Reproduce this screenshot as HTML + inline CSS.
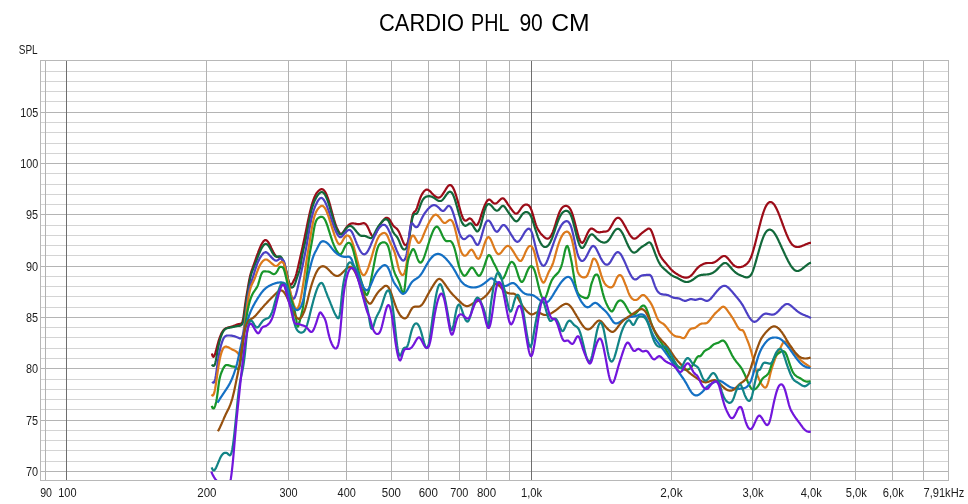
<!DOCTYPE html><html><head><meta charset="utf-8"><title>CARDIO PHL 90 CM</title>
<style>html,body{margin:0;padding:0;background:#fff;}svg{display:block;font-family:"Liberation Sans",sans-serif;}</style></head><body>
<svg width="968" height="504" viewBox="0 0 968 504">
<rect x="0" y="0" width="968" height="504" fill="#ffffff"/>
<g shape-rendering="crispEdges" fill="none" stroke-width="1">
<line x1="40" x2="949" y1="471.5" y2="471.5" stroke="#b4b4b4"/>
<line x1="40" x2="949" y1="461.5" y2="461.5" stroke="#d4d4d4"/>
<line x1="40" x2="949" y1="450.5" y2="450.5" stroke="#d4d4d4"/>
<line x1="40" x2="949" y1="440.5" y2="440.5" stroke="#d4d4d4"/>
<line x1="40" x2="949" y1="430.5" y2="430.5" stroke="#d4d4d4"/>
<line x1="40" x2="949" y1="420.5" y2="420.5" stroke="#b4b4b4"/>
<line x1="40" x2="949" y1="409.5" y2="409.5" stroke="#d4d4d4"/>
<line x1="40" x2="949" y1="399.5" y2="399.5" stroke="#d4d4d4"/>
<line x1="40" x2="949" y1="389.5" y2="389.5" stroke="#d4d4d4"/>
<line x1="40" x2="949" y1="379.5" y2="379.5" stroke="#d4d4d4"/>
<line x1="40" x2="949" y1="368.5" y2="368.5" stroke="#b4b4b4"/>
<line x1="40" x2="949" y1="358.5" y2="358.5" stroke="#d4d4d4"/>
<line x1="40" x2="949" y1="348.5" y2="348.5" stroke="#d4d4d4"/>
<line x1="40" x2="949" y1="337.5" y2="337.5" stroke="#d4d4d4"/>
<line x1="40" x2="949" y1="327.5" y2="327.5" stroke="#d4d4d4"/>
<line x1="40" x2="949" y1="317.5" y2="317.5" stroke="#b4b4b4"/>
<line x1="40" x2="949" y1="307.5" y2="307.5" stroke="#d4d4d4"/>
<line x1="40" x2="949" y1="296.5" y2="296.5" stroke="#d4d4d4"/>
<line x1="40" x2="949" y1="286.5" y2="286.5" stroke="#d4d4d4"/>
<line x1="40" x2="949" y1="276.5" y2="276.5" stroke="#d4d4d4"/>
<line x1="40" x2="949" y1="266.5" y2="266.5" stroke="#b4b4b4"/>
<line x1="40" x2="949" y1="255.5" y2="255.5" stroke="#d4d4d4"/>
<line x1="40" x2="949" y1="245.5" y2="245.5" stroke="#d4d4d4"/>
<line x1="40" x2="949" y1="235.5" y2="235.5" stroke="#d4d4d4"/>
<line x1="40" x2="949" y1="225.5" y2="225.5" stroke="#d4d4d4"/>
<line x1="40" x2="949" y1="214.5" y2="214.5" stroke="#b4b4b4"/>
<line x1="40" x2="949" y1="204.5" y2="204.5" stroke="#d4d4d4"/>
<line x1="40" x2="949" y1="194.5" y2="194.5" stroke="#d4d4d4"/>
<line x1="40" x2="949" y1="184.5" y2="184.5" stroke="#d4d4d4"/>
<line x1="40" x2="949" y1="173.5" y2="173.5" stroke="#d4d4d4"/>
<line x1="40" x2="949" y1="163.5" y2="163.5" stroke="#b4b4b4"/>
<line x1="40" x2="949" y1="153.5" y2="153.5" stroke="#d4d4d4"/>
<line x1="40" x2="949" y1="143.5" y2="143.5" stroke="#d4d4d4"/>
<line x1="40" x2="949" y1="132.5" y2="132.5" stroke="#d4d4d4"/>
<line x1="40" x2="949" y1="122.5" y2="122.5" stroke="#d4d4d4"/>
<line x1="40" x2="949" y1="112.5" y2="112.5" stroke="#b4b4b4"/>
<line x1="40" x2="949" y1="101.5" y2="101.5" stroke="#d4d4d4"/>
<line x1="40" x2="949" y1="91.5" y2="91.5" stroke="#d4d4d4"/>
<line x1="40" x2="949" y1="81.5" y2="81.5" stroke="#d4d4d4"/>
<line x1="40" x2="949" y1="71.5" y2="71.5" stroke="#d4d4d4"/>
<line x1="45.5" x2="45.5" y1="60" y2="481" stroke="#b2b2b2"/>
<line x1="206.5" x2="206.5" y1="60" y2="481" stroke="#b2b2b2"/>
<line x1="288.5" x2="288.5" y1="60" y2="481" stroke="#b2b2b2"/>
<line x1="346.5" x2="346.5" y1="60" y2="481" stroke="#b2b2b2"/>
<line x1="391.5" x2="391.5" y1="60" y2="481" stroke="#b2b2b2"/>
<line x1="428.5" x2="428.5" y1="60" y2="481" stroke="#b2b2b2"/>
<line x1="459.5" x2="459.5" y1="60" y2="481" stroke="#b2b2b2"/>
<line x1="486.5" x2="486.5" y1="60" y2="481" stroke="#b2b2b2"/>
<line x1="509.5" x2="509.5" y1="60" y2="481" stroke="#b2b2b2"/>
<line x1="671.5" x2="671.5" y1="60" y2="481" stroke="#b2b2b2"/>
<line x1="752.5" x2="752.5" y1="60" y2="481" stroke="#b2b2b2"/>
<line x1="810.5" x2="810.5" y1="60" y2="481" stroke="#b2b2b2"/>
<line x1="855.5" x2="855.5" y1="60" y2="481" stroke="#b2b2b2"/>
<line x1="892.5" x2="892.5" y1="60" y2="481" stroke="#b2b2b2"/>
<line x1="923.5" x2="923.5" y1="60" y2="481" stroke="#b2b2b2"/>
<line x1="66.5" x2="66.5" y1="60" y2="481" stroke="#6e6e6e"/>
<line x1="531.5" x2="531.5" y1="60" y2="481" stroke="#6e6e6e"/>
<rect x="40.5" y="60.5" width="908" height="420" stroke="#b8b8b8"/>
</g>
<clipPath id="pc"><rect x="41" y="61" width="907" height="419"/></clipPath>
<g clip-path="url(#pc)" fill="none" stroke-width="2.2" stroke-linejoin="round" stroke-linecap="butt">
<path d="M211.9,353.5L212.4,355.4L212.9,356.4L213.4,356.8L213.9,356.5L214.4,355.7L214.9,354.5L215.4,352.9L215.9,351.1L216.4,349.2L216.9,347.2L217.4,345.3L217.9,343.5L218.4,341.7L218.9,340.1L219.4,338.6L219.9,337.1L220.4,335.8L220.9,334.6L221.4,333.6L221.9,332.6L222.4,331.8L222.9,331.0L223.4,330.3L223.9,329.8L224.4,329.3L224.9,328.9L225.4,328.6L225.9,328.3L226.4,328.1L226.9,327.9L227.4,327.7L227.9,327.6L228.4,327.5L228.9,327.3L229.4,327.2L229.9,327.1L230.4,327.0L230.9,326.8L231.4,326.7L231.9,326.5L232.4,326.4L232.9,326.2L233.4,326.0L233.9,325.8L234.4,325.6L234.9,325.4L235.4,325.2L235.9,325.0L236.4,324.8L236.9,324.6L237.4,324.4L237.9,324.3L238.4,324.2L238.9,324.1L239.4,324.0L239.9,323.9L240.4,323.8L240.9,323.8L241.4,323.5L241.9,323.0L242.4,321.9L242.9,320.1L243.4,317.4L243.9,314.0L244.4,310.2L244.9,306.4L245.4,302.8L245.9,299.5L246.4,296.4L246.9,293.5L247.4,290.6L247.9,287.7L248.4,284.7L248.9,281.9L249.4,279.2L249.9,276.9L250.4,274.8L250.9,273.0L251.4,271.4L251.9,269.9L252.4,268.5L252.9,267.1L253.4,265.7L253.9,264.3L254.4,262.9L254.9,261.5L255.4,260.1L255.9,258.7L256.4,257.2L256.9,255.8L257.4,254.4L257.9,253.1L258.4,251.7L258.9,250.4L259.4,249.1L259.9,247.9L260.4,246.7L260.9,245.6L261.4,244.6L261.9,243.7L262.4,242.8L262.9,242.1L263.4,241.4L263.9,240.9L264.4,240.5L264.9,240.2L265.4,240.1L265.9,240.2L266.4,240.3L266.9,240.7L267.4,241.1L267.9,241.7L268.4,242.4L268.9,243.2L269.4,244.1L269.9,245.1L270.4,246.1L270.9,247.1L271.4,248.2L271.9,249.2L272.4,250.3L272.9,251.3L273.4,252.3L273.9,253.2L274.4,254.0L274.9,254.8L275.4,255.4L275.9,256.0L276.4,256.4L276.9,256.8L277.4,256.9L277.9,257.0L278.4,257.1L278.9,257.1L279.4,257.2L279.9,257.3L280.4,257.6L280.9,258.0L281.4,258.5L281.9,259.2L282.4,260.1L282.9,261.1L283.4,262.3L283.9,263.7L284.4,265.2L284.9,266.8L285.4,268.6L285.9,270.6L286.4,272.6L286.9,274.7L287.4,276.7L287.9,278.7L288.4,280.5L288.9,282.0L289.4,283.2L289.9,284.1L290.4,284.6L290.9,284.7L291.4,284.4L291.9,283.9L292.4,283.1L292.9,282.2L293.4,281.2L293.9,280.2L294.4,279.2L294.9,278.1L295.4,276.8L295.9,275.4L296.4,273.8L296.9,271.9L297.4,269.8L297.9,267.7L298.4,265.5L298.9,263.3L299.4,261.1L299.9,258.9L300.4,256.6L300.9,254.4L301.4,252.2L301.9,250.0L302.4,247.7L302.9,245.4L303.4,243.1L303.9,240.8L304.4,238.4L304.9,236.0L305.4,233.5L305.9,231.1L306.4,228.6L306.9,226.1L307.4,223.7L307.9,221.3L308.4,219.0L308.9,216.7L309.4,214.4L309.9,212.3L310.4,210.2L310.9,208.3L311.4,206.4L311.9,204.6L312.4,202.9L312.9,201.4L313.4,199.9L313.9,198.5L314.4,197.3L314.9,196.2L315.4,195.2L315.9,194.3L316.4,193.4L316.9,192.7L317.4,192.1L317.9,191.5L318.4,191.0L318.9,190.5L319.4,190.1L319.9,189.8L320.4,189.5L320.9,189.3L321.4,189.2L321.9,189.2L322.4,189.3L322.9,189.5L323.4,189.8L323.9,190.3L324.4,190.9L324.9,191.5L325.4,192.3L325.9,193.3L326.4,194.3L326.9,195.5L327.4,196.8L327.9,198.2L328.4,199.6L328.9,201.2L329.4,202.9L329.9,204.6L330.4,206.4L330.9,208.3L331.4,210.1L331.9,212.0L332.4,213.9L332.9,215.7L333.4,217.5L333.9,219.3L334.4,220.9L334.9,222.5L335.4,224.0L335.9,225.4L336.4,226.7L336.9,227.9L337.4,229.0L337.9,230.1L338.4,231.0L338.9,231.9L339.4,232.7L339.9,233.3L340.4,233.7L340.9,233.9L341.4,233.9L341.9,233.6L342.4,233.1L342.9,232.6L343.4,231.9L343.9,231.1L344.4,230.3L344.9,229.6L345.4,228.8L345.9,228.1L346.4,227.4L346.9,226.8L347.4,226.2L347.9,225.7L348.4,225.2L348.9,224.7L349.4,224.4L349.9,224.1L350.4,223.8L350.9,223.7L351.4,223.5L351.9,223.4L352.4,223.4L352.9,223.4L353.4,223.4L353.9,223.5L354.4,223.5L354.9,223.6L355.4,223.7L355.9,223.8L356.4,223.9L356.9,224.0L357.4,224.0L357.9,224.1L358.4,224.1L358.9,224.1L359.4,224.0L359.9,224.0L360.4,223.9L360.9,223.8L361.4,223.7L361.9,223.5L362.4,223.4L362.9,223.3L363.4,223.2L363.9,223.2L364.4,223.3L364.9,223.5L365.4,223.9L365.9,224.3L366.4,224.9L366.9,225.6L367.4,226.5L367.9,227.4L368.4,228.5L368.9,229.6L369.4,230.7L369.9,231.9L370.4,232.9L370.9,233.9L371.4,234.8L371.9,235.5L372.4,235.9L372.9,236.2L373.4,236.2L373.9,236.0L374.4,235.6L374.9,235.0L375.4,234.2L375.9,233.2L376.4,232.2L376.9,231.1L377.4,230.0L377.9,228.9L378.4,227.8L378.9,226.8L379.4,225.9L379.9,225.0L380.4,224.2L380.9,223.4L381.4,222.7L381.9,222.0L382.4,221.3L382.9,220.7L383.4,220.1L383.9,219.5L384.4,219.0L384.9,218.6L385.4,218.2L385.9,217.9L386.4,217.8L386.9,217.8L387.4,217.9L387.9,218.1L388.4,218.4L388.9,218.9L389.4,219.5L389.9,220.2L390.4,221.0L390.9,221.9L391.4,222.7L391.9,223.6L392.4,224.5L392.9,225.2L393.4,225.8L393.9,226.3L394.4,226.8L394.9,227.2L395.4,227.6L395.9,228.0L396.4,228.4L396.9,228.9L397.4,229.4L397.9,230.1L398.4,230.9L398.9,231.8L399.4,232.8L399.9,234.0L400.4,235.2L400.9,236.4L401.4,237.6L401.9,238.9L402.4,240.2L402.9,241.4L403.4,242.5L403.9,243.5L404.4,244.3L404.9,244.9L405.4,245.2L405.9,245.2L406.4,245.0L406.9,244.3L407.4,243.3L407.9,241.9L408.4,240.1L408.9,237.8L409.4,235.0L409.9,231.7L410.4,228.3L410.9,224.7L411.4,221.4L411.9,218.4L412.4,216.0L412.9,214.3L413.4,213.2L413.9,212.4L414.4,211.9L414.9,211.4L415.4,211.0L415.9,210.3L416.4,209.3L416.9,208.1L417.4,206.7L417.9,205.2L418.4,203.6L418.9,202.0L419.4,200.4L419.9,199.0L420.4,197.7L420.9,196.5L421.4,195.4L421.9,194.4L422.4,193.6L422.9,192.8L423.4,192.1L423.9,191.5L424.4,190.9L424.9,190.5L425.4,190.1L425.9,189.8L426.4,189.7L426.9,189.6L427.4,189.7L427.9,189.8L428.4,190.0L428.9,190.4L429.4,190.7L429.9,191.2L430.4,191.6L430.9,192.1L431.4,192.7L431.9,193.2L432.4,193.7L432.9,194.3L433.4,194.8L433.9,195.2L434.4,195.7L434.9,196.1L435.4,196.5L435.9,196.8L436.4,197.1L436.9,197.3L437.4,197.5L437.9,197.6L438.4,197.6L438.9,197.6L439.4,197.5L439.9,197.2L440.4,196.9L440.9,196.5L441.4,196.0L441.9,195.4L442.4,194.7L442.9,194.0L443.4,193.2L443.9,192.4L444.4,191.6L444.9,190.8L445.4,190.0L445.9,189.2L446.4,188.4L446.9,187.6L447.4,186.9L447.9,186.3L448.4,185.8L448.9,185.4L449.4,185.1L449.9,185.0L450.4,185.0L450.9,185.2L451.4,185.6L451.9,186.1L452.4,186.7L452.9,187.5L453.4,188.4L453.9,189.5L454.4,190.7L454.9,192.0L455.4,193.4L455.9,194.9L456.4,196.5L456.9,198.2L457.4,199.9L457.9,201.7L458.4,203.5L458.9,205.3L459.4,207.1L459.9,208.9L460.4,210.7L460.9,212.4L461.4,214.0L461.9,215.4L462.4,216.8L462.9,217.9L463.4,218.9L463.9,219.7L464.4,220.2L464.9,220.5L465.4,220.7L465.9,220.7L466.4,220.5L466.9,220.2L467.4,219.8L467.9,219.4L468.4,219.0L468.9,218.7L469.4,218.4L469.9,218.4L470.4,218.6L470.9,218.9L471.4,219.3L471.9,219.9L472.4,220.5L472.9,221.3L473.4,222.0L473.9,222.7L474.4,223.5L474.9,224.1L475.4,224.7L475.9,225.0L476.4,225.2L476.9,225.1L477.4,224.7L477.9,224.0L478.4,223.1L478.9,222.0L479.4,220.7L479.9,219.3L480.4,217.8L480.9,216.3L481.4,214.7L481.9,213.2L482.4,211.7L482.9,210.2L483.4,208.8L483.9,207.5L484.4,206.2L484.9,205.0L485.4,203.9L485.9,202.9L486.4,202.0L486.9,201.2L487.4,200.6L487.9,200.1L488.4,199.8L488.9,199.6L489.4,199.6L489.9,199.8L490.4,200.1L490.9,200.5L491.4,201.0L491.9,201.6L492.4,202.1L492.9,202.6L493.4,203.0L493.9,203.3L494.4,203.5L494.9,203.6L495.4,203.5L495.9,203.4L496.4,203.2L496.9,202.9L497.4,202.5L497.9,202.0L498.4,201.5L498.9,201.0L499.4,200.5L499.9,200.0L500.4,199.5L500.9,199.1L501.4,198.7L501.9,198.5L502.4,198.3L502.9,198.3L503.4,198.5L503.9,198.8L504.4,199.3L504.9,199.9L505.4,200.5L505.9,201.2L506.4,202.0L506.9,202.7L507.4,203.5L507.9,204.3L508.4,205.0L508.9,205.7L509.4,206.4L509.9,207.1L510.4,207.8L510.9,208.5L511.4,209.2L511.9,209.8L512.4,210.5L512.9,211.1L513.4,211.7L513.9,212.3L514.4,212.8L514.9,213.2L515.4,213.5L515.9,213.6L516.4,213.6L516.9,213.5L517.4,213.2L517.9,212.7L518.4,212.2L518.9,211.5L519.4,210.8L519.9,210.1L520.4,209.3L520.9,208.6L521.4,207.9L521.9,207.2L522.4,206.6L522.9,206.1L523.4,205.7L523.9,205.3L524.4,205.0L524.9,204.8L525.4,204.6L525.9,204.6L526.4,204.6L526.9,204.6L527.4,204.7L527.9,204.9L528.4,205.2L528.9,205.6L529.4,206.2L529.9,206.9L530.4,207.7L530.9,208.8L531.4,210.0L531.9,211.4L532.4,213.0L532.9,214.6L533.4,216.4L533.9,218.1L534.4,219.9L534.9,221.6L535.4,223.2L535.9,224.6L536.4,225.9L536.9,227.1L537.4,228.2L537.9,229.2L538.4,230.1L538.9,231.0L539.4,231.7L539.9,232.4L540.4,233.1L540.9,233.7L541.4,234.2L541.9,234.7L542.4,235.3L542.9,235.8L543.4,236.3L543.9,236.8L544.4,237.2L544.9,237.6L545.4,238.0L545.9,238.3L546.4,238.5L546.9,238.6L547.4,238.7L547.9,238.6L548.4,238.5L548.9,238.2L549.4,237.8L549.9,237.3L550.4,236.7L550.9,235.9L551.4,235.1L551.9,234.1L552.4,233.0L552.9,231.8L553.4,230.5L553.9,229.1L554.4,227.6L554.9,226.1L555.4,224.5L555.9,222.8L556.4,221.2L556.9,219.6L557.4,218.0L557.9,216.5L558.4,215.0L558.9,213.7L559.4,212.4L559.9,211.3L560.4,210.3L560.9,209.5L561.4,208.7L561.9,208.0L562.4,207.5L562.9,207.0L563.4,206.6L563.9,206.4L564.4,206.1L564.9,206.0L565.4,205.9L565.9,205.9L566.4,205.9L566.9,206.0L567.4,206.2L567.9,206.4L568.4,206.8L568.9,207.2L569.4,207.8L569.9,208.5L570.4,209.3L570.9,210.3L571.4,211.4L571.9,212.6L572.4,214.1L572.9,215.6L573.4,217.3L573.9,219.1L574.4,220.9L574.9,222.8L575.4,224.8L575.9,226.7L576.4,228.7L576.9,230.6L577.4,232.5L577.9,234.3L578.4,236.0L578.9,237.6L579.4,239.0L579.9,240.2L580.4,241.3L580.9,242.0L581.4,242.6L581.9,242.8L582.4,242.8L582.9,242.4L583.4,241.9L583.9,241.1L584.4,240.2L584.9,239.1L585.4,238.0L585.9,236.9L586.4,235.7L586.9,234.6L587.4,233.5L587.9,232.5L588.4,231.6L588.9,230.7L589.4,230.0L589.9,229.4L590.4,229.0L590.9,228.7L591.4,228.6L591.9,228.6L592.4,228.7L592.9,228.9L593.4,229.2L593.9,229.5L594.4,229.9L594.9,230.3L595.4,230.7L595.9,231.1L596.4,231.5L596.9,231.8L597.4,232.0L597.9,232.1L598.4,232.2L598.9,232.3L599.4,232.3L599.9,232.3L600.4,232.2L600.9,232.1L601.4,232.0L601.9,232.0L602.4,231.9L602.9,231.8L603.4,231.7L603.9,231.7L604.4,231.7L604.9,231.6L605.4,231.6L605.9,231.5L606.4,231.4L606.9,231.2L607.4,231.0L607.9,230.7L608.4,230.3L608.9,229.8L609.4,229.2L609.9,228.5L610.4,227.7L610.9,226.8L611.4,225.9L611.9,225.0L612.4,224.1L612.9,223.2L613.4,222.3L613.9,221.4L614.4,220.7L614.9,220.0L615.4,219.3L615.9,218.8L616.4,218.4L616.9,218.1L617.4,217.9L617.9,217.8L618.4,217.8L618.9,217.9L619.4,218.2L619.9,218.6L620.4,219.0L620.9,219.6L621.4,220.2L621.9,220.9L622.4,221.7L622.9,222.5L623.4,223.3L623.9,224.2L624.4,225.1L624.9,226.0L625.4,226.9L625.9,227.8L626.4,228.8L626.9,229.7L627.4,230.6L627.9,231.5L628.4,232.4L628.9,233.3L629.4,234.1L629.9,234.9L630.4,235.6L630.9,236.3L631.4,236.9L631.9,237.4L632.4,237.8L632.9,238.2L633.4,238.5L633.9,238.6L634.4,238.7L634.9,238.6L635.4,238.5L635.9,238.3L636.4,238.0L636.9,237.6L637.4,237.2L637.9,236.8L638.4,236.3L638.9,235.8L639.4,235.4L639.9,234.9L640.4,234.4L640.9,233.9L641.4,233.5L641.9,233.1L642.4,232.7L642.9,232.3L643.4,231.9L643.9,231.5L644.4,231.2L644.9,230.8L645.4,230.5L645.9,230.1L646.4,229.8L646.9,229.4L647.4,229.1L647.9,228.8L648.4,228.6L648.9,228.6L649.4,228.6L649.9,228.9L650.4,229.3L650.9,230.0L651.4,231.0L651.9,232.0L652.4,233.3L652.9,234.7L653.4,236.1L653.9,237.7L654.4,239.2L654.9,240.8L655.4,242.5L655.9,244.1L656.4,245.6L656.9,247.2L657.4,248.7L657.9,250.2L658.4,251.5L658.9,252.8L659.4,254.0L659.9,255.0L660.4,256.0L660.9,256.9L661.4,257.7L661.9,258.5L662.4,259.1L662.9,259.8L663.4,260.4L663.9,261.0L664.4,261.6L664.9,262.1L665.4,262.7L665.9,263.3L666.4,263.9L666.9,264.5L667.4,265.1L667.9,265.7L668.4,266.3L668.9,266.9L669.4,267.5L669.9,268.1L670.4,268.7L670.9,269.2L671.4,269.7L671.9,270.2L672.4,270.7L672.9,271.1L673.4,271.6L673.9,272.0L674.4,272.3L674.9,272.7L675.4,273.0L675.9,273.4L676.4,273.7L676.9,274.0L677.4,274.3L677.9,274.6L678.4,274.9L678.9,275.2L679.4,275.4L679.9,275.7L680.4,276.0L680.9,276.2L681.4,276.5L681.9,276.7L682.4,276.9L682.9,277.1L683.4,277.3L683.9,277.4L684.4,277.5L684.9,277.6L685.4,277.7L685.9,277.7L686.4,277.7L686.9,277.6L687.4,277.5L687.9,277.4L688.4,277.2L688.9,277.0L689.4,276.7L689.9,276.4L690.4,276.1L690.9,275.7L691.4,275.2L691.9,274.7L692.4,274.2L692.9,273.6L693.4,273.0L693.9,272.3L694.4,271.7L694.9,271.1L695.4,270.4L695.9,269.8L696.4,269.2L696.9,268.6L697.4,268.1L697.9,267.6L698.4,267.2L698.9,266.7L699.4,266.3L699.9,266.0L700.4,265.6L700.9,265.3L701.4,265.0L701.9,264.7L702.4,264.5L702.9,264.2L703.4,264.0L703.9,263.8L704.4,263.6L704.9,263.5L705.4,263.3L705.9,263.2L706.4,263.1L706.9,263.1L707.4,263.0L707.9,263.0L708.4,263.0L708.9,263.0L709.4,263.0L709.9,263.0L710.4,263.0L710.9,263.0L711.4,263.0L711.9,263.0L712.4,262.9L712.9,262.8L713.4,262.6L713.9,262.5L714.4,262.2L714.9,262.0L715.4,261.7L715.9,261.4L716.4,261.0L716.9,260.7L717.4,260.3L717.9,259.9L718.4,259.5L718.9,259.1L719.4,258.7L719.9,258.2L720.4,257.8L720.9,257.4L721.4,257.0L721.9,256.7L722.4,256.4L722.9,256.2L723.4,256.0L723.9,256.0L724.4,256.0L724.9,256.1L725.4,256.3L725.9,256.6L726.4,257.0L726.9,257.4L727.4,257.9L727.9,258.4L728.4,259.0L728.9,259.6L729.4,260.2L729.9,260.8L730.4,261.5L730.9,262.1L731.4,262.7L731.9,263.3L732.4,263.9L732.9,264.5L733.4,264.9L733.9,265.4L734.4,265.8L734.9,266.1L735.4,266.4L735.9,266.6L736.4,266.8L736.9,267.0L737.4,267.1L737.9,267.2L738.4,267.2L738.9,267.3L739.4,267.2L739.9,267.2L740.4,267.1L740.9,267.0L741.4,266.9L741.9,266.8L742.4,266.6L742.9,266.4L743.4,266.2L743.9,265.9L744.4,265.6L744.9,265.3L745.4,265.0L745.9,264.6L746.4,264.2L746.9,263.7L747.4,263.2L747.9,262.7L748.4,262.0L748.9,261.3L749.4,260.5L749.9,259.6L750.4,258.6L750.9,257.5L751.4,256.2L751.9,254.8L752.4,253.3L752.9,251.7L753.4,250.0L753.9,248.3L754.4,246.5L754.9,244.6L755.4,242.7L755.9,240.7L756.4,238.7L756.9,236.7L757.4,234.7L757.9,232.6L758.4,230.6L758.9,228.6L759.4,226.6L759.9,224.7L760.4,222.7L760.9,220.8L761.4,219.0L761.9,217.3L762.4,215.6L762.9,213.9L763.4,212.4L763.9,211.0L764.4,209.6L764.9,208.4L765.4,207.3L765.9,206.3L766.4,205.4L766.9,204.6L767.4,203.9L767.9,203.3L768.4,202.9L768.9,202.5L769.4,202.2L769.9,202.1L770.4,202.0L770.9,202.0L771.4,202.2L771.9,202.4L772.4,202.7L772.9,203.2L773.4,203.7L773.9,204.3L774.4,204.9L774.9,205.7L775.4,206.6L775.9,207.5L776.4,208.5L776.9,209.5L777.4,210.6L777.9,211.7L778.4,212.9L778.9,214.2L779.4,215.4L779.9,216.7L780.4,218.1L780.9,219.4L781.4,220.7L781.9,222.1L782.4,223.5L782.9,224.8L783.4,226.2L783.9,227.5L784.4,228.9L784.9,230.2L785.4,231.5L785.9,232.7L786.4,234.0L786.9,235.1L787.4,236.3L787.9,237.4L788.4,238.5L788.9,239.5L789.4,240.4L789.9,241.3L790.4,242.1L790.9,242.9L791.4,243.6L791.9,244.2L792.4,244.8L792.9,245.2L793.4,245.6L793.9,246.0L794.4,246.3L794.9,246.5L795.4,246.7L795.9,246.8L796.4,246.9L796.9,247.0L797.4,247.0L797.9,247.0L798.4,247.0L798.9,246.9L799.4,246.8L799.9,246.7L800.4,246.5L800.9,246.4L801.4,246.2L801.9,246.0L802.4,245.8L802.9,245.6L803.4,245.4L803.9,245.2L804.4,244.9L804.9,244.7L805.4,244.5L805.9,244.3L806.4,244.1L806.9,243.9L807.4,243.7L807.9,243.5L808.4,243.3L808.9,243.2L809.4,243.0L809.9,242.9L810.4,242.9L810.9,242.8L811.0,242.8" stroke="#9c0c18"/>
<path d="M211.9,364.5L212.4,365.3L212.9,365.8L213.4,366.0L213.9,365.9L214.4,365.3L214.9,364.2L215.4,362.6L215.9,360.3L216.4,357.6L216.9,354.7L217.4,351.7L217.9,348.9L218.4,346.3L218.9,344.0L219.4,341.9L219.9,340.0L220.4,338.2L220.9,336.7L221.4,335.3L221.9,334.0L222.4,332.9L222.9,332.0L223.4,331.1L223.9,330.5L224.4,329.9L224.9,329.4L225.4,329.0L225.9,328.7L226.4,328.5L226.9,328.3L227.4,328.1L227.9,328.0L228.4,327.9L228.9,327.8L229.4,327.7L229.9,327.6L230.4,327.5L230.9,327.4L231.4,327.3L231.9,327.2L232.4,327.1L232.9,327.0L233.4,326.9L233.9,326.8L234.4,326.7L234.9,326.6L235.4,326.4L235.9,326.3L236.4,326.2L236.9,326.1L237.4,326.0L237.9,326.0L238.4,325.9L238.9,325.9L239.4,325.8L239.9,325.7L240.4,325.6L240.9,325.3L241.4,325.0L241.9,324.5L242.4,323.7L242.9,322.5L243.4,320.7L243.9,318.1L244.4,314.8L244.9,311.1L245.4,307.3L245.9,303.6L246.4,300.3L246.9,297.2L247.4,294.2L247.9,291.4L248.4,288.5L248.9,285.5L249.4,282.6L249.9,279.9L250.4,277.5L250.9,275.5L251.4,273.7L251.9,272.2L252.4,270.8L252.9,269.5L253.4,268.4L253.9,267.2L254.4,266.0L254.9,264.7L255.4,263.4L255.9,262.1L256.4,260.8L256.9,259.4L257.4,258.1L257.9,256.7L258.4,255.4L258.9,254.2L259.4,253.0L259.9,251.8L260.4,250.7L260.9,249.6L261.4,248.6L261.9,247.7L262.4,246.9L262.9,246.1L263.4,245.5L263.9,244.9L264.4,244.4L264.9,244.1L265.4,243.9L265.9,243.9L266.4,244.0L266.9,244.2L267.4,244.6L267.9,245.1L268.4,245.7L268.9,246.4L269.4,247.2L269.9,248.0L270.4,248.9L270.9,249.8L271.4,250.8L271.9,251.7L272.4,252.6L272.9,253.4L273.4,254.1L273.9,254.8L274.4,255.4L274.9,255.9L275.4,256.3L275.9,256.5L276.4,256.7L276.9,256.8L277.4,256.8L277.9,256.6L278.4,256.5L278.9,256.3L279.4,256.3L279.9,256.3L280.4,256.5L280.9,256.9L281.4,257.5L281.9,258.2L282.4,259.1L282.9,260.1L283.4,261.2L283.9,262.5L284.4,263.9L284.9,265.5L285.4,267.3L285.9,269.3L286.4,271.5L286.9,273.8L287.4,276.1L287.9,278.4L288.4,280.6L288.9,282.6L289.4,284.4L289.9,285.8L290.4,286.7L290.9,287.3L291.4,287.5L291.9,287.6L292.4,287.4L292.9,287.1L293.4,286.6L293.9,285.9L294.4,285.0L294.9,283.9L295.4,282.6L295.9,281.1L296.4,279.5L296.9,278.0L297.4,276.4L297.9,275.0L298.4,273.6L298.9,272.2L299.4,270.5L299.9,268.5L300.4,266.0L300.9,263.2L301.4,260.3L301.9,257.3L302.4,254.5L302.9,252.0L303.4,249.7L303.9,247.6L304.4,245.4L304.9,243.3L305.4,241.1L305.9,238.7L306.4,236.1L306.9,233.5L307.4,230.7L307.9,227.9L308.4,225.1L308.9,222.3L309.4,219.7L309.9,217.1L310.4,214.8L310.9,212.6L311.4,210.6L311.9,208.7L312.4,207.0L312.9,205.4L313.4,204.0L313.9,202.6L314.4,201.4L314.9,200.2L315.4,199.2L315.9,198.2L316.4,197.3L316.9,196.5L317.4,195.7L317.9,195.0L318.4,194.4L318.9,193.8L319.4,193.3L319.9,192.9L320.4,192.5L320.9,192.3L321.4,192.1L321.9,192.1L322.4,192.2L322.9,192.4L323.4,192.8L323.9,193.3L324.4,193.9L324.9,194.7L325.4,195.5L325.9,196.5L326.4,197.6L326.9,198.7L327.4,200.0L327.9,201.4L328.4,202.8L328.9,204.4L329.4,206.0L329.9,207.7L330.4,209.4L330.9,211.1L331.4,212.9L331.9,214.7L332.4,216.5L332.9,218.2L333.4,219.9L333.9,221.5L334.4,223.0L334.9,224.5L335.4,225.8L335.9,227.1L336.4,228.3L336.9,229.4L337.4,230.4L337.9,231.3L338.4,232.1L338.9,232.9L339.4,233.5L339.9,234.1L340.4,234.4L340.9,234.5L341.4,234.4L341.9,234.1L342.4,233.7L342.9,233.1L343.4,232.4L343.9,231.7L344.4,230.9L344.9,230.2L345.4,229.5L345.9,228.8L346.4,228.2L346.9,227.7L347.4,227.2L347.9,226.7L348.4,226.4L348.9,226.2L349.4,226.0L349.9,226.0L350.4,226.0L350.9,226.1L351.4,226.3L351.9,226.6L352.4,227.0L352.9,227.4L353.4,227.9L353.9,228.4L354.4,229.0L354.9,229.6L355.4,230.2L355.9,230.8L356.4,231.5L356.9,232.1L357.4,232.7L357.9,233.3L358.4,233.9L358.9,234.4L359.4,234.8L359.9,235.2L360.4,235.5L360.9,235.7L361.4,235.8L361.9,235.9L362.4,235.9L362.9,235.9L363.4,235.9L363.9,235.9L364.4,235.9L364.9,236.0L365.4,236.1L365.9,236.3L366.4,236.4L366.9,236.7L367.4,236.9L367.9,237.2L368.4,237.4L368.9,237.6L369.4,237.9L369.9,238.0L370.4,238.1L370.9,238.1L371.4,238.0L371.9,237.6L372.4,237.1L372.9,236.5L373.4,235.7L373.9,234.8L374.4,233.8L374.9,232.8L375.4,231.8L375.9,230.8L376.4,229.8L376.9,228.9L377.4,228.0L377.9,227.2L378.4,226.4L378.9,225.7L379.4,225.0L379.9,224.4L380.4,223.7L380.9,223.1L381.4,222.5L381.9,221.9L382.4,221.4L382.9,220.9L383.4,220.4L383.9,220.0L384.4,219.7L384.9,219.4L385.4,219.3L385.9,219.2L386.4,219.2L386.9,219.4L387.4,219.8L387.9,220.2L388.4,220.9L388.9,221.8L389.4,222.8L389.9,224.0L390.4,225.3L390.9,226.6L391.4,228.0L391.9,229.2L392.4,230.4L392.9,231.5L393.4,232.4L393.9,233.2L394.4,233.9L394.9,234.5L395.4,235.0L395.9,235.6L396.4,236.2L396.9,236.8L397.4,237.5L397.9,238.4L398.4,239.4L398.9,240.5L399.4,241.7L399.9,243.0L400.4,244.2L400.9,245.4L401.4,246.6L401.9,247.5L402.4,248.3L402.9,248.9L403.4,249.3L403.9,249.5L404.4,249.5L404.9,249.4L405.4,249.0L405.9,248.5L406.4,247.9L406.9,246.9L407.4,245.7L407.9,244.1L408.4,242.2L408.9,239.9L409.4,237.1L409.9,233.8L410.4,230.3L410.9,226.8L411.4,223.5L411.9,220.5L412.4,218.1L412.9,216.4L413.4,215.2L413.9,214.5L414.4,214.2L414.9,214.0L415.4,214.0L415.9,213.9L416.4,213.8L416.9,213.3L417.4,212.6L417.9,211.7L418.4,210.6L418.9,209.4L419.4,208.0L419.9,206.6L420.4,205.2L420.9,203.9L421.4,202.6L421.9,201.5L422.4,200.5L422.9,199.7L423.4,199.0L423.9,198.4L424.4,197.9L424.9,197.4L425.4,197.1L425.9,196.8L426.4,196.6L426.9,196.5L427.4,196.3L427.9,196.3L428.4,196.2L428.9,196.2L429.4,196.2L429.9,196.3L430.4,196.3L430.9,196.5L431.4,196.6L431.9,196.8L432.4,197.0L432.9,197.2L433.4,197.5L433.9,197.8L434.4,198.1L434.9,198.5L435.4,198.8L435.9,199.2L436.4,199.5L436.9,199.9L437.4,200.2L437.9,200.5L438.4,200.7L438.9,200.9L439.4,201.0L439.9,201.0L440.4,201.0L440.9,200.9L441.4,200.7L441.9,200.4L442.4,200.0L442.9,199.5L443.4,198.9L443.9,198.3L444.4,197.6L444.9,196.9L445.4,196.2L445.9,195.5L446.4,194.7L446.9,194.1L447.4,193.4L447.9,192.9L448.4,192.4L448.9,192.0L449.4,191.8L449.9,191.7L450.4,191.8L450.9,192.0L451.4,192.4L451.9,192.9L452.4,193.6L452.9,194.5L453.4,195.6L453.9,196.8L454.4,198.1L454.9,199.6L455.4,201.2L455.9,202.9L456.4,204.7L456.9,206.5L457.4,208.3L457.9,210.1L458.4,211.9L458.9,213.7L459.4,215.4L459.9,217.0L460.4,218.5L460.9,219.8L461.4,221.1L461.9,222.2L462.4,223.2L462.9,224.0L463.4,224.6L463.9,225.1L464.4,225.5L464.9,225.7L465.4,225.8L465.9,225.7L466.4,225.5L466.9,225.3L467.4,224.9L467.9,224.5L468.4,224.2L468.9,223.8L469.4,223.5L469.9,223.4L470.4,223.4L470.9,223.5L471.4,223.8L471.9,224.3L472.4,225.0L472.9,225.7L473.4,226.5L473.9,227.3L474.4,228.1L474.9,229.0L475.4,229.7L475.9,230.4L476.4,230.9L476.9,231.3L477.4,231.4L477.9,231.2L478.4,230.7L478.9,230.0L479.4,229.0L479.9,227.8L480.4,226.3L480.9,224.7L481.4,222.9L481.9,221.0L482.4,219.0L482.9,216.9L483.4,214.9L483.9,213.0L484.4,211.1L484.9,209.5L485.4,208.0L485.9,206.8L486.4,205.9L486.9,205.1L487.4,204.6L487.9,204.3L488.4,204.1L488.9,204.1L489.4,204.2L489.9,204.5L490.4,204.8L490.9,205.3L491.4,205.8L491.9,206.3L492.4,206.9L492.9,207.5L493.4,208.1L493.9,208.7L494.4,209.2L494.9,209.7L495.4,210.1L495.9,210.4L496.4,210.6L496.9,210.7L497.4,210.6L497.9,210.4L498.4,210.1L498.9,209.6L499.4,209.1L499.9,208.5L500.4,207.8L500.9,207.3L501.4,206.7L501.9,206.3L502.4,206.0L502.9,205.9L503.4,205.9L503.9,206.2L504.4,206.6L504.9,207.1L505.4,207.8L505.9,208.5L506.4,209.3L506.9,210.0L507.4,210.8L507.9,211.6L508.4,212.3L508.9,213.0L509.4,213.7L509.9,214.4L510.4,215.1L510.9,215.8L511.4,216.5L511.9,217.1L512.4,217.8L512.9,218.5L513.4,219.1L513.9,219.7L514.4,220.3L514.9,220.7L515.4,221.1L515.9,221.3L516.4,221.3L516.9,221.2L517.4,221.0L517.9,220.5L518.4,220.0L518.9,219.3L519.4,218.6L519.9,217.9L520.4,217.1L520.9,216.3L521.4,215.6L521.9,214.9L522.4,214.3L522.9,213.8L523.4,213.3L523.9,212.9L524.4,212.6L524.9,212.3L525.4,212.2L525.9,212.1L526.4,212.1L526.9,212.1L527.4,212.3L527.9,212.5L528.4,212.8L528.9,213.2L529.4,213.7L529.9,214.4L530.4,215.2L530.9,216.1L531.4,217.2L531.9,218.5L532.4,219.9L532.9,221.3L533.4,222.9L533.9,224.5L534.4,226.2L534.9,227.8L535.4,229.4L535.9,231.0L536.4,232.5L536.9,234.0L537.4,235.4L537.9,236.8L538.4,238.1L538.9,239.3L539.4,240.5L539.9,241.5L540.4,242.5L540.9,243.4L541.4,244.2L541.9,244.9L542.4,245.5L542.9,246.0L543.4,246.4L543.9,246.7L544.4,246.9L544.9,247.0L545.4,247.0L545.9,247.0L546.4,246.8L546.9,246.5L547.4,246.2L547.9,245.7L548.4,245.2L548.9,244.5L549.4,243.8L549.9,242.9L550.4,242.0L550.9,240.9L551.4,239.8L551.9,238.6L552.4,237.3L552.9,235.9L553.4,234.5L553.9,233.0L554.4,231.6L554.9,230.1L555.4,228.5L555.9,227.0L556.4,225.6L556.9,224.1L557.4,222.7L557.9,221.3L558.4,220.0L558.9,218.8L559.4,217.7L559.9,216.6L560.4,215.7L560.9,214.9L561.4,214.1L561.9,213.4L562.4,212.8L562.9,212.3L563.4,211.9L563.9,211.6L564.4,211.3L564.9,211.1L565.4,210.9L565.9,210.8L566.4,210.8L566.9,210.9L567.4,211.0L567.9,211.3L568.4,211.6L568.9,212.1L569.4,212.7L569.9,213.4L570.4,214.3L570.9,215.3L571.4,216.5L571.9,217.9L572.4,219.4L572.9,221.1L573.4,222.9L573.9,224.9L574.4,226.8L574.9,228.9L575.4,230.9L575.9,233.0L576.4,235.0L576.9,236.9L577.4,238.7L577.9,240.4L578.4,242.0L578.9,243.4L579.4,244.7L579.9,245.8L580.4,246.7L580.9,247.4L581.4,247.8L581.9,248.0L582.4,248.0L582.9,247.8L583.4,247.3L583.9,246.7L584.4,245.9L584.9,245.0L585.4,244.1L585.9,243.0L586.4,242.0L586.9,240.9L587.4,239.8L587.9,238.8L588.4,237.8L588.9,236.9L589.4,236.1L589.9,235.5L590.4,234.9L590.9,234.6L591.4,234.4L591.9,234.3L592.4,234.4L592.9,234.7L593.4,235.1L593.9,235.5L594.4,236.0L594.9,236.5L595.4,237.1L595.9,237.6L596.4,238.2L596.9,238.7L597.4,239.1L597.9,239.6L598.4,240.0L598.9,240.4L599.4,240.8L599.9,241.1L600.4,241.4L600.9,241.7L601.4,241.9L601.9,242.1L602.4,242.3L602.9,242.5L603.4,242.5L603.9,242.6L604.4,242.6L604.9,242.5L605.4,242.4L605.9,242.3L606.4,242.0L606.9,241.7L607.4,241.4L607.9,240.9L608.4,240.4L608.9,239.8L609.4,239.2L609.9,238.4L610.4,237.6L610.9,236.8L611.4,235.9L611.9,235.1L612.4,234.2L612.9,233.4L613.4,232.6L613.9,231.8L614.4,231.1L614.9,230.5L615.4,230.0L615.9,229.5L616.4,229.2L616.9,229.0L617.4,228.8L617.9,228.8L618.4,228.8L618.9,229.0L619.4,229.3L619.9,229.7L620.4,230.2L620.9,230.8L621.4,231.5L621.9,232.3L622.4,233.1L622.9,234.1L623.4,235.1L623.9,236.1L624.4,237.2L624.9,238.3L625.4,239.5L625.9,240.7L626.4,241.8L626.9,243.0L627.4,244.1L627.9,245.1L628.4,246.2L628.9,247.1L629.4,248.0L629.9,248.9L630.4,249.7L630.9,250.4L631.4,251.0L631.9,251.5L632.4,251.9L632.9,252.3L633.4,252.5L633.9,252.6L634.4,252.6L634.9,252.5L635.4,252.3L635.9,252.1L636.4,251.7L636.9,251.3L637.4,250.9L637.9,250.4L638.4,249.9L638.9,249.4L639.4,248.9L639.9,248.4L640.4,248.0L640.9,247.5L641.4,247.2L641.9,246.8L642.4,246.5L642.9,246.2L643.4,245.9L643.9,245.6L644.4,245.3L644.9,245.0L645.4,244.7L645.9,244.3L646.4,244.0L646.9,243.6L647.4,243.2L647.9,242.9L648.4,242.6L648.9,242.4L649.4,242.4L649.9,242.5L650.4,242.9L650.9,243.5L651.4,244.3L651.9,245.2L652.4,246.4L652.9,247.6L653.4,248.9L653.9,250.2L654.4,251.5L654.9,252.8L655.4,254.2L655.9,255.5L656.4,256.7L656.9,257.9L657.4,259.1L657.9,260.2L658.4,261.3L658.9,262.3L659.4,263.2L659.9,264.0L660.4,264.8L660.9,265.5L661.4,266.1L661.9,266.7L662.4,267.2L662.9,267.7L663.4,268.2L663.9,268.7L664.4,269.1L664.9,269.6L665.4,270.0L665.9,270.4L666.4,270.9L666.9,271.3L667.4,271.8L667.9,272.2L668.4,272.7L668.9,273.1L669.4,273.5L669.9,273.9L670.4,274.3L670.9,274.7L671.4,275.0L671.9,275.4L672.4,275.7L672.9,275.9L673.4,276.2L673.9,276.4L674.4,276.7L674.9,276.9L675.4,277.1L675.9,277.4L676.4,277.6L676.9,277.8L677.4,278.1L677.9,278.3L678.4,278.6L678.9,278.9L679.4,279.1L679.9,279.4L680.4,279.7L680.9,280.0L681.4,280.3L681.9,280.6L682.4,280.8L682.9,281.0L683.4,281.3L683.9,281.5L684.4,281.6L684.9,281.8L685.4,281.9L685.9,282.0L686.4,282.0L686.9,282.0L687.4,282.0L687.9,281.9L688.4,281.8L688.9,281.7L689.4,281.5L689.9,281.4L690.4,281.1L690.9,280.9L691.4,280.6L691.9,280.3L692.4,280.0L692.9,279.7L693.4,279.3L693.9,278.9L694.4,278.6L694.9,278.2L695.4,277.8L695.9,277.4L696.4,277.0L696.9,276.7L697.4,276.4L697.9,276.1L698.4,275.9L698.9,275.6L699.4,275.5L699.9,275.3L700.4,275.2L700.9,275.0L701.4,274.9L701.9,274.9L702.4,274.8L702.9,274.8L703.4,274.7L703.9,274.7L704.4,274.6L704.9,274.6L705.4,274.6L705.9,274.5L706.4,274.5L706.9,274.5L707.4,274.4L707.9,274.3L708.4,274.3L708.9,274.2L709.4,274.1L709.9,273.9L710.4,273.8L710.9,273.6L711.4,273.5L711.9,273.2L712.4,273.0L712.9,272.8L713.4,272.5L713.9,272.1L714.4,271.8L714.9,271.4L715.4,271.0L715.9,270.6L716.4,270.1L716.9,269.6L717.4,269.1L717.9,268.6L718.4,268.1L718.9,267.5L719.4,267.0L719.9,266.5L720.4,266.0L720.9,265.5L721.4,265.0L721.9,264.6L722.4,264.1L722.9,263.8L723.4,263.5L723.9,263.2L724.4,263.1L724.9,263.0L725.4,263.0L725.9,263.1L726.4,263.3L726.9,263.6L727.4,264.0L727.9,264.4L728.4,264.9L728.9,265.5L729.4,266.1L729.9,266.6L730.4,267.2L730.9,267.8L731.4,268.4L731.9,268.9L732.4,269.5L732.9,270.0L733.4,270.5L733.9,271.0L734.4,271.5L734.9,271.9L735.4,272.4L735.9,272.8L736.4,273.1L736.9,273.5L737.4,273.8L737.9,274.1L738.4,274.4L738.9,274.6L739.4,274.9L739.9,275.1L740.4,275.3L740.9,275.5L741.4,275.7L741.9,275.9L742.4,276.1L742.9,276.3L743.4,276.5L743.9,276.7L744.4,276.9L744.9,277.1L745.4,277.2L745.9,277.3L746.4,277.3L746.9,277.3L747.4,277.3L747.9,277.2L748.4,277.1L748.9,276.8L749.4,276.5L749.9,276.1L750.4,275.6L750.9,274.9L751.4,274.1L751.9,273.2L752.4,272.1L752.9,270.9L753.4,269.5L753.9,268.0L754.4,266.5L754.9,264.8L755.4,263.1L755.9,261.4L756.4,259.6L756.9,257.8L757.4,256.0L757.9,254.3L758.4,252.5L758.9,250.7L759.4,249.0L759.9,247.3L760.4,245.6L760.9,244.0L761.4,242.4L761.9,240.9L762.4,239.5L762.9,238.1L763.4,236.9L763.9,235.7L764.4,234.6L764.9,233.7L765.4,232.8L765.9,232.1L766.4,231.5L766.9,230.9L767.4,230.5L767.9,230.2L768.4,229.9L768.9,229.7L769.4,229.7L769.9,229.7L770.4,229.7L770.9,229.9L771.4,230.1L771.9,230.4L772.4,230.8L772.9,231.3L773.4,231.8L773.9,232.4L774.4,233.1L774.9,233.8L775.4,234.6L775.9,235.5L776.4,236.4L776.9,237.3L777.4,238.3L777.9,239.3L778.4,240.3L778.9,241.4L779.4,242.4L779.9,243.5L780.4,244.6L780.9,245.7L781.4,246.8L781.9,247.9L782.4,248.9L782.9,250.0L783.4,251.1L783.9,252.2L784.4,253.3L784.9,254.4L785.4,255.4L785.9,256.5L786.4,257.5L786.9,258.6L787.4,259.6L787.9,260.6L788.4,261.5L788.9,262.4L789.4,263.3L789.9,264.2L790.4,265.0L790.9,265.8L791.4,266.5L791.9,267.2L792.4,267.9L792.9,268.4L793.4,269.0L793.9,269.4L794.4,269.9L794.9,270.2L795.4,270.5L795.9,270.7L796.4,270.9L796.9,271.0L797.4,271.0L797.9,271.0L798.4,270.9L798.9,270.7L799.4,270.5L799.9,270.3L800.4,270.0L800.9,269.7L801.4,269.4L801.9,269.0L802.4,268.6L802.9,268.2L803.4,267.8L803.9,267.4L804.4,267.0L804.9,266.6L805.4,266.2L805.9,265.8L806.4,265.4L806.9,265.0L807.4,264.6L807.9,264.3L808.4,263.9L808.9,263.6L809.4,263.3L809.9,263.1L810.4,262.9L810.9,262.7L811.0,262.7" stroke="#12683a"/>
<path d="M212.3,381.6L212.8,382.4L213.3,382.7L213.8,382.6L214.3,382.0L214.8,380.7L215.3,378.7L215.8,376.0L216.3,372.6L216.8,368.8L217.3,365.1L217.8,361.5L218.3,358.3L218.8,355.4L219.3,352.7L219.8,350.4L220.3,348.2L220.8,346.2L221.3,344.4L221.8,342.8L222.3,341.3L222.8,340.0L223.3,338.9L223.8,338.0L224.3,337.2L224.8,336.7L225.3,336.2L225.8,335.9L226.3,335.7L226.8,335.6L227.3,335.5L227.8,335.5L228.3,335.5L228.8,335.5L229.3,335.5L229.8,335.5L230.3,335.5L230.8,335.6L231.3,335.6L231.8,335.7L232.3,335.8L232.8,335.9L233.3,336.0L233.8,336.1L234.3,336.2L234.8,336.4L235.3,336.5L235.8,336.7L236.3,336.9L236.8,337.1L237.3,337.4L237.8,337.6L238.3,337.8L238.8,338.0L239.3,338.2L239.8,338.4L240.3,338.4L240.8,338.4L241.3,338.2L241.8,337.7L242.3,336.7L242.8,335.0L243.3,332.6L243.8,329.5L244.3,325.9L244.8,321.9L245.3,317.7L245.8,313.5L246.3,309.3L246.8,305.2L247.3,301.3L247.8,297.7L248.3,294.4L248.8,291.4L249.3,288.8L249.8,286.5L250.3,284.7L250.8,283.1L251.3,281.7L251.8,280.4L252.3,279.0L252.8,277.5L253.3,275.9L253.8,274.3L254.3,272.6L254.8,271.0L255.3,269.4L255.8,267.8L256.3,266.3L256.8,264.9L257.3,263.6L257.8,262.4L258.3,261.3L258.8,260.2L259.3,259.2L259.8,258.3L260.3,257.4L260.8,256.6L261.3,255.8L261.8,255.1L262.3,254.5L262.8,253.9L263.3,253.4L263.8,252.9L264.3,252.6L264.8,252.4L265.3,252.2L265.8,252.2L266.3,252.3L266.8,252.5L267.3,252.9L267.8,253.3L268.3,253.8L268.8,254.3L269.3,254.9L269.8,255.5L270.3,256.0L270.8,256.6L271.3,257.1L271.8,257.6L272.3,258.1L272.8,258.6L273.3,259.1L273.8,259.5L274.3,259.9L274.8,260.2L275.3,260.5L275.8,260.6L276.3,260.7L276.8,260.6L277.3,260.4L277.8,260.1L278.3,259.7L278.8,259.3L279.3,258.9L279.8,258.6L280.3,258.5L280.8,258.5L281.3,258.8L281.8,259.2L282.3,259.6L282.8,260.1L283.3,260.6L283.8,261.1L284.3,262.3L284.8,264.1L285.3,266.5L285.8,269.2L286.3,272.0L286.8,274.9L287.3,277.8L287.8,280.6L288.3,283.3L288.8,285.8L289.3,288.3L289.8,290.6L290.3,292.7L290.8,294.5L291.3,296.0L291.8,297.2L292.3,298.1L292.8,298.6L293.3,298.8L293.8,298.6L294.3,298.1L294.8,297.3L295.3,296.2L295.8,294.9L296.3,293.2L296.8,291.4L297.3,289.4L297.8,287.2L298.3,285.1L298.8,282.9L299.3,280.7L299.8,278.5L300.3,276.4L300.8,274.2L301.3,272.0L301.8,269.7L302.3,267.3L302.8,264.8L303.3,262.3L303.8,259.8L304.3,257.3L304.8,254.8L305.3,252.3L305.8,249.7L306.3,247.1L306.8,244.3L307.3,241.4L307.8,238.6L308.3,235.6L308.8,232.7L309.3,229.9L309.8,227.1L310.3,224.4L310.8,221.8L311.3,219.4L311.8,217.2L312.3,215.2L312.8,213.3L313.3,211.6L313.8,210.0L314.3,208.6L314.8,207.3L315.3,206.0L315.8,204.9L316.3,203.9L316.8,202.9L317.3,201.9L317.8,201.0L318.3,200.3L318.8,199.6L319.3,199.0L319.8,198.5L320.3,198.2L320.8,198.0L321.3,197.9L321.8,198.0L322.3,198.3L322.8,198.7L323.3,199.2L323.8,199.8L324.3,200.6L324.8,201.5L325.3,202.4L325.8,203.5L326.3,204.6L326.8,205.9L327.3,207.2L327.8,208.5L328.3,209.9L328.8,211.4L329.3,212.9L329.8,214.4L330.3,216.0L330.8,217.5L331.3,219.1L331.8,220.6L332.3,222.1L332.8,223.5L333.3,225.0L333.8,226.3L334.3,227.6L334.8,228.9L335.3,230.1L335.8,231.2L336.3,232.2L336.8,233.2L337.3,234.1L337.8,234.9L338.3,235.7L338.8,236.3L339.3,236.7L339.8,237.1L340.3,237.2L340.8,237.2L341.3,236.9L341.8,236.6L342.3,236.2L342.8,235.6L343.3,235.0L343.8,234.4L344.3,233.8L344.8,233.2L345.3,232.6L345.8,232.1L346.3,231.6L346.8,231.1L347.3,230.7L347.8,230.4L348.3,230.1L348.8,230.0L349.3,229.9L349.8,230.0L350.3,230.3L350.8,230.6L351.3,231.2L351.8,231.9L352.3,232.8L352.8,233.8L353.3,234.9L353.8,236.0L354.3,237.3L354.8,238.5L355.3,239.8L355.8,241.1L356.3,242.3L356.8,243.6L357.3,244.8L357.8,245.9L358.3,247.0L358.8,248.1L359.3,249.1L359.8,250.0L360.3,250.9L360.8,251.7L361.3,252.4L361.8,253.0L362.3,253.5L362.8,253.9L363.3,254.1L363.8,254.3L364.3,254.3L364.8,254.2L365.3,254.0L365.8,253.6L366.3,253.1L366.8,252.6L367.3,251.9L367.8,251.1L368.3,250.3L368.8,249.3L369.3,248.3L369.8,247.2L370.3,246.1L370.8,244.9L371.3,243.7L371.8,242.5L372.3,241.3L372.8,240.1L373.3,239.0L373.8,237.8L374.3,236.7L374.8,235.6L375.3,234.5L375.8,233.5L376.3,232.6L376.8,231.6L377.3,230.7L377.8,229.9L378.3,229.1L378.8,228.4L379.3,227.7L379.8,227.1L380.3,226.6L380.8,226.1L381.3,225.7L381.8,225.4L382.3,225.1L382.8,224.9L383.3,224.8L383.8,224.8L384.3,224.9L384.8,225.0L385.3,225.3L385.8,225.8L386.3,226.3L386.8,226.9L387.3,227.7L387.8,228.5L388.3,229.4L388.8,230.5L389.3,231.5L389.8,232.7L390.3,233.9L390.8,235.1L391.3,236.4L391.8,237.7L392.3,239.0L392.8,240.3L393.3,241.7L393.8,243.0L394.3,244.4L394.8,245.7L395.3,247.0L395.8,248.2L396.3,249.5L396.8,250.7L397.3,251.8L397.8,252.9L398.3,254.0L398.8,255.0L399.3,256.0L399.8,256.9L400.3,257.7L400.8,258.5L401.3,259.2L401.8,259.7L402.3,260.2L402.8,260.5L403.3,260.6L403.8,260.5L404.3,260.1L404.8,259.5L405.3,258.6L405.8,257.2L406.3,255.5L406.8,253.3L407.3,250.6L407.8,247.3L408.3,243.4L408.8,239.1L409.3,234.6L409.8,230.5L410.3,227.2L410.8,225.0L411.3,223.8L411.8,223.3L412.3,223.4L412.8,223.8L413.3,224.5L413.8,225.3L414.3,225.9L414.8,226.4L415.3,226.8L415.8,227.1L416.3,227.2L416.8,227.1L417.3,226.9L417.8,226.4L418.3,225.7L418.8,224.9L419.3,223.9L419.8,222.8L420.3,221.7L420.8,220.6L421.3,219.5L421.8,218.4L422.3,217.4L422.8,216.5L423.3,215.6L423.8,214.7L424.3,213.9L424.8,213.2L425.3,212.5L425.8,211.8L426.3,211.1L426.8,210.5L427.3,209.9L427.8,209.3L428.3,208.7L428.8,208.2L429.3,207.7L429.8,207.2L430.3,206.8L430.8,206.4L431.3,206.1L431.8,205.8L432.3,205.5L432.8,205.3L433.3,205.2L433.8,205.1L434.3,205.1L434.8,205.2L435.3,205.3L435.8,205.5L436.3,205.8L436.8,206.1L437.3,206.5L437.8,206.9L438.3,207.3L438.8,207.8L439.3,208.3L439.8,208.9L440.3,209.4L440.8,209.9L441.3,210.3L441.8,210.6L442.3,210.9L442.8,211.0L443.3,211.0L443.8,210.7L444.3,210.4L444.8,209.9L445.3,209.3L445.8,208.6L446.3,208.0L446.8,207.3L447.3,206.8L447.8,206.3L448.3,206.0L448.8,205.9L449.3,206.0L449.8,206.2L450.3,206.7L450.8,207.4L451.3,208.2L451.8,209.3L452.3,210.5L452.8,211.8L453.3,213.3L453.8,214.8L454.3,216.5L454.8,218.2L455.3,219.9L455.8,221.7L456.3,223.5L456.8,225.2L457.3,226.9L457.8,228.5L458.3,230.0L458.8,231.5L459.3,232.8L459.8,234.1L460.3,235.2L460.8,236.2L461.3,237.1L461.8,237.8L462.3,238.3L462.8,238.7L463.3,239.0L463.8,239.1L464.3,239.1L464.8,239.0L465.3,238.7L465.8,238.4L466.3,238.0L466.8,237.5L467.3,237.0L467.8,236.6L468.3,236.1L468.8,235.8L469.3,235.6L469.8,235.5L470.3,235.6L470.8,235.8L471.3,236.2L471.8,236.7L472.3,237.3L472.8,238.0L473.3,238.8L473.8,239.7L474.3,240.7L474.8,241.7L475.3,242.6L475.8,243.5L476.3,244.2L476.8,244.7L477.3,244.9L477.8,244.8L478.3,244.4L478.8,243.7L479.3,242.7L479.8,241.5L480.3,240.1L480.8,238.6L481.3,236.9L481.8,235.2L482.3,233.4L482.8,231.7L483.3,229.9L483.8,228.2L484.3,226.6L484.8,225.2L485.3,223.9L485.8,222.7L486.3,221.8L486.8,221.2L487.3,220.7L487.8,220.5L488.3,220.5L488.8,220.6L489.3,221.0L489.8,221.5L490.3,222.2L490.8,222.9L491.3,223.8L491.8,224.7L492.3,225.6L492.8,226.6L493.3,227.6L493.8,228.5L494.3,229.4L494.8,230.2L495.3,230.8L495.8,231.3L496.3,231.6L496.8,231.8L497.3,231.7L497.8,231.4L498.3,230.9L498.8,230.3L499.3,229.6L499.8,228.9L500.3,228.1L500.8,227.4L501.3,226.7L501.8,226.1L502.3,225.5L502.8,225.2L503.3,225.0L503.8,225.0L504.3,225.1L504.8,225.4L505.3,225.9L505.8,226.4L506.3,227.0L506.8,227.7L507.3,228.4L507.8,229.1L508.3,229.9L508.8,230.7L509.3,231.5L509.8,232.3L510.3,233.1L510.8,234.0L511.3,234.8L511.8,235.6L512.3,236.4L512.8,237.2L513.3,238.0L513.8,238.8L514.3,239.5L514.8,240.1L515.3,240.6L515.8,241.1L516.3,241.5L516.8,241.7L517.3,241.8L517.8,241.7L518.3,241.5L518.8,241.2L519.3,240.8L519.8,240.2L520.3,239.6L520.8,238.9L521.3,238.1L521.8,237.3L522.3,236.4L522.8,235.6L523.3,234.7L523.8,233.8L524.3,233.0L524.8,232.2L525.3,231.5L525.8,230.8L526.3,230.2L526.8,229.7L527.3,229.3L527.8,228.9L528.3,228.8L528.8,228.7L529.3,228.8L529.8,229.1L530.3,229.6L530.8,230.3L531.3,231.2L531.8,232.4L532.3,233.9L532.8,235.6L533.3,237.5L533.8,239.5L534.3,241.6L534.8,243.7L535.3,245.8L535.8,247.8L536.3,249.8L536.8,251.7L537.3,253.5L537.8,255.2L538.3,256.8L538.8,258.3L539.3,259.7L539.8,261.0L540.3,262.1L540.8,263.1L541.3,264.0L541.8,264.7L542.3,265.3L542.8,265.6L543.3,265.8L543.8,265.8L544.3,265.5L544.8,265.1L545.3,264.4L545.8,263.6L546.3,262.7L546.8,261.7L547.3,260.5L547.8,259.3L548.3,258.0L548.8,256.7L549.3,255.3L549.8,253.9L550.3,252.5L550.8,251.1L551.3,249.6L551.8,248.2L552.3,246.8L552.8,245.3L553.3,243.9L553.8,242.5L554.3,241.1L554.8,239.7L555.3,238.4L555.8,237.1L556.3,235.8L556.8,234.5L557.3,233.3L557.8,232.1L558.3,231.0L558.8,230.0L559.3,229.0L559.8,228.0L560.3,227.1L560.8,226.2L561.3,225.4L561.8,224.7L562.3,224.0L562.8,223.4L563.3,222.9L563.8,222.4L564.3,222.0L564.8,221.7L565.3,221.4L565.8,221.3L566.3,221.2L566.8,221.2L567.3,221.3L567.8,221.5L568.3,221.8L568.8,222.3L569.3,223.0L569.8,223.8L570.3,224.8L570.8,226.0L571.3,227.4L571.8,229.0L572.3,230.9L572.8,232.9L573.3,235.1L573.8,237.4L574.3,239.8L574.8,242.2L575.3,244.6L575.8,246.9L576.3,249.1L576.8,251.1L577.3,253.0L577.8,254.7L578.3,256.1L578.8,257.3L579.3,258.4L579.8,259.2L580.3,259.9L580.8,260.4L581.3,260.8L581.8,261.0L582.3,261.0L582.8,260.9L583.3,260.6L583.8,260.2L584.3,259.7L584.8,259.0L585.3,258.3L585.8,257.5L586.3,256.6L586.8,255.7L587.3,254.7L587.8,253.7L588.3,252.7L588.8,251.7L589.3,250.7L589.8,249.7L590.3,248.8L590.8,248.0L591.3,247.3L591.8,246.7L592.3,246.3L592.8,246.0L593.3,245.9L593.8,246.1L594.3,246.4L594.8,246.8L595.3,247.4L595.8,248.2L596.3,249.0L596.8,249.9L597.3,250.9L597.8,251.9L598.3,253.0L598.8,254.0L599.3,255.1L599.8,256.1L600.3,257.2L600.8,258.2L601.3,259.1L601.8,260.0L602.3,260.9L602.8,261.6L603.3,262.3L603.8,262.9L604.3,263.5L604.8,263.9L605.3,264.3L605.8,264.5L606.3,264.7L606.8,264.7L607.3,264.7L607.8,264.5L608.3,264.3L608.8,263.9L609.3,263.4L609.8,262.8L610.3,262.0L610.8,261.3L611.3,260.4L611.8,259.5L612.3,258.6L612.8,257.7L613.3,256.9L613.8,256.0L614.3,255.2L614.8,254.5L615.3,253.8L615.8,253.3L616.3,252.8L616.8,252.5L617.3,252.2L617.8,252.1L618.3,252.2L618.8,252.4L619.3,252.7L619.8,253.2L620.3,253.7L620.8,254.4L621.3,255.2L621.8,256.0L622.3,256.9L622.8,257.9L623.3,258.9L623.8,259.9L624.3,261.0L624.8,262.1L625.3,263.2L625.8,264.4L626.3,265.5L626.8,266.7L627.3,267.8L627.8,269.0L628.3,270.1L628.8,271.2L629.3,272.2L629.8,273.3L630.3,274.3L630.8,275.2L631.3,276.0L631.8,276.8L632.3,277.5L632.8,278.1L633.3,278.6L633.8,279.0L634.3,279.2L634.8,279.4L635.3,279.5L635.8,279.4L636.3,279.3L636.8,279.0L637.3,278.7L637.8,278.3L638.3,277.8L638.8,277.4L639.3,277.0L639.8,276.6L640.3,276.2L640.8,275.9L641.3,275.7L641.8,275.5L642.3,275.4L642.8,275.3L643.3,275.3L643.8,275.2L644.3,275.2L644.8,275.1L645.3,275.1L645.8,275.0L646.3,274.9L646.8,274.9L647.3,274.8L647.8,274.8L648.3,274.8L648.8,274.8L649.3,274.8L649.8,274.9L650.3,275.2L650.8,275.7L651.3,276.3L651.8,277.3L652.3,278.5L652.8,279.9L653.3,281.4L653.8,282.8L654.3,284.2L654.8,285.6L655.3,286.9L655.8,288.0L656.3,289.1L656.8,290.0L657.3,290.8L657.8,291.5L658.3,292.1L658.8,292.6L659.3,293.0L659.8,293.4L660.3,293.7L660.8,293.9L661.3,294.1L661.8,294.2L662.3,294.4L662.8,294.4L663.3,294.5L663.8,294.6L664.3,294.6L664.8,294.6L665.3,294.7L665.8,294.7L666.3,294.8L666.8,294.9L667.3,295.0L667.8,295.1L668.3,295.3L668.8,295.5L669.3,295.8L669.8,296.0L670.3,296.3L670.8,296.5L671.3,296.8L671.8,297.0L672.3,297.2L672.8,297.4L673.3,297.6L673.8,297.8L674.3,297.9L674.8,298.0L675.3,298.0L675.8,298.1L676.3,298.1L676.8,298.2L677.3,298.2L677.8,298.3L678.3,298.4L678.8,298.4L679.3,298.6L679.8,298.7L680.3,298.9L680.8,299.2L681.3,299.4L681.8,299.7L682.3,299.9L682.8,300.2L683.3,300.4L683.8,300.6L684.3,300.8L684.8,300.8L685.3,300.9L685.8,300.8L686.3,300.7L686.8,300.5L687.3,300.3L687.8,300.1L688.3,299.9L688.8,299.7L689.3,299.5L689.8,299.3L690.3,299.2L690.8,299.2L691.3,299.2L691.8,299.2L692.3,299.3L692.8,299.4L693.3,299.5L693.8,299.6L694.3,299.7L694.8,299.8L695.3,299.8L695.8,299.8L696.3,299.7L696.8,299.6L697.3,299.5L697.8,299.3L698.3,299.2L698.8,299.0L699.3,298.9L699.8,298.8L700.3,298.8L700.8,298.8L701.3,298.9L701.8,299.0L702.3,299.2L702.8,299.4L703.3,299.6L703.8,299.9L704.3,300.1L704.8,300.4L705.3,300.6L705.8,300.7L706.3,300.8L706.8,300.9L707.3,300.8L707.8,300.7L708.3,300.5L708.8,300.2L709.3,299.9L709.8,299.5L710.3,299.1L710.8,298.6L711.3,298.1L711.8,297.5L712.3,296.9L712.8,296.3L713.3,295.7L713.8,295.1L714.3,294.4L714.8,293.8L715.3,293.2L715.8,292.6L716.3,292.0L716.8,291.4L717.3,290.8L717.8,290.2L718.3,289.7L718.8,289.1L719.3,288.6L719.8,288.2L720.3,287.7L720.8,287.3L721.3,287.0L721.8,286.6L722.3,286.4L722.8,286.1L723.3,286.0L723.8,285.9L724.3,285.8L724.8,285.8L725.3,285.9L725.8,286.1L726.3,286.3L726.8,286.6L727.3,286.9L727.8,287.3L728.3,287.7L728.8,288.2L729.3,288.6L729.8,289.1L730.3,289.7L730.8,290.2L731.3,290.8L731.8,291.3L732.3,291.9L732.8,292.5L733.3,293.1L733.8,293.7L734.3,294.3L734.8,294.9L735.3,295.5L735.8,296.1L736.3,296.7L736.8,297.3L737.3,297.9L737.8,298.5L738.3,299.1L738.8,299.7L739.3,300.3L739.8,301.0L740.3,301.6L740.8,302.3L741.3,303.1L741.8,303.8L742.3,304.6L742.8,305.4L743.3,306.3L743.8,307.2L744.3,308.1L744.8,309.1L745.3,310.0L745.8,311.0L746.3,312.0L746.8,312.9L747.3,313.8L747.8,314.8L748.3,315.6L748.8,316.5L749.3,317.3L749.8,318.0L750.3,318.7L750.8,319.4L751.3,320.0L751.8,320.5L752.3,320.9L752.8,321.3L753.3,321.5L753.8,321.7L754.3,321.8L754.8,321.8L755.3,321.6L755.8,321.5L756.3,321.2L756.8,320.9L757.3,320.5L757.8,320.0L758.3,319.6L758.8,319.0L759.3,318.5L759.8,317.9L760.3,317.4L760.8,316.8L761.3,316.3L761.8,315.8L762.3,315.3L762.8,314.9L763.3,314.5L763.8,314.2L764.3,314.0L764.8,313.8L765.3,313.7L765.8,313.7L766.3,313.7L766.8,313.7L767.3,313.8L767.8,313.8L768.3,314.0L768.8,314.1L769.3,314.2L769.8,314.3L770.3,314.4L770.8,314.5L771.3,314.6L771.8,314.7L772.3,314.7L772.8,314.6L773.3,314.6L773.8,314.4L774.3,314.3L774.8,314.0L775.3,313.7L775.8,313.4L776.3,313.0L776.8,312.6L777.3,312.1L777.8,311.7L778.3,311.2L778.8,310.6L779.3,310.1L779.8,309.6L780.3,309.0L780.8,308.5L781.3,307.9L781.8,307.4L782.3,306.9L782.8,306.4L783.3,306.0L783.8,305.5L784.3,305.2L784.8,304.8L785.3,304.5L785.8,304.3L786.3,304.1L786.8,304.0L787.3,304.0L787.8,304.0L788.3,304.2L788.8,304.3L789.3,304.6L789.8,304.9L790.3,305.2L790.8,305.6L791.3,306.0L791.8,306.4L792.3,306.8L792.8,307.3L793.3,307.7L793.8,308.2L794.3,308.6L794.8,309.1L795.3,309.5L795.8,309.9L796.3,310.4L796.8,310.8L797.3,311.2L797.8,311.6L798.3,311.9L798.8,312.3L799.3,312.6L799.8,312.9L800.3,313.2L800.8,313.5L801.3,313.8L801.8,314.0L802.3,314.3L802.8,314.5L803.3,314.7L803.8,314.9L804.3,315.1L804.8,315.3L805.3,315.5L805.8,315.7L806.3,315.9L806.8,316.1L807.3,316.3L807.8,316.5L808.3,316.7L808.8,316.9L809.3,317.2L809.8,317.4L810.3,317.6L810.8,317.9L811.0,318.0" stroke="#4c40c4"/>
<path d="M211.7,394.4L212.2,395.3L212.7,395.6L213.2,395.3L213.7,394.3L214.2,392.9L214.7,390.8L215.2,388.3L215.7,385.3L216.2,382.0L216.7,378.6L217.2,375.0L217.7,371.5L218.2,368.2L218.7,365.1L219.2,362.2L219.7,359.6L220.2,357.3L220.7,355.2L221.2,353.4L221.7,351.8L222.2,350.5L222.7,349.3L223.2,348.4L223.7,347.7L224.2,347.2L224.7,346.9L225.2,346.6L225.7,346.6L226.2,346.6L226.7,346.7L227.2,346.9L227.7,347.1L228.2,347.3L228.7,347.6L229.2,347.8L229.7,348.1L230.2,348.4L230.7,348.6L231.2,348.9L231.7,349.2L232.2,349.4L232.7,349.7L233.2,349.9L233.7,350.1L234.2,350.4L234.7,350.6L235.2,350.9L235.7,351.2L236.2,351.5L236.7,351.9L237.2,352.4L237.7,353.0L238.2,353.6L238.7,354.1L239.2,354.4L239.7,354.4L240.2,353.9L240.7,353.0L241.2,351.5L241.7,349.4L242.2,346.6L242.7,343.2L243.2,339.2L243.7,334.9L244.2,330.5L244.7,326.1L245.2,321.8L245.7,317.6L246.2,313.6L246.7,309.7L247.2,306.0L247.7,302.5L248.2,299.3L248.7,296.3L249.2,293.6L249.7,291.2L250.2,289.2L250.7,287.5L251.2,286.1L251.7,284.8L252.2,283.7L252.7,282.7L253.2,281.7L253.7,280.7L254.2,279.7L254.7,278.5L255.2,277.2L255.7,275.8L256.2,274.4L256.7,273.0L257.2,271.6L257.7,270.3L258.2,269.0L258.7,267.8L259.2,266.7L259.7,265.7L260.2,264.8L260.7,263.9L261.2,263.2L261.7,262.5L262.2,261.8L262.7,261.3L263.2,260.8L263.7,260.4L264.2,260.0L264.7,259.8L265.2,259.6L265.7,259.5L266.2,259.5L266.7,259.6L267.2,259.8L267.7,260.1L268.2,260.4L268.7,260.8L269.2,261.2L269.7,261.6L270.2,262.0L270.7,262.5L271.2,262.9L271.7,263.4L272.2,263.8L272.7,264.2L273.2,264.6L273.7,265.0L274.2,265.4L274.7,265.7L275.2,265.9L275.7,266.0L276.2,266.0L276.7,265.9L277.2,265.7L277.7,265.3L278.2,264.7L278.7,264.2L279.2,263.6L279.7,263.1L280.2,262.6L280.7,262.3L281.2,262.1L281.7,262.0L282.2,262.1L282.7,262.3L283.2,262.6L283.7,263.3L284.2,264.5L284.7,266.2L285.2,268.2L285.7,270.5L286.2,272.8L286.7,275.1L287.2,277.4L287.7,279.6L288.2,281.9L288.7,284.1L289.2,286.4L289.7,288.7L290.2,290.9L290.7,293.2L291.2,295.4L291.7,297.5L292.2,299.4L292.7,301.2L293.2,302.9L293.7,304.4L294.2,305.6L294.7,306.7L295.2,307.6L295.7,308.3L296.2,308.7L296.7,308.8L297.2,308.7L297.7,308.2L298.2,307.4L298.7,306.3L299.2,304.9L299.7,303.1L300.2,300.9L300.7,298.5L301.2,295.9L301.7,293.1L302.2,290.2L302.7,287.2L303.2,284.0L303.7,280.7L304.2,277.3L304.7,273.7L305.2,269.9L305.7,266.2L306.2,262.6L306.7,259.3L307.2,256.2L307.7,253.3L308.2,250.4L308.7,247.4L309.2,244.4L309.7,241.3L310.2,238.2L310.7,235.1L311.2,232.1L311.7,229.1L312.2,226.4L312.7,223.7L313.2,221.3L313.7,219.2L314.2,217.2L314.7,215.6L315.2,214.1L315.7,212.8L316.2,211.7L316.7,210.8L317.2,210.0L317.7,209.2L318.2,208.6L318.7,208.0L319.2,207.5L319.7,207.0L320.2,206.6L320.7,206.3L321.2,206.0L321.7,205.9L322.2,205.9L322.7,206.0L323.2,206.3L323.7,206.7L324.2,207.2L324.7,207.9L325.2,208.6L325.7,209.5L326.2,210.6L326.7,211.7L327.2,213.0L327.7,214.3L328.2,215.7L328.7,217.2L329.2,218.7L329.7,220.3L330.2,221.9L330.7,223.4L331.2,225.0L331.7,226.6L332.2,228.1L332.7,229.7L333.2,231.2L333.7,232.7L334.2,234.1L334.7,235.6L335.2,236.9L335.7,238.3L336.2,239.5L336.7,240.7L337.2,241.7L337.7,242.6L338.2,243.4L338.7,243.9L339.2,244.2L339.7,244.3L340.2,244.1L340.7,243.6L341.2,243.0L341.7,242.3L342.2,241.5L342.7,240.6L343.2,239.7L343.7,238.8L344.2,238.0L344.7,237.3L345.2,236.7L345.7,236.2L346.2,235.8L346.7,235.6L347.2,235.5L347.7,235.5L348.2,235.6L348.7,235.9L349.2,236.3L349.7,236.9L350.2,237.6L350.7,238.5L351.2,239.5L351.7,240.6L352.2,241.9L352.7,243.4L353.2,244.9L353.7,246.6L354.2,248.3L354.7,250.2L355.2,252.1L355.7,254.0L356.2,256.0L356.7,257.9L357.2,259.9L357.7,261.8L358.2,263.7L358.7,265.5L359.2,267.2L359.7,268.8L360.2,270.2L360.7,271.5L361.2,272.6L361.7,273.5L362.2,274.3L362.7,274.8L363.2,275.1L363.7,275.2L364.2,275.0L364.7,274.7L365.2,274.1L365.7,273.4L366.2,272.6L366.7,271.5L367.2,270.4L367.7,269.1L368.2,267.8L368.7,266.4L369.2,264.9L369.7,263.3L370.2,261.7L370.7,260.1L371.2,258.4L371.7,256.7L372.2,255.0L372.7,253.3L373.2,251.6L373.7,249.9L374.2,248.3L374.7,246.7L375.2,245.1L375.7,243.7L376.2,242.3L376.7,240.9L377.2,239.7L377.7,238.6L378.2,237.7L378.7,236.8L379.2,236.1L379.7,235.4L380.2,234.9L380.7,234.5L381.2,234.1L381.7,233.8L382.2,233.5L382.7,233.3L383.2,233.1L383.7,233.0L384.2,232.9L384.7,233.0L385.2,233.2L385.7,233.5L386.2,234.0L386.7,234.7L387.2,235.5L387.7,236.5L388.2,237.6L388.7,238.9L389.2,240.1L389.7,241.4L390.2,242.6L390.7,243.7L391.2,244.8L391.7,245.8L392.2,246.8L392.7,247.8L393.2,248.8L393.7,250.0L394.2,251.3L394.7,252.7L395.2,254.4L395.7,256.3L396.2,258.3L396.7,260.4L397.2,262.6L397.7,264.7L398.2,266.7L398.7,268.5L399.2,270.1L399.7,271.5L400.2,272.6L400.7,273.5L401.2,274.2L401.7,274.7L402.2,274.9L402.7,275.0L403.2,274.8L403.7,274.4L404.2,273.6L404.7,272.3L405.2,270.7L405.7,268.5L406.2,265.7L406.7,262.6L407.2,259.1L407.7,255.6L408.2,252.1L408.7,248.7L409.2,245.7L409.7,242.9L410.2,240.6L410.7,238.8L411.2,237.4L411.7,236.4L412.2,235.7L412.7,235.5L413.2,235.5L413.7,235.8L414.2,236.4L414.7,237.1L415.2,237.9L415.7,238.9L416.2,239.8L416.7,240.7L417.2,241.5L417.7,242.2L418.2,242.7L418.7,242.9L419.2,242.8L419.7,242.5L420.2,241.9L420.7,241.2L421.2,240.3L421.7,239.3L422.2,238.2L422.7,237.0L423.2,235.7L423.7,234.5L424.2,233.3L424.7,232.1L425.2,230.9L425.7,229.7L426.2,228.6L426.7,227.5L427.2,226.4L427.7,225.3L428.2,224.3L428.7,223.3L429.2,222.3L429.7,221.4L430.2,220.5L430.7,219.6L431.2,218.8L431.7,218.0L432.2,217.3L432.7,216.6L433.2,216.1L433.7,215.6L434.2,215.2L434.7,214.9L435.2,214.7L435.7,214.6L436.2,214.7L436.7,214.9L437.2,215.2L437.7,215.6L438.2,216.1L438.7,216.6L439.2,217.2L439.7,217.8L440.2,218.5L440.7,219.2L441.2,219.9L441.7,220.6L442.2,221.2L442.7,221.8L443.2,222.3L443.7,222.7L444.2,222.9L444.7,223.0L445.2,222.9L445.7,222.7L446.2,222.4L446.7,222.0L447.2,221.6L447.7,221.2L448.2,220.8L448.7,220.4L449.2,220.1L449.7,219.9L450.2,219.8L450.7,219.9L451.2,220.2L451.7,220.6L452.2,221.2L452.7,222.0L453.2,223.1L453.7,224.3L454.2,225.8L454.7,227.5L455.2,229.4L455.7,231.4L456.2,233.5L456.7,235.6L457.2,237.8L457.7,239.9L458.2,242.0L458.7,243.9L459.2,245.8L459.7,247.4L460.2,249.0L460.7,250.4L461.2,251.7L461.7,252.8L462.2,253.7L462.7,254.4L463.2,255.0L463.7,255.4L464.2,255.7L464.7,255.7L465.2,255.7L465.7,255.5L466.2,255.2L466.7,254.8L467.2,254.3L467.7,253.7L468.2,253.0L468.7,252.2L469.2,251.5L469.7,250.9L470.2,250.3L470.7,249.9L471.2,249.7L471.7,249.7L472.2,250.0L472.7,250.5L473.2,251.3L473.7,252.1L474.2,253.1L474.7,254.1L475.2,255.1L475.7,256.1L476.2,256.9L476.7,257.7L477.2,258.2L477.7,258.6L478.2,258.8L478.7,258.7L479.2,258.3L479.7,257.6L480.2,256.7L480.7,255.5L481.2,254.2L481.7,252.8L482.2,251.2L482.7,249.6L483.2,248.0L483.7,246.4L484.2,244.9L484.7,243.4L485.2,242.0L485.7,240.8L486.2,239.7L486.7,238.7L487.2,238.0L487.7,237.5L488.2,237.2L488.7,237.2L489.2,237.5L489.7,238.0L490.2,238.7L490.7,239.6L491.2,240.6L491.7,241.7L492.2,242.9L492.7,244.2L493.2,245.4L493.7,246.6L494.2,247.9L494.7,249.0L495.2,250.1L495.7,251.1L496.2,252.0L496.7,252.8L497.2,253.4L497.7,253.8L498.2,254.1L498.7,254.1L499.2,254.0L499.7,253.8L500.2,253.5L500.7,253.0L501.2,252.5L501.7,251.9L502.2,251.2L502.7,250.5L503.2,249.9L503.7,249.2L504.2,248.6L504.7,248.0L505.2,247.5L505.7,247.0L506.2,246.6L506.7,246.3L507.2,246.0L507.7,245.9L508.2,245.9L508.7,246.1L509.2,246.4L509.7,246.7L510.2,247.2L510.7,247.8L511.2,248.4L511.7,249.1L512.2,249.8L512.7,250.6L513.2,251.4L513.7,252.2L514.2,253.0L514.7,253.8L515.2,254.6L515.7,255.5L516.2,256.3L516.7,257.1L517.2,257.8L517.7,258.6L518.2,259.3L518.7,259.9L519.2,260.5L519.7,260.8L520.2,261.0L520.7,261.0L521.2,260.7L521.7,260.2L522.2,259.5L522.7,258.6L523.2,257.6L523.7,256.5L524.2,255.3L524.7,254.1L525.2,252.9L525.7,251.8L526.2,250.7L526.7,249.7L527.2,248.8L527.7,248.0L528.2,247.3L528.7,246.8L529.2,246.3L529.7,246.1L530.2,245.9L530.7,246.0L531.2,246.2L531.7,246.6L532.2,247.2L532.7,248.0L533.2,249.0L533.7,250.3L534.2,251.8L534.7,253.6L535.2,255.6L535.7,257.9L536.2,260.2L536.7,262.6L537.2,265.0L537.7,267.4L538.2,269.6L538.7,271.7L539.2,273.6L539.7,275.3L540.2,276.8L540.7,278.1L541.2,279.3L541.7,280.5L542.2,281.4L542.7,282.2L543.2,282.6L543.7,282.6L544.2,282.2L544.7,281.4L545.2,280.5L545.7,279.4L546.2,278.2L546.7,276.9L547.2,275.7L547.7,274.4L548.2,273.3L548.7,272.1L549.2,271.1L549.7,270.2L550.2,269.3L550.7,268.4L551.2,267.5L551.7,266.4L552.2,265.3L552.7,264.0L553.2,262.6L553.7,261.0L554.2,259.3L554.7,257.5L555.2,255.6L555.7,253.8L556.2,251.9L556.7,250.1L557.2,248.3L557.7,246.6L558.2,245.0L558.7,243.5L559.2,242.1L559.7,240.8L560.2,239.5L560.7,238.4L561.2,237.3L561.7,236.4L562.2,235.5L562.7,234.7L563.2,234.0L563.7,233.4L564.2,232.9L564.7,232.5L565.2,232.1L565.7,231.9L566.2,231.7L566.7,231.6L567.2,231.7L567.7,231.8L568.2,232.1L568.7,232.5L569.2,233.1L569.7,233.9L570.2,234.8L570.7,236.0L571.2,237.4L571.7,239.0L572.2,240.9L572.7,243.1L573.2,245.4L573.7,248.0L574.2,250.8L574.7,253.8L575.2,256.9L575.7,260.2L576.2,263.7L576.7,267.1L577.2,269.7L577.7,271.6L578.2,272.9L578.7,273.8L579.2,274.5L579.7,275.2L580.2,275.8L580.7,276.3L581.2,276.6L581.7,276.9L582.2,277.1L582.7,277.3L583.2,277.3L583.7,277.4L584.2,277.3L584.7,277.3L585.2,277.2L585.7,277.0L586.2,276.7L586.7,276.2L587.2,275.5L587.7,274.5L588.2,273.3L588.7,272.1L589.2,270.7L589.7,269.3L590.2,267.9L590.7,266.4L591.2,264.7L591.7,263.0L592.2,261.2L592.7,259.8L593.2,258.9L593.7,258.5L594.2,258.6L594.7,258.9L595.2,259.3L595.7,259.9L596.2,260.7L596.7,261.6L597.2,262.7L597.7,263.9L598.2,265.3L598.7,266.8L599.2,268.4L599.7,270.1L600.2,271.8L600.7,273.4L601.2,275.1L601.7,276.6L602.2,278.0L602.7,279.3L603.2,280.5L603.7,281.6L604.2,282.6L604.7,283.4L605.2,284.1L605.7,284.8L606.2,285.3L606.7,285.7L607.2,286.1L607.7,286.4L608.2,286.7L608.7,287.0L609.2,287.1L609.7,287.3L610.2,287.4L610.7,287.4L611.2,287.3L611.7,287.2L612.2,286.9L612.7,286.6L613.2,286.0L613.7,285.2L614.2,284.3L614.7,283.1L615.2,281.9L615.7,280.6L616.2,279.4L616.7,278.3L617.2,277.4L617.7,276.6L618.2,275.9L618.7,275.5L619.2,275.2L619.7,275.1L620.2,275.2L620.7,275.3L621.2,275.7L621.7,276.2L622.2,277.0L622.7,277.9L623.2,279.0L623.7,280.2L624.2,281.5L624.7,282.7L625.2,284.0L625.7,285.2L626.2,286.4L626.7,287.7L627.2,289.1L627.7,290.4L628.2,291.8L628.7,293.1L629.2,294.2L629.7,295.3L630.2,296.2L630.7,297.0L631.2,297.7L631.7,298.2L632.2,298.7L632.7,299.1L633.2,299.4L633.7,299.7L634.2,299.9L634.7,300.0L635.2,300.0L635.7,300.0L636.2,299.9L636.7,299.7L637.2,299.5L637.7,299.2L638.2,298.8L638.7,298.4L639.2,297.8L639.7,297.3L640.2,296.7L640.7,296.2L641.2,295.8L641.7,295.4L642.2,295.1L642.7,295.0L643.2,295.0L643.7,295.1L644.2,295.3L644.7,295.6L645.2,296.0L645.7,296.5L646.2,297.1L646.7,297.6L647.2,298.2L647.7,298.9L648.2,299.5L648.7,300.1L649.2,300.8L649.7,301.5L650.2,302.2L650.7,303.0L651.2,303.9L651.7,304.8L652.2,305.7L652.7,306.8L653.2,308.0L653.7,309.2L654.2,310.5L654.7,311.8L655.2,313.1L655.7,314.4L656.2,315.7L656.7,316.9L657.2,318.0L657.7,319.0L658.2,319.9L658.7,320.6L659.2,321.2L659.7,321.6L660.2,322.0L660.7,322.4L661.2,322.6L661.7,322.9L662.2,323.2L662.7,323.4L663.2,323.8L663.7,324.1L664.2,324.6L664.7,325.1L665.2,325.6L665.7,326.2L666.2,326.8L666.7,327.4L667.2,328.1L667.7,328.7L668.2,329.4L668.7,330.1L669.2,330.7L669.7,331.3L670.2,331.9L670.7,332.5L671.2,333.0L671.7,333.5L672.2,334.0L672.7,334.5L673.2,334.9L673.7,335.2L674.2,335.6L674.7,335.9L675.2,336.1L675.7,336.3L676.2,336.5L676.7,336.6L677.2,336.7L677.7,336.7L678.2,336.8L678.7,336.8L679.2,336.9L679.7,337.0L680.2,337.1L680.7,337.3L681.2,337.5L681.7,337.7L682.2,337.9L682.7,338.1L683.2,338.2L683.7,338.2L684.2,338.0L684.7,337.6L685.2,337.0L685.7,336.3L686.2,335.4L686.7,334.6L687.2,333.6L687.7,332.7L688.2,331.8L688.7,331.0L689.2,330.3L689.7,329.7L690.2,329.3L690.7,328.9L691.2,328.7L691.7,328.6L692.2,328.4L692.7,328.4L693.2,328.3L693.7,328.2L694.2,328.1L694.7,328.0L695.2,327.7L695.7,327.4L696.2,327.1L696.7,326.7L697.2,326.3L697.7,325.9L698.2,325.5L698.7,325.1L699.2,324.8L699.7,324.4L700.2,324.1L700.7,323.9L701.2,323.7L701.7,323.6L702.2,323.5L702.7,323.5L703.2,323.5L703.7,323.5L704.2,323.5L704.7,323.4L705.2,323.4L705.7,323.3L706.2,323.2L706.7,323.0L707.2,322.7L707.7,322.4L708.2,321.9L708.7,321.4L709.2,320.9L709.7,320.3L710.2,319.7L710.7,319.0L711.2,318.3L711.7,317.7L712.2,317.0L712.7,316.3L713.2,315.7L713.7,315.1L714.2,314.5L714.7,313.9L715.2,313.4L715.7,312.9L716.2,312.4L716.7,312.0L717.2,311.5L717.7,311.0L718.2,310.6L718.7,310.1L719.2,309.6L719.7,309.1L720.2,308.6L720.7,308.2L721.2,307.7L721.7,307.3L722.2,307.0L722.7,306.8L723.2,306.7L723.7,306.8L724.2,307.0L724.7,307.3L725.2,307.7L725.7,308.3L726.2,308.9L726.7,309.5L727.2,310.2L727.7,310.9L728.2,311.6L728.7,312.3L729.2,313.0L729.7,313.7L730.2,314.4L730.7,315.1L731.2,315.9L731.7,316.6L732.2,317.4L732.7,318.1L733.2,318.9L733.7,319.8L734.2,320.6L734.7,321.5L735.2,322.5L735.7,323.4L736.2,324.3L736.7,325.2L737.2,326.1L737.7,326.9L738.2,327.7L738.7,328.4L739.2,328.9L739.7,329.4L740.2,329.8L740.7,330.0L741.2,330.1L741.7,330.0L742.2,330.0L742.7,330.3L743.2,330.8L743.7,331.6L744.2,332.5L744.7,333.6L745.2,334.8L745.7,336.1L746.2,337.3L746.7,338.6L747.2,339.8L747.7,341.1L748.2,342.4L748.7,343.7L749.2,345.1L749.7,346.5L750.2,348.1L750.7,349.7L751.2,351.4L751.7,353.2L752.2,355.1L752.7,357.0L753.2,359.0L753.7,361.0L754.2,363.1L754.7,365.2L755.2,367.2L755.7,369.2L756.2,371.0L756.7,372.7L757.2,374.3L757.7,375.8L758.2,377.1L758.7,378.4L759.2,379.5L759.7,380.6L760.2,381.6L760.7,382.6L761.2,383.5L761.7,384.3L762.2,385.0L762.7,385.7L763.2,386.3L763.7,386.8L764.2,387.2L764.7,387.5L765.2,387.6L765.7,387.5L766.2,387.0L766.7,386.3L767.2,385.2L767.7,383.9L768.2,382.3L768.7,380.5L769.2,378.4L769.7,376.4L770.2,374.3L770.7,372.3L771.2,370.4L771.7,368.7L772.2,367.1L772.7,365.6L773.2,364.1L773.7,362.7L774.2,361.3L774.7,359.9L775.2,358.5L775.7,357.2L776.2,356.0L776.7,354.8L777.2,353.8L777.7,352.8L778.2,351.9L778.7,351.1L779.2,350.2L779.7,349.3L780.2,348.4L780.7,347.4L781.2,346.3L781.7,345.3L782.2,344.3L782.7,343.4L783.2,342.7L783.7,342.2L784.2,341.8L784.7,341.6L785.2,341.5L785.7,341.6L786.2,341.8L786.7,342.2L787.2,342.6L787.7,343.2L788.2,343.7L788.7,344.4L789.2,345.1L789.7,345.8L790.2,346.5L790.7,347.2L791.2,347.9L791.7,348.6L792.2,349.3L792.7,350.0L793.2,350.7L793.7,351.3L794.2,352.0L794.7,352.7L795.2,353.4L795.7,354.0L796.2,354.7L796.7,355.4L797.2,356.0L797.7,356.7L798.2,357.3L798.7,357.9L799.2,358.5L799.7,359.0L800.2,359.6L800.7,360.1L801.2,360.5L801.7,361.0L802.2,361.4L802.7,361.8L803.2,362.2L803.7,362.6L804.2,363.0L804.7,363.3L805.2,363.7L805.7,364.0L806.2,364.3L806.7,364.7L807.2,365.0L807.7,365.3L808.2,365.7L808.7,366.0L809.2,366.4L809.7,366.8L810.2,367.1L810.6,367.5" stroke="#dc7a1c"/>
<path d="M211.7,405.9L212.2,407.2L212.7,408.1L213.2,408.5L213.7,408.4L214.2,407.9L214.7,407.0L215.2,405.6L215.7,403.9L216.2,401.7L216.7,399.0L217.2,395.8L217.7,392.1L218.2,388.0L218.7,384.1L219.2,380.9L219.7,378.3L220.2,376.2L220.7,374.5L221.2,373.1L221.7,371.8L222.2,370.7L222.7,369.5L223.2,368.5L223.7,367.6L224.2,366.8L224.7,366.1L225.2,365.6L225.7,365.3L226.2,365.1L226.7,365.0L227.2,365.0L227.7,365.1L228.2,365.2L228.7,365.3L229.2,365.5L229.7,365.6L230.2,365.8L230.7,366.0L231.2,366.2L231.7,366.3L232.2,366.4L232.7,366.5L233.2,366.6L233.7,366.6L234.2,366.7L234.7,366.7L235.2,366.9L235.7,367.1L236.2,367.5L236.7,368.1L237.2,368.7L237.7,369.2L238.2,369.3L238.7,368.9L239.2,367.8L239.7,366.0L240.2,363.6L240.7,360.6L241.2,357.3L241.7,353.8L242.2,349.9L242.7,346.0L243.2,341.9L243.7,337.9L244.2,333.9L244.7,329.9L245.2,326.1L245.7,322.5L246.2,319.1L246.7,315.8L247.2,312.9L247.7,310.2L248.2,307.7L248.7,305.4L249.2,303.4L249.7,301.5L250.2,299.9L250.7,298.3L251.2,297.0L251.7,295.8L252.2,294.7L252.7,293.7L253.2,292.8L253.7,292.0L254.2,291.3L254.7,290.6L255.2,289.9L255.7,289.2L256.2,288.5L256.7,287.7L257.2,286.7L257.7,285.6L258.2,284.3L258.7,282.7L259.2,281.0L259.7,279.3L260.2,277.5L260.7,275.9L261.2,274.5L261.7,273.4L262.2,272.6L262.7,272.0L263.2,271.6L263.7,271.4L264.2,271.3L264.7,271.3L265.2,271.4L265.7,271.4L266.2,271.5L266.7,271.5L267.2,271.5L267.7,271.5L268.2,271.6L268.7,271.7L269.2,271.8L269.7,272.0L270.2,272.3L270.7,272.6L271.2,273.0L271.7,273.3L272.2,273.6L272.7,273.9L273.2,274.0L273.7,274.1L274.2,274.1L274.7,273.9L275.2,273.6L275.7,273.2L276.2,272.6L276.7,271.9L277.2,271.1L277.7,270.2L278.2,269.2L278.7,268.3L279.2,267.6L279.7,267.0L280.2,266.8L280.7,266.9L281.2,266.9L281.7,267.0L282.2,267.1L282.7,267.4L283.2,268.0L283.7,269.0L284.2,270.4L284.7,272.0L285.2,273.9L285.7,276.0L286.2,278.1L286.7,280.3L287.2,282.6L287.7,284.9L288.2,287.2L288.7,289.4L289.2,291.6L289.7,293.7L290.2,295.7L290.7,297.6L291.2,299.3L291.7,300.9L292.2,302.4L292.7,303.9L293.2,305.3L293.7,306.9L294.2,308.7L294.7,310.8L295.2,313.2L295.7,316.0L296.2,319.2L296.7,322.7L297.2,325.5L297.7,326.7L298.2,326.3L298.7,324.8L299.2,322.9L299.7,321.1L300.2,319.3L300.7,317.4L301.2,315.4L301.7,313.3L302.2,311.2L302.7,308.9L303.2,305.9L303.7,301.8L304.2,296.9L304.7,292.1L305.2,287.8L305.7,283.9L306.2,280.2L306.7,276.5L307.2,272.7L307.7,268.6L308.2,264.6L308.7,260.7L309.2,257.1L309.7,253.9L310.2,250.9L310.7,248.2L311.2,245.5L311.7,242.9L312.2,240.1L312.7,237.0L313.2,233.9L313.7,230.9L314.2,228.0L314.7,225.6L315.2,223.6L315.7,222.0L316.2,220.7L316.7,219.8L317.2,219.0L317.7,218.5L318.2,218.1L318.7,217.8L319.2,217.5L319.7,217.2L320.2,217.0L320.7,216.8L321.2,216.8L321.7,216.8L322.2,216.9L322.7,217.1L323.2,217.5L323.7,217.9L324.2,218.6L324.7,219.3L325.2,220.2L325.7,221.3L326.2,222.5L326.7,223.8L327.2,225.2L327.7,226.7L328.2,228.2L328.7,229.8L329.2,231.4L329.7,233.0L330.2,234.6L330.7,236.1L331.2,237.7L331.7,239.2L332.2,240.7L332.7,242.1L333.2,243.4L333.7,244.7L334.2,245.9L334.7,247.1L335.2,248.1L335.7,249.1L336.2,250.1L336.7,250.9L337.2,251.7L337.7,252.5L338.2,253.1L338.7,253.7L339.2,254.1L339.7,254.4L340.2,254.4L340.7,254.3L341.2,253.9L341.7,253.2L342.2,252.4L342.7,251.5L343.2,250.5L343.7,249.4L344.2,248.3L344.7,247.3L345.2,246.3L345.7,245.4L346.2,244.7L346.7,244.0L347.2,243.5L347.7,243.1L348.2,242.9L348.7,242.8L349.2,242.9L349.7,243.1L350.2,243.5L350.7,244.1L351.2,244.9L351.7,245.9L352.2,247.1L352.7,248.6L353.2,250.2L353.7,252.0L354.2,253.9L354.7,255.9L355.2,258.0L355.7,260.1L356.2,262.2L356.7,264.3L357.2,266.3L357.7,268.2L358.2,270.2L358.7,272.0L359.2,273.9L359.7,275.6L360.2,277.4L360.7,279.0L361.2,280.7L361.7,282.4L362.2,284.0L362.7,285.6L363.2,287.3L363.7,288.9L364.2,290.5L364.7,292.0L365.2,293.3L365.7,294.3L366.2,294.9L366.7,295.0L367.2,294.7L367.7,293.9L368.2,292.7L368.7,291.0L369.2,289.0L369.7,286.7L370.2,284.2L370.7,281.6L371.2,279.0L371.7,276.4L372.2,273.9L372.7,271.3L373.2,268.7L373.7,266.1L374.2,263.4L374.7,260.7L375.2,258.1L375.7,255.6L376.2,253.3L376.7,251.2L377.2,249.4L377.7,247.8L378.2,246.6L378.7,245.5L379.2,244.7L379.7,244.1L380.2,243.6L380.7,243.2L381.2,242.9L381.7,242.7L382.2,242.5L382.7,242.3L383.2,242.3L383.7,242.3L384.2,242.3L384.7,242.4L385.2,242.6L385.7,242.9L386.2,243.3L386.7,243.8L387.2,244.5L387.7,245.5L388.2,246.7L388.7,248.2L389.2,250.0L389.7,252.1L390.2,254.4L390.7,256.8L391.2,259.3L391.7,261.7L392.2,264.1L392.7,266.3L393.2,268.2L393.7,270.0L394.2,271.5L394.7,272.9L395.2,274.1L395.7,275.2L396.2,276.3L396.7,277.3L397.2,278.3L397.7,279.3L398.2,280.3L398.7,281.5L399.2,282.7L399.7,284.0L400.2,285.4L400.7,286.8L401.2,288.4L401.7,290.1L402.2,291.5L402.7,292.6L403.2,293.1L403.7,292.6L404.2,291.0L404.7,288.0L405.2,283.9L405.7,279.2L406.2,274.2L406.7,269.5L407.2,265.5L407.7,262.3L408.2,259.9L408.7,258.0L409.2,256.5L409.7,255.3L410.2,254.2L410.7,253.0L411.2,251.8L411.7,250.8L412.2,249.9L412.7,249.3L413.2,249.1L413.7,249.3L414.2,249.9L414.7,250.9L415.2,252.1L415.7,253.4L416.2,254.9L416.7,256.4L417.2,257.8L417.7,259.1L418.2,260.2L418.7,261.1L419.2,261.9L419.7,262.4L420.2,262.6L420.7,262.6L421.2,262.4L421.7,261.9L422.2,261.2L422.7,260.4L423.2,259.4L423.7,258.2L424.2,256.9L424.7,255.5L425.2,254.0L425.7,252.5L426.2,251.0L426.7,249.4L427.2,247.8L427.7,246.2L428.2,244.7L428.7,243.1L429.2,241.5L429.7,240.0L430.2,238.5L430.7,237.1L431.2,235.7L431.7,234.4L432.2,233.1L432.7,231.9L433.2,230.8L433.7,229.8L434.2,228.9L434.7,228.1L435.2,227.5L435.7,227.1L436.2,226.8L436.7,226.6L437.2,226.7L437.7,227.0L438.2,227.5L438.7,228.1L439.2,228.9L439.7,229.8L440.2,230.7L440.7,231.8L441.2,232.9L441.7,234.0L442.2,235.1L442.7,236.2L443.2,237.2L443.7,238.1L444.2,239.0L444.7,239.7L445.2,240.3L445.7,240.8L446.2,241.1L446.7,241.2L447.2,241.2L447.7,241.2L448.2,241.1L448.7,241.0L449.2,241.0L449.7,241.0L450.2,241.1L450.7,241.3L451.2,241.6L451.7,242.2L452.2,242.9L452.7,243.7L453.2,244.8L453.7,246.0L454.2,247.4L454.7,249.0L455.2,250.8L455.7,252.7L456.2,254.8L456.7,256.9L457.2,259.1L457.7,261.2L458.2,263.2L458.7,265.1L459.2,266.9L459.7,268.4L460.2,269.7L460.7,270.8L461.2,271.9L461.7,272.8L462.2,273.7L462.7,274.4L463.2,275.0L463.7,275.5L464.2,275.7L464.7,275.8L465.2,275.6L465.7,275.3L466.2,274.8L466.7,274.2L467.2,273.5L467.7,272.7L468.2,271.9L468.7,271.1L469.2,270.2L469.7,269.5L470.2,268.8L470.7,268.2L471.2,267.8L471.7,267.6L472.2,267.7L472.7,267.9L473.2,268.3L473.7,268.9L474.2,269.6L474.7,270.4L475.2,271.2L475.7,272.1L476.2,272.9L476.7,273.7L477.2,274.5L477.7,275.0L478.2,275.5L478.7,275.8L479.2,275.8L479.7,275.6L480.2,275.1L480.7,274.5L481.2,273.6L481.7,272.6L482.2,271.5L482.7,270.3L483.2,269.0L483.7,267.7L484.2,266.3L484.7,264.8L485.2,263.3L485.7,261.8L486.2,260.3L486.7,258.8L487.2,257.5L487.7,256.4L488.2,255.6L488.7,255.1L489.2,255.1L489.7,255.4L490.2,255.9L490.7,256.7L491.2,257.6L491.7,258.6L492.2,259.7L492.7,260.8L493.2,261.9L493.7,262.9L494.2,263.9L494.7,264.8L495.2,265.8L495.7,266.8L496.2,267.8L496.7,268.9L497.2,270.0L497.7,271.2L498.2,272.4L498.7,273.6L499.2,274.8L499.7,275.9L500.2,276.9L500.7,277.8L501.2,278.4L501.7,278.8L502.2,278.9L502.7,278.7L503.2,278.3L503.7,277.7L504.2,276.8L504.7,275.8L505.2,274.7L505.7,273.5L506.2,272.2L506.7,270.9L507.2,269.5L507.7,268.2L508.2,267.0L508.7,265.8L509.2,264.7L509.7,263.8L510.2,263.0L510.7,262.4L511.2,262.0L511.7,261.9L512.2,262.0L512.7,262.2L513.2,262.7L513.7,263.3L514.2,264.1L514.7,265.0L515.2,266.2L515.7,267.5L516.2,269.0L516.7,270.5L517.2,272.1L517.7,273.7L518.2,275.3L518.7,276.8L519.2,278.2L519.7,279.4L520.2,280.4L520.7,281.2L521.2,281.7L521.7,282.0L522.2,281.9L522.7,281.5L523.2,280.9L523.7,280.0L524.2,279.0L524.7,277.8L525.2,276.5L525.7,275.3L526.2,274.0L526.7,272.7L527.2,271.5L527.7,270.3L528.2,269.3L528.7,268.4L529.2,267.6L529.7,267.0L530.2,266.5L530.7,266.3L531.2,266.2L531.7,266.3L532.2,266.6L532.7,267.1L533.2,267.7L533.7,268.6L534.2,269.7L534.7,271.0L535.2,272.6L535.7,274.3L536.2,276.2L536.7,278.3L537.2,280.4L537.7,282.5L538.2,284.7L538.7,286.7L539.2,288.7L539.7,290.5L540.2,292.2L540.7,293.8L541.2,295.3L541.7,296.5L542.2,297.6L542.7,298.6L543.2,299.2L543.7,299.5L544.2,299.4L544.7,298.9L545.2,298.2L545.7,297.2L546.2,295.9L546.7,294.6L547.2,293.1L547.7,291.6L548.2,290.0L548.7,288.4L549.2,286.9L549.7,285.4L550.2,284.0L550.7,282.8L551.2,281.6L551.7,280.6L552.2,279.6L552.7,278.8L553.2,278.0L553.7,277.3L554.2,276.7L554.7,276.1L555.2,275.6L555.7,275.1L556.2,274.6L556.7,274.1L557.2,273.6L557.7,273.1L558.2,272.5L558.7,271.8L559.2,271.0L559.7,270.1L560.2,269.1L560.7,267.9L561.2,266.6L561.7,265.0L562.2,263.3L562.7,261.3L563.2,259.0L563.7,256.7L564.2,254.4L564.7,252.1L565.2,250.1L565.7,248.4L566.2,247.0L566.7,246.2L567.2,245.9L567.7,246.4L568.2,247.4L568.7,249.0L569.2,250.9L569.7,253.2L570.2,255.5L570.7,257.9L571.2,260.2L571.7,262.6L572.2,265.5L572.7,268.6L573.2,271.8L573.7,274.9L574.2,277.8L574.7,280.7L575.2,283.4L575.7,285.8L576.2,288.0L576.7,289.8L577.2,291.3L577.7,292.5L578.2,293.5L578.7,294.3L579.2,294.9L579.7,295.4L580.2,295.8L580.7,296.1L581.2,296.4L581.7,296.6L582.2,296.9L582.7,297.1L583.2,297.3L583.7,297.5L584.2,297.7L584.7,297.9L585.2,298.1L585.7,298.2L586.2,298.2L586.7,298.2L587.2,298.1L587.7,297.7L588.2,296.9L588.7,295.8L589.2,294.1L589.7,291.8L590.2,289.2L590.7,286.7L591.2,284.7L591.7,283.1L592.2,281.6L592.7,280.3L593.2,278.9L593.7,277.6L594.2,276.4L594.7,275.6L595.2,275.0L595.7,274.7L596.2,274.5L596.7,274.5L597.2,274.6L597.7,275.0L598.2,275.8L598.7,277.0L599.2,278.7L599.7,280.7L600.2,282.7L600.7,284.7L601.2,286.7L601.7,288.7L602.2,290.8L602.7,292.8L603.2,294.6L603.7,296.3L604.2,297.9L604.7,299.3L605.2,300.6L605.7,301.9L606.2,303.1L606.7,304.2L607.2,305.3L607.7,306.3L608.2,307.3L608.7,308.2L609.2,309.0L609.7,309.7L610.2,310.3L610.7,310.9L611.2,311.2L611.7,311.4L612.2,311.3L612.7,310.9L613.2,310.3L613.7,309.4L614.2,308.5L614.7,307.4L615.2,306.3L615.7,305.2L616.2,304.2L616.7,303.3L617.2,302.6L617.7,301.9L618.2,301.4L618.7,301.0L619.2,300.7L619.7,300.5L620.2,300.4L620.7,300.5L621.2,300.6L621.7,300.8L622.2,301.1L622.7,301.6L623.2,302.1L623.7,302.6L624.2,303.3L624.7,304.0L625.2,304.9L625.7,305.7L626.2,306.6L626.7,307.6L627.2,308.5L627.7,309.4L628.2,310.3L628.7,311.1L629.2,311.8L629.7,312.5L630.2,313.0L630.7,313.5L631.2,313.9L631.7,314.2L632.2,314.4L632.7,314.5L633.2,314.6L633.7,314.5L634.2,314.4L634.7,314.1L635.2,313.8L635.7,313.4L636.2,313.0L636.7,312.5L637.2,311.9L637.7,311.3L638.2,310.7L638.7,310.0L639.2,309.3L639.7,308.6L640.2,308.0L640.7,307.3L641.2,306.8L641.7,306.3L642.2,305.9L642.7,305.6L643.2,305.5L643.7,305.5L644.2,305.7L644.7,306.1L645.2,306.7L645.7,307.5L646.2,308.4L646.7,309.5L647.2,310.8L647.7,312.1L648.2,313.6L648.7,315.2L649.2,316.8L649.7,318.4L650.2,320.0L650.7,321.6L651.2,323.0L651.7,324.5L652.2,325.8L652.7,327.1L653.2,328.3L653.7,329.5L654.2,330.6L654.7,331.7L655.2,332.7L655.7,333.7L656.2,334.6L656.7,335.5L657.2,336.4L657.7,337.3L658.2,338.1L658.7,338.9L659.2,339.6L659.7,340.4L660.2,341.1L660.7,341.9L661.2,342.6L661.7,343.3L662.2,344.1L662.7,344.8L663.2,345.5L663.7,346.3L664.2,347.0L664.7,347.8L665.2,348.6L665.7,349.4L666.2,350.2L666.7,351.1L667.2,352.0L667.7,352.8L668.2,353.7L668.7,354.6L669.2,355.4L669.7,356.3L670.2,357.1L670.7,357.9L671.2,358.7L671.7,359.4L672.2,360.1L672.7,360.8L673.2,361.5L673.7,362.1L674.2,362.7L674.7,363.2L675.2,363.8L675.7,364.3L676.2,364.8L676.7,365.2L677.2,365.7L677.7,366.1L678.2,366.4L678.7,366.8L679.2,367.2L679.7,367.5L680.2,367.8L680.7,368.1L681.2,368.4L681.7,368.6L682.2,368.8L682.7,369.0L683.2,369.2L683.7,369.4L684.2,369.5L684.7,369.6L685.2,369.7L685.7,369.8L686.2,369.8L686.7,369.8L687.2,369.8L687.7,369.7L688.2,369.5L688.7,369.3L689.2,369.1L689.7,368.7L690.2,368.4L690.7,367.9L691.2,367.3L691.7,366.7L692.2,366.0L692.7,365.2L693.2,364.3L693.7,363.4L694.2,362.4L694.7,361.4L695.2,360.5L695.7,359.5L696.2,358.7L696.7,357.9L697.2,357.2L697.7,356.7L698.2,356.3L698.7,356.2L699.2,356.2L699.7,356.3L700.2,356.2L700.7,355.9L701.2,355.4L701.7,354.8L702.2,354.1L702.7,353.4L703.2,352.6L703.7,352.0L704.2,351.4L704.7,350.9L705.2,350.6L705.7,350.3L706.2,350.0L706.7,349.8L707.2,349.6L707.7,349.3L708.2,349.1L708.7,348.8L709.2,348.4L709.7,348.0L710.2,347.6L710.7,347.1L711.2,346.6L711.7,346.1L712.2,345.7L712.7,345.2L713.2,344.8L713.7,344.4L714.2,344.1L714.7,343.9L715.2,343.7L715.7,343.5L716.2,343.4L716.7,343.2L717.2,343.1L717.7,342.9L718.2,342.8L718.7,342.5L719.2,342.3L719.7,341.9L720.2,341.6L720.7,341.3L721.2,341.0L721.7,340.8L722.2,340.6L722.7,340.6L723.2,340.6L723.7,340.8L724.2,341.2L724.7,341.6L725.2,342.2L725.7,342.9L726.2,343.6L726.7,344.5L727.2,345.4L727.7,346.4L728.2,347.4L728.7,348.5L729.2,349.5L729.7,350.6L730.2,351.6L730.7,352.6L731.2,353.6L731.7,354.6L732.2,355.5L732.7,356.4L733.2,357.2L733.7,358.0L734.2,358.8L734.7,359.5L735.2,360.2L735.7,360.9L736.2,361.6L736.7,362.2L737.2,362.8L737.7,363.4L738.2,364.0L738.7,364.6L739.2,365.2L739.7,365.8L740.2,366.5L740.7,367.2L741.2,367.9L741.7,368.7L742.2,369.5L742.7,370.4L743.2,371.4L743.7,372.4L744.2,373.4L744.7,374.5L745.2,375.7L745.7,376.9L746.2,378.1L746.7,379.3L747.2,380.5L747.7,381.7L748.2,382.8L748.7,383.9L749.2,385.0L749.7,385.9L750.2,386.8L750.7,387.6L751.2,388.2L751.7,388.8L752.2,389.2L752.7,389.5L753.2,389.6L753.7,389.6L754.2,389.5L754.7,389.3L755.2,389.1L755.7,388.7L756.2,388.3L756.7,387.8L757.2,387.2L757.7,386.6L758.2,385.9L758.7,385.1L759.2,384.3L759.7,383.4L760.2,382.5L760.7,381.6L761.2,380.8L761.7,379.9L762.2,379.2L762.7,378.5L763.2,378.0L763.7,377.5L764.2,377.1L764.7,376.7L765.2,376.4L765.7,376.0L766.2,375.7L766.7,375.3L767.2,374.8L767.7,374.3L768.2,373.6L768.7,372.7L769.2,371.7L769.7,370.5L770.2,369.0L770.7,367.5L771.2,365.9L771.7,364.3L772.2,362.9L772.7,361.6L773.2,360.3L773.7,359.2L774.2,358.3L774.7,357.4L775.2,356.6L775.7,355.9L776.2,355.3L776.7,354.8L777.2,354.3L777.7,353.9L778.2,353.5L778.7,353.2L779.2,352.8L779.7,352.5L780.2,352.2L780.7,351.9L781.2,351.6L781.7,351.5L782.2,351.3L782.7,351.2L783.2,351.2L783.7,351.3L784.2,351.5L784.7,351.9L785.2,352.5L785.7,353.2L786.2,354.2L786.7,355.3L787.2,356.6L787.7,358.0L788.2,359.5L788.7,361.0L789.2,362.6L789.7,364.1L790.2,365.5L790.7,367.0L791.2,368.3L791.7,369.5L792.2,370.7L792.7,371.7L793.2,372.6L793.7,373.4L794.2,374.1L794.7,374.7L795.2,375.2L795.7,375.6L796.2,376.0L796.7,376.4L797.2,376.7L797.7,376.9L798.2,377.2L798.7,377.4L799.2,377.7L799.7,377.9L800.2,378.2L800.7,378.5L801.2,378.9L801.7,379.2L802.2,379.6L802.7,379.9L803.2,380.3L803.7,380.6L804.2,380.9L804.7,381.1L805.2,381.3L805.7,381.5L806.2,381.5L806.7,381.6L807.2,381.6L807.7,381.6L808.2,381.6L808.7,381.5L809.2,381.4L809.7,381.4L810.2,381.3L810.6,381.2" stroke="#18962a"/>
<path d="M217.5,402.8L218.0,401.9L218.5,401.1L219.0,400.3L219.5,399.5L220.0,398.7L220.5,397.9L221.0,397.1L221.5,396.4L222.0,395.6L222.5,394.9L223.0,394.1L223.5,393.4L224.0,392.6L224.5,391.9L225.0,391.1L225.5,390.4L226.0,389.6L226.5,388.9L227.0,388.1L227.5,387.3L228.0,386.6L228.5,385.7L229.0,384.9L229.5,384.0L230.0,383.1L230.5,382.1L231.0,381.0L231.5,379.9L232.0,378.8L232.5,377.5L233.0,376.2L233.5,374.9L234.0,373.5L234.5,372.0L235.0,370.5L235.5,369.0L236.0,367.3L236.5,365.6L237.0,363.8L237.5,361.8L238.0,359.6L238.5,357.2L239.0,354.8L239.5,352.4L240.0,350.0L240.5,347.7L241.0,345.4L241.5,343.2L242.0,341.0L242.5,338.8L243.0,336.7L243.5,334.6L244.0,332.6L244.5,330.7L245.0,328.8L245.5,326.9L246.0,325.1L246.5,323.4L247.0,321.8L247.5,320.2L248.0,318.6L248.5,317.1L249.0,315.7L249.5,314.4L250.0,313.1L250.5,311.8L251.0,310.6L251.5,309.5L252.0,308.5L252.5,307.4L253.0,306.4L253.5,305.5L254.0,304.6L254.5,303.7L255.0,302.8L255.5,301.9L256.0,301.1L256.5,300.3L257.0,299.4L257.5,298.6L258.0,297.8L258.5,297.0L259.0,296.3L259.5,295.5L260.0,294.8L260.5,294.1L261.0,293.4L261.5,292.7L262.0,292.1L262.5,291.5L263.0,290.9L263.5,290.4L264.0,289.8L264.5,289.3L265.0,288.9L265.5,288.4L266.0,288.0L266.5,287.6L267.0,287.2L267.5,286.9L268.0,286.6L268.5,286.3L269.0,286.0L269.5,285.7L270.0,285.4L270.5,285.2L271.0,284.9L271.5,284.7L272.0,284.5L272.5,284.3L273.0,284.1L273.5,283.9L274.0,283.7L274.5,283.5L275.0,283.4L275.5,283.2L276.0,283.1L276.5,283.0L277.0,282.8L277.5,282.7L278.0,282.7L278.5,282.6L279.0,282.5L279.5,282.5L280.0,282.4L280.5,282.4L281.0,282.4L281.5,282.4L282.0,282.5L282.5,282.6L283.0,282.7L283.5,282.8L284.0,283.0L284.5,283.2L285.0,283.5L285.5,284.0L286.0,284.6L286.5,285.6L287.0,286.9L287.5,288.6L288.0,290.8L288.5,293.3L289.0,295.9L289.5,298.5L290.0,300.8L290.5,302.6L291.0,304.1L291.5,305.2L292.0,306.0L292.5,306.7L293.0,307.2L293.5,307.8L294.0,308.3L294.5,308.7L295.0,309.2L295.5,309.6L296.0,309.8L296.5,310.0L297.0,310.1L297.5,310.1L298.0,309.9L298.5,309.6L299.0,309.2L299.5,308.8L300.0,308.1L300.5,307.4L301.0,306.5L301.5,305.4L302.0,304.2L302.5,302.7L303.0,301.0L303.5,299.0L304.0,296.8L304.5,294.4L305.0,291.8L305.5,289.2L306.0,286.5L306.5,283.8L307.0,281.2L307.5,278.8L308.0,276.4L308.5,274.1L309.0,272.0L309.5,269.9L310.0,267.9L310.5,265.9L311.0,264.1L311.5,262.3L312.0,260.5L312.5,258.9L313.0,257.4L313.5,256.0L314.0,254.7L314.5,253.6L315.0,252.6L315.5,251.6L316.0,250.7L316.5,249.8L317.0,248.8L317.5,247.8L318.0,246.8L318.5,245.8L319.0,244.8L319.5,244.0L320.0,243.2L320.5,242.5L321.0,242.0L321.5,241.7L322.0,241.4L322.5,241.3L323.0,241.2L323.5,241.3L324.0,241.4L324.5,241.5L325.0,241.7L325.5,241.9L326.0,242.2L326.5,242.5L327.0,242.9L327.5,243.3L328.0,243.7L328.5,244.2L329.0,244.8L329.5,245.4L330.0,246.0L330.5,246.6L331.0,247.2L331.5,247.9L332.0,248.5L332.5,249.1L333.0,249.7L333.5,250.3L334.0,250.9L334.5,251.4L335.0,251.9L335.5,252.4L336.0,252.8L336.5,253.3L337.0,253.7L337.5,254.0L338.0,254.4L338.5,254.7L339.0,255.0L339.5,255.3L340.0,255.5L340.5,255.8L341.0,256.0L341.5,256.2L342.0,256.3L342.5,256.5L343.0,256.6L343.5,256.7L344.0,256.8L344.5,256.8L345.0,256.9L345.5,256.9L346.0,256.9L346.5,256.8L347.0,256.8L347.5,256.7L348.0,256.7L348.5,256.7L349.0,256.8L349.5,256.9L350.0,257.2L350.5,257.7L351.0,258.3L351.5,259.2L352.0,260.3L352.5,261.6L353.0,263.1L353.5,264.4L354.0,265.6L354.5,266.6L355.0,267.5L355.5,268.4L356.0,269.3L356.5,270.2L357.0,271.2L357.5,272.4L358.0,273.7L358.5,275.0L359.0,276.4L359.5,277.8L360.0,279.2L360.5,280.6L361.0,281.9L361.5,283.1L362.0,284.3L362.5,285.4L363.0,286.4L363.5,287.3L364.0,288.1L364.5,288.8L365.0,289.3L365.5,289.8L366.0,290.1L366.5,290.3L367.0,290.2L367.5,290.0L368.0,289.6L368.5,289.0L369.0,288.3L369.5,287.4L370.0,286.5L370.5,285.5L371.0,284.3L371.5,283.2L372.0,282.0L372.5,280.8L373.0,279.6L373.5,278.4L374.0,277.3L374.5,276.2L375.0,275.3L375.5,274.3L376.0,273.5L376.5,272.7L377.0,271.9L377.5,271.2L378.0,270.5L378.5,269.9L379.0,269.3L379.5,268.8L380.0,268.2L380.5,267.7L381.0,267.2L381.5,266.7L382.0,266.3L382.5,265.9L383.0,265.6L383.5,265.4L384.0,265.2L384.5,265.1L385.0,265.2L385.5,265.3L386.0,265.5L386.5,265.9L387.0,266.3L387.5,266.9L388.0,267.7L388.5,268.6L389.0,269.7L389.5,270.9L390.0,272.2L390.5,273.6L391.0,275.1L391.5,276.5L392.0,277.9L392.5,279.2L393.0,280.4L393.5,281.5L394.0,282.5L394.5,283.3L395.0,284.2L395.5,284.9L396.0,285.6L396.5,286.3L397.0,286.9L397.5,287.6L398.0,288.3L398.5,289.0L399.0,289.8L399.5,290.5L400.0,291.3L400.5,291.9L401.0,292.5L401.5,293.0L402.0,293.4L402.5,293.7L403.0,293.8L403.5,293.8L404.0,293.6L404.5,293.3L405.0,293.0L405.5,292.5L406.0,291.9L406.5,291.2L407.0,290.4L407.5,289.6L408.0,288.7L408.5,287.8L409.0,286.9L409.5,285.9L410.0,285.0L410.5,284.2L411.0,283.4L411.5,282.7L412.0,282.0L412.5,281.5L413.0,281.0L413.5,280.6L414.0,280.2L414.5,279.8L415.0,279.5L415.5,279.2L416.0,278.9L416.5,278.6L417.0,278.3L417.5,277.9L418.0,277.6L418.5,277.2L419.0,276.7L419.5,276.2L420.0,275.7L420.5,275.0L421.0,274.4L421.5,273.6L422.0,272.9L422.5,272.1L423.0,271.2L423.5,270.4L424.0,269.5L424.5,268.6L425.0,267.7L425.5,266.8L426.0,265.9L426.5,265.0L427.0,264.1L427.5,263.3L428.0,262.4L428.5,261.6L429.0,260.9L429.5,260.2L430.0,259.5L430.5,258.8L431.0,258.2L431.5,257.6L432.0,257.1L432.5,256.6L433.0,256.1L433.5,255.7L434.0,255.3L434.5,255.0L435.0,254.7L435.5,254.4L436.0,254.2L436.5,254.1L437.0,254.0L437.5,253.9L438.0,253.9L438.5,253.9L439.0,254.0L439.5,254.1L440.0,254.3L440.5,254.5L441.0,254.7L441.5,255.0L442.0,255.3L442.5,255.6L443.0,256.0L443.5,256.4L444.0,256.9L444.5,257.3L445.0,257.8L445.5,258.3L446.0,258.8L446.5,259.4L447.0,259.9L447.5,260.5L448.0,261.0L448.5,261.6L449.0,262.2L449.5,262.9L450.0,263.5L450.5,264.1L451.0,264.8L451.5,265.5L452.0,266.2L452.5,267.0L453.0,267.7L453.5,268.5L454.0,269.3L454.5,270.1L455.0,271.0L455.5,271.9L456.0,272.8L456.5,273.7L457.0,274.6L457.5,275.5L458.0,276.4L458.5,277.3L459.0,278.1L459.5,278.9L460.0,279.7L460.5,280.4L461.0,281.1L461.5,281.7L462.0,282.3L462.5,282.8L463.0,283.3L463.5,283.8L464.0,284.2L464.5,284.6L465.0,284.9L465.5,285.2L466.0,285.5L466.5,285.8L467.0,286.0L467.5,286.3L468.0,286.5L468.5,286.6L469.0,286.8L469.5,287.0L470.0,287.1L470.5,287.2L471.0,287.3L471.5,287.4L472.0,287.4L472.5,287.5L473.0,287.5L473.5,287.5L474.0,287.5L474.5,287.5L475.0,287.4L475.5,287.4L476.0,287.3L476.5,287.2L477.0,287.1L477.5,286.9L478.0,286.8L478.5,286.6L479.0,286.4L479.5,286.2L480.0,286.0L480.5,285.7L481.0,285.5L481.5,285.2L482.0,284.9L482.5,284.6L483.0,284.3L483.5,283.9L484.0,283.6L484.5,283.2L485.0,282.8L485.5,282.4L486.0,282.0L486.5,281.6L487.0,281.2L487.5,280.8L488.0,280.3L488.5,279.9L489.0,279.5L489.5,279.1L490.0,278.7L490.5,278.5L491.0,278.3L491.5,278.3L492.0,278.4L492.5,278.6L493.0,279.0L493.5,279.4L494.0,279.8L494.5,280.3L495.0,280.8L495.5,281.2L496.0,281.5L496.5,281.9L497.0,282.2L497.5,282.5L498.0,282.8L498.5,283.1L499.0,283.3L499.5,283.6L500.0,283.9L500.5,284.2L501.0,284.5L501.5,284.8L502.0,285.0L502.5,285.3L503.0,285.5L503.5,285.7L504.0,285.9L504.5,286.0L505.0,286.0L505.5,286.0L506.0,285.9L506.5,285.7L507.0,285.5L507.5,285.2L508.0,285.0L508.5,284.7L509.0,284.4L509.5,284.1L510.0,283.9L510.5,283.6L511.0,283.4L511.5,283.3L512.0,283.1L512.5,283.1L513.0,283.1L513.5,283.2L514.0,283.3L514.5,283.6L515.0,283.9L515.5,284.3L516.0,284.8L516.5,285.3L517.0,285.8L517.5,286.4L518.0,287.0L518.5,287.6L519.0,288.2L519.5,288.8L520.0,289.4L520.5,289.9L521.0,290.5L521.5,291.0L522.0,291.5L522.5,292.0L523.0,292.4L523.5,292.8L524.0,293.1L524.5,293.4L525.0,293.7L525.5,293.9L526.0,294.1L526.5,294.3L527.0,294.4L527.5,294.5L528.0,294.6L528.5,294.6L529.0,294.7L529.5,294.7L530.0,294.7L530.5,294.8L531.0,294.8L531.5,294.9L532.0,295.0L532.5,295.1L533.0,295.3L533.5,295.5L534.0,295.8L534.5,296.1L535.0,296.4L535.5,296.7L536.0,297.1L536.5,297.4L537.0,297.8L537.5,298.2L538.0,298.7L538.5,299.1L539.0,299.5L539.5,299.9L540.0,300.3L540.5,300.7L541.0,301.1L541.5,301.4L542.0,301.7L542.5,302.0L543.0,302.2L543.5,302.4L544.0,302.6L544.5,302.7L545.0,302.7L545.5,302.7L546.0,302.7L546.5,302.5L547.0,302.3L547.5,302.0L548.0,301.6L548.5,301.2L549.0,300.7L549.5,300.1L550.0,299.4L550.5,298.8L551.0,298.1L551.5,297.3L552.0,296.5L552.5,295.8L553.0,295.0L553.5,294.1L554.0,293.3L554.5,292.5L555.0,291.7L555.5,290.9L556.0,290.1L556.5,289.3L557.0,288.5L557.5,287.7L558.0,286.9L558.5,286.1L559.0,285.4L559.5,284.6L560.0,283.9L560.5,283.2L561.0,282.5L561.5,281.9L562.0,281.3L562.5,280.7L563.0,280.1L563.5,279.6L564.0,279.1L564.5,278.7L565.0,278.2L565.5,277.9L566.0,277.6L566.5,277.3L567.0,277.1L567.5,277.0L568.0,276.9L568.5,276.9L569.0,277.1L569.5,277.3L570.0,277.6L570.5,278.1L571.0,278.7L571.5,279.4L572.0,280.3L572.5,281.3L573.0,282.4L573.5,283.6L574.0,284.9L574.5,286.3L575.0,287.6L575.5,289.0L576.0,290.4L576.5,291.6L577.0,292.9L577.5,294.1L578.0,295.2L578.5,296.3L579.0,297.3L579.5,298.3L580.0,299.2L580.5,300.1L581.0,301.0L581.5,301.8L582.0,302.5L582.5,303.2L583.0,303.9L583.5,304.5L584.0,305.1L584.5,305.6L585.0,306.1L585.5,306.5L586.0,306.8L586.5,307.0L587.0,307.2L587.5,307.3L588.0,307.2L588.5,307.1L589.0,307.0L589.5,306.7L590.0,306.3L590.5,305.9L591.0,305.5L591.5,305.1L592.0,304.6L592.5,304.2L593.0,303.8L593.5,303.5L594.0,303.2L594.5,303.0L595.0,302.9L595.5,302.9L596.0,303.0L596.5,303.2L597.0,303.5L597.5,303.8L598.0,304.2L598.5,304.6L599.0,305.1L599.5,305.6L600.0,306.1L600.5,306.6L601.0,307.1L601.5,307.5L602.0,308.0L602.5,308.5L603.0,308.9L603.5,309.4L604.0,309.8L604.5,310.3L605.0,310.8L605.5,311.3L606.0,311.8L606.5,312.3L607.0,312.9L607.5,313.5L608.0,314.1L608.5,314.8L609.0,315.5L609.5,316.2L610.0,317.0L610.5,317.8L611.0,318.6L611.5,319.4L612.0,320.2L612.5,320.9L613.0,321.6L613.5,322.1L614.0,322.6L614.5,323.0L615.0,323.2L615.5,323.4L616.0,323.4L616.5,323.4L617.0,323.3L617.5,323.2L618.0,323.0L618.5,322.7L619.0,322.5L619.5,322.2L620.0,321.9L620.5,321.6L621.0,321.3L621.5,321.0L622.0,320.6L622.5,320.3L623.0,320.0L623.5,319.7L624.0,319.4L624.5,319.2L625.0,318.9L625.5,318.7L626.0,318.4L626.5,318.2L627.0,318.0L627.5,317.8L628.0,317.7L628.5,317.5L629.0,317.4L629.5,317.2L630.0,317.1L630.5,317.0L631.0,316.9L631.5,316.8L632.0,316.8L632.5,316.7L633.0,316.6L633.5,316.5L634.0,316.4L634.5,316.3L635.0,316.2L635.5,316.1L636.0,315.9L636.5,315.8L637.0,315.6L637.5,315.4L638.0,315.2L638.5,315.0L639.0,314.8L639.5,314.6L640.0,314.5L640.5,314.4L641.0,314.3L641.5,314.3L642.0,314.4L642.5,314.5L643.0,314.6L643.5,314.9L644.0,315.2L644.5,315.6L645.0,316.2L645.5,316.8L646.0,317.6L646.5,318.5L647.0,319.5L647.5,320.7L648.0,321.9L648.5,323.2L649.0,324.6L649.5,326.0L650.0,327.4L650.5,328.8L651.0,330.2L651.5,331.5L652.0,332.7L652.5,333.8L653.0,334.9L653.5,335.9L654.0,336.8L654.5,337.6L655.0,338.4L655.5,339.2L656.0,339.9L656.5,340.6L657.0,341.2L657.5,341.9L658.0,342.5L658.5,343.2L659.0,343.9L659.5,344.5L660.0,345.2L660.5,345.8L661.0,346.5L661.5,347.2L662.0,347.8L662.5,348.5L663.0,349.2L663.5,349.9L664.0,350.5L664.5,351.2L665.0,351.9L665.5,352.6L666.0,353.3L666.5,354.0L667.0,354.7L667.5,355.4L668.0,356.1L668.5,356.8L669.0,357.6L669.5,358.3L670.0,359.0L670.5,359.8L671.0,360.5L671.5,361.2L672.0,362.0L672.5,362.7L673.0,363.5L673.5,364.3L674.0,365.0L674.5,365.8L675.0,366.5L675.5,367.3L676.0,368.1L676.5,368.8L677.0,369.6L677.5,370.3L678.0,371.1L678.5,371.8L679.0,372.5L679.5,373.3L680.0,374.0L680.5,374.7L681.0,375.4L681.5,376.1L682.0,376.8L682.5,377.5L683.0,378.2L683.5,379.0L684.0,379.7L684.5,380.5L685.0,381.3L685.5,382.1L686.0,382.9L686.5,383.8L687.0,384.7L687.5,385.6L688.0,386.6L688.5,387.5L689.0,388.4L689.5,389.3L690.0,390.1L690.5,390.9L691.0,391.7L691.5,392.4L692.0,393.0L692.5,393.6L693.0,394.0L693.5,394.4L694.0,394.8L694.5,395.0L695.0,395.2L695.5,395.4L696.0,395.4L696.5,395.4L697.0,395.4L697.5,395.3L698.0,395.1L698.5,394.9L699.0,394.6L699.5,394.3L700.0,393.9L700.5,393.5L701.0,393.1L701.5,392.7L702.0,392.2L702.5,391.7L703.0,391.2L703.5,390.6L704.0,390.1L704.5,389.6L705.0,389.0L705.5,388.5L706.0,387.9L706.5,387.4L707.0,386.9L707.5,386.4L708.0,386.0L708.5,385.5L709.0,385.1L709.5,384.8L710.0,384.4L710.5,384.1L711.0,383.9L711.5,383.6L712.0,383.3L712.5,383.1L713.0,382.9L713.5,382.6L714.0,382.4L714.5,382.1L715.0,381.9L715.5,381.6L716.0,381.4L716.5,381.1L717.0,380.9L717.5,380.8L718.0,380.7L718.5,380.6L719.0,380.6L719.5,380.7L720.0,380.8L720.5,381.0L721.0,381.2L721.5,381.4L722.0,381.7L722.5,382.0L723.0,382.3L723.5,382.7L724.0,383.0L724.5,383.4L725.0,383.8L725.5,384.1L726.0,384.5L726.5,384.8L727.0,385.1L727.5,385.5L728.0,385.8L728.5,386.1L729.0,386.4L729.5,386.7L730.0,386.9L730.5,387.2L731.0,387.4L731.5,387.6L732.0,387.8L732.5,387.9L733.0,388.1L733.5,388.2L734.0,388.3L734.5,388.4L735.0,388.5L735.5,388.6L736.0,388.6L736.5,388.7L737.0,388.7L737.5,388.8L738.0,388.8L738.5,388.8L739.0,388.8L739.5,388.8L740.0,388.7L740.5,388.7L741.0,388.7L741.5,388.6L742.0,388.6L742.5,388.5L743.0,388.4L743.5,388.3L744.0,388.2L744.5,388.1L745.0,387.9L745.5,387.6L746.0,387.4L746.5,387.1L747.0,386.7L747.5,386.2L748.0,385.7L748.5,385.2L749.0,384.5L749.5,383.7L750.0,382.8L750.5,381.8L751.0,380.6L751.5,379.3L752.0,377.9L752.5,376.3L753.0,374.7L753.5,372.9L754.0,371.1L754.5,369.3L755.0,367.5L755.5,365.7L756.0,363.9L756.5,362.1L757.0,360.4L757.5,358.8L758.0,357.2L758.5,355.7L759.0,354.3L759.5,353.0L760.0,351.8L760.5,350.7L761.0,349.7L761.5,348.7L762.0,347.8L762.5,346.9L763.0,346.1L763.5,345.4L764.0,344.6L764.5,343.9L765.0,343.3L765.5,342.6L766.0,342.0L766.5,341.5L767.0,340.9L767.5,340.4L768.0,340.0L768.5,339.6L769.0,339.2L769.5,338.9L770.0,338.6L770.5,338.3L771.0,338.1L771.5,338.0L772.0,337.8L772.5,337.7L773.0,337.6L773.5,337.6L774.0,337.5L774.5,337.5L775.0,337.5L775.5,337.5L776.0,337.5L776.5,337.6L777.0,337.7L777.5,337.8L778.0,337.9L778.5,338.1L779.0,338.3L779.5,338.5L780.0,338.8L780.5,339.0L781.0,339.4L781.5,339.8L782.0,340.2L782.5,340.6L783.0,341.1L783.5,341.5L784.0,342.0L784.5,342.6L785.0,343.1L785.5,343.7L786.0,344.3L786.5,344.9L787.0,345.5L787.5,346.1L788.0,346.7L788.5,347.4L789.0,348.0L789.5,348.7L790.0,349.4L790.5,350.1L791.0,350.8L791.5,351.5L792.0,352.2L792.5,352.9L793.0,353.6L793.5,354.3L794.0,355.0L794.5,355.7L795.0,356.4L795.5,357.1L796.0,357.8L796.5,358.5L797.0,359.1L797.5,359.8L798.0,360.4L798.5,361.0L799.0,361.6L799.5,362.1L800.0,362.7L800.5,363.2L801.0,363.7L801.5,364.2L802.0,364.6L802.5,365.0L803.0,365.4L803.5,365.7L804.0,366.0L804.5,366.3L805.0,366.6L805.5,366.8L806.0,367.0L806.5,367.2L807.0,367.4L807.5,367.5L808.0,367.6L808.5,367.7L809.0,367.9L809.5,367.9L810.0,368.0L810.5,368.1L810.6,368.1" stroke="#1470c4"/>
<path d="M217.9,431.3L218.4,430.4L218.9,429.5L219.4,428.5L219.9,427.5L220.4,426.4L220.9,425.3L221.4,424.2L221.9,423.0L222.4,421.9L222.9,420.7L223.4,419.6L223.9,418.4L224.4,417.3L224.9,416.2L225.4,415.1L225.9,414.1L226.4,413.1L226.9,412.1L227.4,411.1L227.9,410.1L228.4,409.0L228.9,408.0L229.4,406.8L229.9,405.6L230.4,404.4L230.9,403.0L231.4,401.5L231.9,399.9L232.4,398.2L232.9,396.3L233.4,394.3L233.9,392.2L234.4,389.9L234.9,387.5L235.4,385.1L235.9,382.6L236.4,380.1L236.9,377.7L237.4,375.4L237.9,373.0L238.4,370.6L238.9,368.0L239.4,365.1L239.9,362.1L240.4,358.7L240.9,355.2L241.4,351.6L241.9,347.9L242.4,344.2L242.9,340.7L243.4,337.4L243.9,334.4L244.4,331.8L244.9,329.6L245.4,327.6L245.9,326.0L246.4,324.6L246.9,323.4L247.4,322.4L247.9,321.6L248.4,320.9L248.9,320.4L249.4,320.0L249.9,319.7L250.4,319.4L250.9,319.1L251.4,318.9L251.9,318.6L252.4,318.3L252.9,318.0L253.4,317.6L253.9,317.1L254.4,316.7L254.9,316.2L255.4,315.7L255.9,315.2L256.4,314.6L256.9,314.0L257.4,313.5L257.9,312.9L258.4,312.3L258.9,311.7L259.4,311.1L259.9,310.5L260.4,309.9L260.9,309.3L261.4,308.7L261.9,308.2L262.4,307.6L262.9,307.0L263.4,306.5L263.9,305.9L264.4,305.3L264.9,304.8L265.4,304.2L265.9,303.7L266.4,303.2L266.9,302.6L267.4,302.1L267.9,301.6L268.4,301.0L268.9,300.5L269.4,300.0L269.9,299.5L270.4,299.0L270.9,298.5L271.4,298.0L271.9,297.5L272.4,297.0L272.9,296.5L273.4,296.0L273.9,295.5L274.4,295.0L274.9,294.5L275.4,294.0L275.9,293.6L276.4,293.1L276.9,292.6L277.4,292.2L277.9,291.8L278.4,291.4L278.9,291.1L279.4,290.8L279.9,290.6L280.4,290.5L280.9,290.4L281.4,290.5L281.9,290.6L282.4,290.8L282.9,291.2L283.4,291.6L283.9,292.1L284.4,292.8L284.9,293.5L285.4,294.3L285.9,295.2L286.4,296.1L286.9,297.1L287.4,298.2L287.9,299.3L288.4,300.4L288.9,301.6L289.4,302.8L289.9,304.0L290.4,305.1L290.9,306.3L291.4,307.5L291.9,308.6L292.4,309.7L292.9,310.8L293.4,311.8L293.9,312.9L294.4,313.8L294.9,314.7L295.4,315.6L295.9,316.4L296.4,317.1L296.9,317.7L297.4,318.2L297.9,318.6L298.4,318.8L298.9,318.9L299.4,318.8L299.9,318.6L300.4,318.2L300.9,317.7L301.4,317.1L301.9,316.3L302.4,315.5L302.9,314.5L303.4,313.4L303.9,312.3L304.4,311.0L304.9,309.7L305.4,308.2L305.9,306.5L306.4,304.8L306.9,302.9L307.4,300.9L307.9,298.9L308.4,296.8L308.9,294.7L309.4,292.7L309.9,290.8L310.4,289.0L310.9,287.2L311.4,285.5L311.9,283.9L312.4,282.4L312.9,280.9L313.4,279.5L313.9,278.1L314.4,276.8L314.9,275.6L315.4,274.4L315.9,273.3L316.4,272.3L316.9,271.4L317.4,270.5L317.9,269.7L318.4,269.0L318.9,268.4L319.4,267.9L319.9,267.5L320.4,267.1L320.9,266.8L321.4,266.5L321.9,266.4L322.4,266.3L322.9,266.2L323.4,266.3L323.9,266.4L324.4,266.5L324.9,266.7L325.4,267.0L325.9,267.3L326.4,267.7L326.9,268.1L327.4,268.5L327.9,269.0L328.4,269.5L328.9,270.0L329.4,270.5L329.9,271.0L330.4,271.5L330.9,272.1L331.4,272.6L331.9,273.1L332.4,273.5L332.9,274.0L333.4,274.4L333.9,274.8L334.4,275.1L334.9,275.4L335.4,275.6L335.9,275.8L336.4,275.9L336.9,276.0L337.4,276.0L337.9,275.9L338.4,275.8L338.9,275.6L339.4,275.3L339.9,275.0L340.4,274.6L340.9,274.2L341.4,273.8L341.9,273.3L342.4,272.8L342.9,272.3L343.4,271.7L343.9,271.2L344.4,270.7L344.9,270.2L345.4,269.7L345.9,269.2L346.4,268.8L346.9,268.4L347.4,268.0L347.9,267.7L348.4,267.4L348.9,267.1L349.4,266.9L349.9,266.8L350.4,266.8L350.9,266.9L351.4,267.2L351.9,267.6L352.4,268.1L352.9,268.6L353.4,269.3L353.9,270.1L354.4,270.9L354.9,271.8L355.4,272.8L355.9,273.9L356.4,275.0L356.9,276.1L357.4,277.3L357.9,278.6L358.4,279.9L358.9,281.2L359.4,282.6L359.9,284.0L360.4,285.4L360.9,286.8L361.4,288.2L361.9,289.6L362.4,291.0L362.9,292.4L363.4,293.7L363.9,294.9L364.4,296.1L364.9,297.2L365.4,298.2L365.9,299.1L366.4,300.0L366.9,300.8L367.4,301.5L367.9,302.1L368.4,302.7L368.9,303.2L369.4,303.6L369.9,303.7L370.4,303.7L370.9,303.4L371.4,302.9L371.9,302.2L372.4,301.4L372.9,300.5L373.4,299.7L373.9,298.8L374.4,297.9L374.9,297.0L375.4,296.2L375.9,295.4L376.4,294.6L376.9,293.8L377.4,293.1L377.9,292.5L378.4,291.9L378.9,291.3L379.4,290.8L379.9,290.3L380.4,289.8L380.9,289.4L381.4,288.9L381.9,288.5L382.4,288.0L382.9,287.6L383.4,287.1L383.9,286.7L384.4,286.3L384.9,286.0L385.4,285.8L385.9,285.8L386.4,285.8L386.9,286.0L387.4,286.3L387.9,286.8L388.4,287.3L388.9,288.1L389.4,288.9L389.9,289.9L390.4,291.1L390.9,292.3L391.4,293.7L391.9,295.1L392.4,296.6L392.9,298.1L393.4,299.6L393.9,301.1L394.4,302.6L394.9,304.0L395.4,305.3L395.9,306.6L396.4,307.9L396.9,309.1L397.4,310.2L397.9,311.3L398.4,312.2L398.9,313.2L399.4,314.0L399.9,314.8L400.4,315.5L400.9,316.1L401.4,316.6L401.9,317.1L402.4,317.5L402.9,317.8L403.4,318.1L403.9,318.3L404.4,318.4L404.9,318.4L405.4,318.3L405.9,318.1L406.4,317.7L406.9,317.2L407.4,316.6L407.9,315.8L408.4,314.9L408.9,314.0L409.4,313.0L409.9,312.0L410.4,311.0L410.9,310.1L411.4,309.3L411.9,308.5L412.4,307.9L412.9,307.5L413.4,307.1L413.9,306.9L414.4,306.8L414.9,306.7L415.4,306.7L415.9,306.7L416.4,306.7L416.9,306.7L417.4,306.7L417.9,306.7L418.4,306.7L418.9,306.6L419.4,306.4L419.9,306.2L420.4,306.0L420.9,305.6L421.4,305.2L421.9,304.7L422.4,304.1L422.9,303.4L423.4,302.7L423.9,301.9L424.4,301.0L424.9,300.2L425.4,299.2L425.9,298.3L426.4,297.3L426.9,296.4L427.4,295.4L427.9,294.5L428.4,293.6L428.9,292.7L429.4,291.8L429.9,290.9L430.4,290.1L430.9,289.3L431.4,288.4L431.9,287.6L432.4,286.8L432.9,286.0L433.4,285.2L433.9,284.5L434.4,283.7L434.9,282.9L435.4,282.2L435.9,281.5L436.4,280.8L436.9,280.2L437.4,279.7L437.9,279.4L438.4,279.1L438.9,278.9L439.4,278.9L439.9,279.0L440.4,279.2L440.9,279.5L441.4,279.9L441.9,280.3L442.4,280.9L442.9,281.5L443.4,282.1L443.9,282.8L444.4,283.5L444.9,284.2L445.4,285.0L445.9,285.7L446.4,286.4L446.9,287.1L447.4,287.8L447.9,288.5L448.4,289.2L448.9,289.9L449.4,290.6L449.9,291.2L450.4,291.8L450.9,292.5L451.4,293.1L451.9,293.6L452.4,294.2L452.9,294.8L453.4,295.3L453.9,295.8L454.4,296.3L454.9,296.8L455.4,297.3L455.9,297.8L456.4,298.3L456.9,298.7L457.4,299.2L457.9,299.7L458.4,300.2L458.9,300.6L459.4,301.1L459.9,301.6L460.4,302.1L460.9,302.6L461.4,303.1L461.9,303.5L462.4,303.9L462.9,304.4L463.4,304.7L463.9,305.1L464.4,305.4L464.9,305.6L465.4,305.8L465.9,306.0L466.4,306.1L466.9,306.1L467.4,306.1L467.9,306.0L468.4,305.9L468.9,305.7L469.4,305.5L469.9,305.2L470.4,305.0L470.9,304.7L471.4,304.4L471.9,304.1L472.4,303.8L472.9,303.5L473.4,303.1L473.9,302.9L474.4,302.6L474.9,302.3L475.4,302.1L475.9,301.8L476.4,301.6L476.9,301.4L477.4,301.2L477.9,300.9L478.4,300.7L478.9,300.5L479.4,300.2L479.9,300.0L480.4,299.8L480.9,299.5L481.4,299.2L481.9,298.9L482.4,298.6L482.9,298.2L483.4,297.9L483.9,297.5L484.4,297.1L484.9,296.6L485.4,296.2L485.9,295.7L486.4,295.2L486.9,294.6L487.4,294.1L487.9,293.5L488.4,292.8L488.9,292.2L489.4,291.5L489.9,290.7L490.4,290.0L490.9,289.2L491.4,288.5L491.9,287.8L492.4,287.1L492.9,286.4L493.4,285.8L493.9,285.3L494.4,284.9L494.9,284.5L495.4,284.3L495.9,284.1L496.4,284.1L496.9,284.2L497.4,284.4L497.9,284.7L498.4,285.0L498.9,285.4L499.4,285.9L499.9,286.3L500.4,286.8L500.9,287.4L501.4,287.9L501.9,288.4L502.4,289.0L502.9,289.5L503.4,290.0L503.9,290.5L504.4,290.9L504.9,291.4L505.4,291.7L505.9,292.1L506.4,292.4L506.9,292.6L507.4,292.9L507.9,293.0L508.4,293.2L508.9,293.3L509.4,293.4L509.9,293.5L510.4,293.5L510.9,293.6L511.4,293.6L511.9,293.6L512.4,293.6L512.9,293.6L513.4,293.6L513.9,293.7L514.4,293.9L514.9,294.2L515.4,294.5L515.9,295.0L516.4,295.6L516.9,296.3L517.4,297.1L517.9,297.9L518.4,298.8L518.9,299.7L519.4,300.6L519.9,301.5L520.4,302.4L520.9,303.3L521.4,304.1L521.9,304.9L522.4,305.7L522.9,306.4L523.4,307.1L523.9,307.8L524.4,308.4L524.9,309.0L525.4,309.6L525.9,310.2L526.4,310.7L526.9,311.2L527.4,311.8L527.9,312.2L528.4,312.7L528.9,313.1L529.4,313.5L529.9,313.8L530.4,314.1L530.9,314.3L531.4,314.4L531.9,314.4L532.4,314.4L532.9,314.3L533.4,314.1L533.9,313.9L534.4,313.6L534.9,313.3L535.4,313.0L535.9,312.8L536.4,312.6L536.9,312.4L537.4,312.3L537.9,312.4L538.4,312.4L538.9,312.6L539.4,312.8L539.9,313.0L540.4,313.3L540.9,313.6L541.4,313.8L541.9,314.1L542.4,314.3L542.9,314.5L543.4,314.7L543.9,314.8L544.4,314.9L544.9,315.0L545.4,315.0L545.9,315.0L546.4,314.9L546.9,314.9L547.4,314.8L547.9,314.6L548.4,314.5L548.9,314.3L549.4,314.1L549.9,313.9L550.4,313.7L550.9,313.4L551.4,313.2L551.9,312.9L552.4,312.6L552.9,312.3L553.4,312.0L553.9,311.6L554.4,311.3L554.9,311.0L555.4,310.6L555.9,310.2L556.4,309.9L556.9,309.5L557.4,309.1L557.9,308.7L558.4,308.3L558.9,307.8L559.4,307.4L559.9,307.0L560.4,306.6L560.9,306.3L561.4,305.9L561.9,305.6L562.4,305.2L562.9,304.9L563.4,304.7L563.9,304.4L564.4,304.2L564.9,304.0L565.4,303.9L565.9,303.9L566.4,303.8L566.9,303.9L567.4,304.0L567.9,304.2L568.4,304.4L568.9,304.8L569.4,305.2L569.9,305.7L570.4,306.2L570.9,306.8L571.4,307.5L571.9,308.2L572.4,308.9L572.9,309.7L573.4,310.5L573.9,311.3L574.4,312.1L574.9,313.0L575.4,313.8L575.9,314.6L576.4,315.5L576.9,316.3L577.4,317.2L577.9,318.0L578.4,318.8L578.9,319.7L579.4,320.5L579.9,321.3L580.4,322.1L580.9,322.9L581.4,323.7L581.9,324.4L582.4,325.1L582.9,325.8L583.4,326.4L583.9,327.0L584.4,327.5L584.9,328.0L585.4,328.4L585.9,328.8L586.4,329.0L586.9,329.2L587.4,329.3L587.9,329.4L588.4,329.4L588.9,329.3L589.4,329.1L589.9,328.9L590.4,328.6L590.9,328.2L591.4,327.7L591.9,327.3L592.4,326.7L592.9,326.2L593.4,325.6L593.9,325.0L594.4,324.4L594.9,323.8L595.4,323.2L595.9,322.7L596.4,322.2L596.9,321.7L597.4,321.3L597.9,321.0L598.4,320.8L598.9,320.6L599.4,320.6L599.9,320.7L600.4,320.9L600.9,321.2L601.4,321.6L601.9,322.1L602.4,322.7L602.9,323.3L603.4,323.9L603.9,324.5L604.4,325.2L604.9,325.8L605.4,326.4L605.9,327.0L606.4,327.5L606.9,328.1L607.4,328.6L607.9,329.1L608.4,329.6L608.9,330.0L609.4,330.4L609.9,330.8L610.4,331.2L610.9,331.4L611.4,331.7L611.9,331.8L612.4,331.9L612.9,331.8L613.4,331.7L613.9,331.4L614.4,331.0L614.9,330.6L615.4,330.1L615.9,329.5L616.4,328.9L616.9,328.3L617.4,327.6L617.9,326.9L618.4,326.2L618.9,325.5L619.4,324.9L619.9,324.2L620.4,323.6L620.9,323.0L621.4,322.5L621.9,321.9L622.4,321.4L622.9,320.9L623.4,320.5L623.9,320.0L624.4,319.6L624.9,319.2L625.4,318.8L625.9,318.4L626.4,318.1L626.9,317.7L627.4,317.4L627.9,317.0L628.4,316.7L628.9,316.4L629.4,316.1L629.9,315.7L630.4,315.4L630.9,315.1L631.4,314.8L631.9,314.4L632.4,314.1L632.9,313.8L633.4,313.4L633.9,313.1L634.4,312.7L634.9,312.4L635.4,312.0L635.9,311.7L636.4,311.4L636.9,311.0L637.4,310.7L637.9,310.4L638.4,310.1L638.9,309.9L639.4,309.6L639.9,309.4L640.4,309.3L640.9,309.2L641.4,309.1L641.9,309.1L642.4,309.2L642.9,309.4L643.4,309.7L643.9,310.1L644.4,310.5L644.9,311.0L645.4,311.7L645.9,312.4L646.4,313.2L646.9,314.1L647.4,315.0L647.9,316.1L648.4,317.1L648.9,318.3L649.4,319.4L649.9,320.6L650.4,321.8L650.9,323.0L651.4,324.1L651.9,325.2L652.4,326.3L652.9,327.3L653.4,328.4L653.9,329.3L654.4,330.3L654.9,331.2L655.4,332.0L655.9,332.9L656.4,333.7L656.9,334.4L657.4,335.2L657.9,335.9L658.4,336.6L658.9,337.2L659.4,337.8L659.9,338.4L660.4,339.0L660.9,339.6L661.4,340.1L661.9,340.7L662.4,341.2L662.9,341.7L663.4,342.3L663.9,342.8L664.4,343.3L664.9,343.9L665.4,344.4L665.9,345.0L666.4,345.6L666.9,346.2L667.4,346.8L667.9,347.4L668.4,348.1L668.9,348.8L669.4,349.5L669.9,350.2L670.4,351.0L670.9,351.7L671.4,352.5L671.9,353.2L672.4,353.9L672.9,354.7L673.4,355.4L673.9,356.1L674.4,356.8L674.9,357.5L675.4,358.1L675.9,358.8L676.4,359.4L676.9,360.0L677.4,360.6L677.9,361.2L678.4,361.7L678.9,362.3L679.4,362.8L679.9,363.4L680.4,363.9L680.9,364.4L681.4,364.9L681.9,365.5L682.4,366.0L682.9,366.5L683.4,367.0L683.9,367.5L684.4,368.1L684.9,368.6L685.4,369.1L685.9,369.6L686.4,370.1L686.9,370.6L687.4,371.0L687.9,371.5L688.4,371.9L688.9,372.4L689.4,372.8L689.9,373.2L690.4,373.6L690.9,374.0L691.4,374.4L691.9,374.8L692.4,375.1L692.9,375.5L693.4,375.8L693.9,376.2L694.4,376.5L694.9,376.9L695.4,377.2L695.9,377.6L696.4,377.9L696.9,378.3L697.4,378.6L697.9,379.0L698.4,379.3L698.9,379.7L699.4,380.0L699.9,380.3L700.4,380.6L700.9,380.9L701.4,381.1L701.9,381.4L702.4,381.6L702.9,381.8L703.4,382.0L703.9,382.1L704.4,382.2L704.9,382.2L705.4,382.3L705.9,382.3L706.4,382.2L706.9,382.1L707.4,382.0L707.9,381.9L708.4,381.8L708.9,381.6L709.4,381.4L709.9,381.3L710.4,381.1L710.9,380.9L711.4,380.7L711.9,380.6L712.4,380.5L712.9,380.3L713.4,380.3L713.9,380.2L714.4,380.2L714.9,380.2L715.4,380.3L715.9,380.5L716.4,380.7L716.9,381.0L717.4,381.3L717.9,381.7L718.4,382.2L718.9,382.6L719.4,383.1L719.9,383.6L720.4,384.1L720.9,384.7L721.4,385.2L721.9,385.7L722.4,386.2L722.9,386.7L723.4,387.2L723.9,387.6L724.4,388.1L724.9,388.5L725.4,388.8L725.9,389.2L726.4,389.5L726.9,389.8L727.4,390.0L727.9,390.2L728.4,390.4L728.9,390.5L729.4,390.6L729.9,390.7L730.4,390.7L730.9,390.7L731.4,390.6L731.9,390.5L732.4,390.3L732.9,390.1L733.4,389.8L733.9,389.5L734.4,389.2L734.9,388.8L735.4,388.4L735.9,387.9L736.4,387.4L736.9,386.9L737.4,386.3L737.9,385.8L738.4,385.2L738.9,384.7L739.4,384.2L739.9,383.8L740.4,383.4L740.9,383.0L741.4,382.7L741.9,382.4L742.4,382.0L742.9,381.7L743.4,381.3L743.9,381.0L744.4,380.5L744.9,380.1L745.4,379.5L745.9,378.9L746.4,378.2L746.9,377.4L747.4,376.6L747.9,375.6L748.4,374.5L748.9,373.3L749.4,371.9L749.9,370.5L750.4,369.0L750.9,367.5L751.4,365.9L751.9,364.3L752.4,362.7L752.9,361.1L753.4,359.6L753.9,358.1L754.4,356.6L754.9,355.1L755.4,353.6L755.9,352.2L756.4,350.7L756.9,349.2L757.4,347.8L757.9,346.4L758.4,345.1L758.9,343.8L759.4,342.5L759.9,341.4L760.4,340.3L760.9,339.3L761.4,338.4L761.9,337.6L762.4,336.8L762.9,336.1L763.4,335.4L763.9,334.8L764.4,334.1L764.9,333.5L765.4,332.9L765.9,332.3L766.4,331.8L766.9,331.2L767.4,330.7L767.9,330.2L768.4,329.7L768.9,329.2L769.4,328.7L769.9,328.3L770.4,327.9L770.9,327.5L771.4,327.2L771.9,326.9L772.4,326.7L772.9,326.5L773.4,326.4L773.9,326.3L774.4,326.3L774.9,326.4L775.4,326.5L775.9,326.7L776.4,326.9L776.9,327.2L777.4,327.6L777.9,327.9L778.4,328.4L778.9,328.8L779.4,329.3L779.9,329.9L780.4,330.4L780.9,331.1L781.4,331.7L781.9,332.3L782.4,333.0L782.9,333.8L783.4,334.5L783.9,335.3L784.4,336.1L784.9,336.9L785.4,337.8L785.9,338.6L786.4,339.5L786.9,340.3L787.4,341.2L787.9,342.0L788.4,342.8L788.9,343.5L789.4,344.3L789.9,345.1L790.4,345.8L790.9,346.5L791.4,347.2L791.9,348.0L792.4,348.7L792.9,349.4L793.4,350.1L793.9,350.7L794.4,351.4L794.9,352.1L795.4,352.7L795.9,353.3L796.4,353.9L796.9,354.4L797.4,354.9L797.9,355.4L798.4,355.9L798.9,356.3L799.4,356.6L799.9,356.9L800.4,357.2L800.9,357.5L801.4,357.7L801.9,357.9L802.4,358.1L802.9,358.2L803.4,358.4L803.9,358.4L804.4,358.5L804.9,358.5L805.4,358.5L805.9,358.5L806.4,358.5L806.9,358.4L807.4,358.4L807.9,358.3L808.4,358.1L808.9,358.0L809.4,357.9L809.9,357.7L810.4,357.6L810.6,357.5" stroke="#96500e"/>
<path d="M211.7,467.4L212.2,468.8L212.7,469.7L213.2,470.2L213.7,470.4L214.2,470.3L214.7,469.9L215.2,469.2L215.7,468.4L216.2,467.4L216.7,466.3L217.2,465.1L217.7,463.9L218.2,462.7L218.7,461.5L219.2,460.3L219.7,459.1L220.2,458.0L220.7,457.0L221.2,456.1L221.7,455.3L222.2,454.7L222.7,454.1L223.2,453.6L223.7,453.3L224.2,453.0L224.7,452.9L225.2,452.8L225.7,452.8L226.2,452.8L226.7,453.0L227.2,453.3L227.7,453.6L228.2,454.1L228.7,454.6L229.2,455.0L229.7,455.3L230.2,455.2L230.7,454.6L231.2,453.5L231.7,451.9L232.2,449.7L232.7,446.8L233.2,443.3L233.7,439.4L234.2,435.0L234.7,430.4L235.2,425.7L235.7,420.7L236.2,415.6L236.7,410.5L237.2,405.2L237.7,400.0L238.2,395.2L238.7,390.9L239.2,387.3L239.7,384.1L240.2,381.2L240.7,378.7L241.2,376.3L241.7,374.0L242.2,371.7L242.7,369.2L243.2,366.5L243.7,363.4L244.2,359.9L244.7,355.8L245.2,351.1L245.7,345.8L246.2,340.5L246.7,335.5L247.2,331.4L247.7,328.2L248.2,325.8L248.7,324.0L249.2,322.6L249.7,321.6L250.2,320.9L250.7,320.6L251.2,320.6L251.7,320.9L252.2,321.3L252.7,322.0L253.2,322.8L253.7,323.6L254.2,324.5L254.7,325.3L255.2,326.0L255.7,326.7L256.2,327.2L256.7,327.4L257.2,327.5L257.7,327.3L258.2,327.0L258.7,326.5L259.2,325.9L259.7,325.2L260.2,324.5L260.7,323.7L261.2,323.0L261.7,322.3L262.2,321.6L262.7,321.0L263.2,320.5L263.7,320.1L264.2,319.8L264.7,319.4L265.2,319.2L265.7,319.0L266.2,318.8L266.7,318.6L267.2,318.4L267.7,318.2L268.2,318.0L268.7,317.7L269.2,317.2L269.7,316.7L270.2,316.0L270.7,315.1L271.2,314.1L271.7,312.9L272.2,311.6L272.7,310.2L273.2,308.6L273.7,306.8L274.2,305.0L274.7,303.1L275.2,301.3L275.7,299.5L276.2,297.7L276.7,296.1L277.2,294.6L277.7,293.1L278.2,291.7L278.7,290.2L279.2,288.7L279.7,287.2L280.2,285.8L280.7,284.6L281.2,283.7L281.7,283.2L282.2,283.0L282.7,283.2L283.2,283.7L283.7,284.4L284.2,285.4L284.7,286.6L285.2,287.9L285.7,289.4L286.2,291.0L286.7,292.7L287.2,294.4L287.7,296.1L288.2,297.8L288.7,299.5L289.2,301.2L289.7,302.9L290.2,304.5L290.7,306.0L291.2,307.5L291.7,309.1L292.2,310.9L292.7,313.2L293.2,315.9L293.7,318.9L294.2,321.7L294.7,324.1L295.2,325.9L295.7,327.3L296.2,328.4L296.7,329.3L297.2,330.1L297.7,330.7L298.2,331.2L298.7,331.7L299.2,332.0L299.7,332.3L300.2,332.5L300.7,332.6L301.2,332.6L301.7,332.6L302.2,332.5L302.7,332.3L303.2,332.1L303.7,331.7L304.2,331.2L304.7,330.5L305.2,329.7L305.7,328.6L306.2,327.4L306.7,326.0L307.2,324.5L307.7,322.8L308.2,321.0L308.7,319.1L309.2,317.2L309.7,315.2L310.2,313.1L310.7,311.1L311.2,309.0L311.7,307.0L312.2,305.1L312.7,303.2L313.2,301.3L313.7,299.5L314.2,297.8L314.7,296.1L315.2,294.4L315.7,292.8L316.2,291.3L316.7,289.9L317.2,288.6L317.7,287.4L318.2,286.3L318.7,285.4L319.2,284.6L319.7,283.9L320.2,283.4L320.7,283.1L321.2,282.9L321.7,283.0L322.2,283.3L322.7,283.8L323.2,284.7L323.7,285.7L324.2,286.9L324.7,288.2L325.2,289.6L325.7,291.1L326.2,292.4L326.7,293.7L327.2,295.0L327.7,296.3L328.2,297.5L328.7,298.7L329.2,299.9L329.7,301.1L330.2,302.3L330.7,303.6L331.2,304.8L331.7,306.1L332.2,307.4L332.7,308.6L333.2,309.9L333.7,311.0L334.2,312.2L334.7,313.3L335.2,314.3L335.7,315.2L336.2,316.0L336.7,316.8L337.2,317.6L337.7,318.1L338.2,318.3L338.7,318.0L339.2,316.9L339.7,314.8L340.2,311.7L340.7,307.3L341.2,302.2L341.7,296.9L342.2,292.1L342.7,288.1L343.2,284.7L343.7,281.8L344.2,279.3L344.7,277.0L345.2,274.7L345.7,272.5L346.2,270.2L346.7,268.2L347.2,266.3L347.7,264.8L348.2,263.8L348.7,263.1L349.2,262.7L349.7,262.4L350.2,262.4L350.7,262.6L351.2,262.9L351.7,263.5L352.2,264.2L352.7,265.1L353.2,266.0L353.7,267.1L354.2,268.1L354.7,269.2L355.2,270.4L355.7,271.6L356.2,272.8L356.7,274.1L357.2,275.5L357.7,277.0L358.2,278.6L358.7,280.2L359.2,281.9L359.7,283.7L360.2,285.5L360.7,287.2L361.2,289.0L361.7,290.8L362.2,292.6L362.7,294.3L363.2,296.0L363.7,297.6L364.2,299.1L364.7,300.5L365.2,301.8L365.7,303.2L366.2,304.6L366.7,306.1L367.2,307.9L367.7,310.0L368.2,312.5L368.7,315.4L369.2,318.6L369.7,321.7L370.2,324.5L370.7,326.8L371.2,328.3L371.7,328.9L372.2,328.8L372.7,328.1L373.2,326.9L373.7,325.4L374.2,323.7L374.7,322.0L375.2,320.4L375.7,318.9L376.2,317.7L376.7,316.5L377.2,315.5L377.7,314.5L378.2,313.6L378.7,312.6L379.2,311.7L379.7,310.6L380.2,309.5L380.7,308.2L381.2,306.8L381.7,305.4L382.2,303.8L382.7,302.3L383.2,300.7L383.7,299.1L384.2,297.6L384.7,296.1L385.2,294.7L385.7,293.5L386.2,292.4L386.7,291.5L387.2,290.9L387.7,290.5L388.2,290.4L388.7,290.7L389.2,291.3L389.7,292.3L390.2,293.7L390.7,295.5L391.2,297.7L391.7,300.3L392.2,303.5L392.7,307.0L393.2,310.8L393.7,315.0L394.2,319.4L394.7,323.9L395.2,328.5L395.7,333.1L396.2,337.6L396.7,341.8L397.2,345.7L397.7,349.0L398.2,351.7L398.7,353.7L399.2,355.0L399.7,355.6L400.2,355.7L400.7,355.2L401.2,354.3L401.7,353.0L402.2,351.5L402.7,350.1L403.2,349.0L403.7,348.3L404.2,347.9L404.7,347.7L405.2,347.7L405.7,347.7L406.2,347.6L406.7,347.2L407.2,346.5L407.7,345.3L408.2,343.8L408.7,342.1L409.2,340.2L409.7,338.1L410.2,336.1L410.7,334.0L411.2,332.1L411.7,330.4L412.2,328.9L412.7,327.6L413.2,326.4L413.7,325.5L414.2,324.7L414.7,324.1L415.2,323.7L415.7,323.5L416.2,323.4L416.7,323.5L417.2,323.8L417.7,324.2L418.2,324.8L418.7,325.6L419.2,326.5L419.7,327.7L420.2,329.0L420.7,330.5L421.2,332.1L421.7,333.9L422.2,335.7L422.7,337.6L423.2,339.5L423.7,341.3L424.2,343.0L424.7,344.5L425.2,345.9L425.7,347.0L426.2,347.7L426.7,348.1L427.2,347.9L427.7,347.2L428.2,345.9L428.7,343.9L429.2,341.5L429.7,338.6L430.2,335.4L430.7,331.9L431.2,328.2L431.7,324.4L432.2,320.7L432.7,317.0L433.2,313.4L433.7,309.9L434.2,306.6L434.7,303.3L435.2,300.3L435.7,297.5L436.2,294.8L436.7,292.4L437.2,290.2L437.7,288.4L438.2,286.8L438.7,285.6L439.2,284.7L439.7,284.2L440.2,284.2L440.7,284.6L441.2,285.3L441.7,286.4L442.2,287.8L442.7,289.4L443.2,291.2L443.7,293.2L444.2,295.3L444.7,297.5L445.2,299.9L445.7,302.3L446.2,304.9L446.7,307.6L447.2,310.4L447.7,313.3L448.2,316.3L448.7,319.3L449.2,322.1L449.7,324.7L450.2,326.9L450.7,328.6L451.2,329.8L451.7,330.1L452.2,329.7L452.7,328.5L453.2,326.6L453.7,324.2L454.2,321.5L454.7,318.7L455.2,315.8L455.7,313.1L456.2,310.7L456.7,308.6L457.2,307.0L457.7,305.8L458.2,305.0L458.7,304.6L459.2,304.6L459.7,305.0L460.2,305.8L460.7,306.8L461.2,308.1L461.7,309.5L462.2,310.9L462.7,312.4L463.2,313.9L463.7,315.4L464.2,316.8L464.7,318.0L465.2,319.2L465.7,320.1L466.2,320.8L466.7,321.3L467.2,321.6L467.7,321.5L468.2,321.2L468.7,320.5L469.2,319.4L469.7,318.1L470.2,316.5L470.7,314.8L471.2,313.0L471.7,311.1L472.2,309.1L472.7,307.3L473.2,305.6L473.7,304.0L474.2,302.6L474.7,301.3L475.2,300.2L475.7,299.3L476.2,298.6L476.7,298.0L477.2,297.7L477.7,297.7L478.2,297.9L478.7,298.3L479.2,298.9L479.7,299.7L480.2,300.6L480.7,301.6L481.2,302.8L481.7,304.0L482.2,305.2L482.7,306.4L483.2,307.7L483.7,309.0L484.2,310.5L484.7,312.2L485.2,314.2L485.7,316.4L486.2,319.0L486.7,321.9L487.2,324.6L487.7,326.6L488.2,327.2L488.7,325.6L489.2,321.5L489.7,315.7L490.2,310.1L490.7,305.4L491.2,301.6L491.7,298.3L492.2,295.1L492.7,292.0L493.2,289.0L493.7,286.1L494.2,283.4L494.7,280.9L495.2,278.7L495.7,276.8L496.2,275.3L496.7,274.1L497.2,273.3L497.7,272.8L498.2,272.6L498.7,272.7L499.2,273.1L499.7,273.8L500.2,274.7L500.7,275.9L501.2,277.4L501.7,279.1L502.2,280.9L502.7,282.8L503.2,284.7L503.7,286.7L504.2,288.6L504.7,290.6L505.2,292.6L505.7,294.8L506.2,297.0L506.7,299.3L507.2,301.6L507.7,303.8L508.2,306.0L508.7,308.0L509.2,309.7L509.7,310.9L510.2,311.5L510.7,311.6L511.2,311.0L511.7,310.0L512.2,308.6L512.7,307.0L513.2,305.2L513.7,303.3L514.2,301.4L514.7,299.8L515.2,298.3L515.7,297.0L516.2,296.0L516.7,295.3L517.2,294.9L517.7,294.8L518.2,295.0L518.7,295.6L519.2,296.6L519.7,297.9L520.2,299.4L520.7,301.1L521.2,303.0L521.7,304.9L522.2,306.9L522.7,309.1L523.2,311.4L523.7,314.1L524.2,317.1L524.7,320.3L525.2,323.6L525.7,326.8L526.2,330.0L526.7,333.1L527.2,336.0L527.7,338.7L528.2,341.2L528.7,343.3L529.2,345.0L529.7,346.2L530.2,346.8L530.7,346.7L531.2,345.7L531.7,344.2L532.2,342.1L532.7,339.6L533.2,336.8L533.7,333.8L534.2,330.8L534.7,327.8L535.2,325.0L535.7,322.3L536.2,319.7L536.7,317.2L537.2,314.8L537.7,312.5L538.2,310.4L538.7,308.4L539.2,306.6L539.7,304.9L540.2,303.5L540.7,302.3L541.2,301.4L541.7,300.9L542.2,300.7L542.7,300.9L543.2,301.6L543.7,302.6L544.2,303.9L544.7,305.4L545.2,307.1L545.7,308.9L546.2,310.7L546.7,312.5L547.2,314.2L547.7,315.8L548.2,317.3L548.7,318.6L549.2,319.6L549.7,320.4L550.2,320.9L550.7,321.0L551.2,320.9L551.7,320.6L552.2,320.2L552.7,319.7L553.2,319.3L553.7,318.9L554.2,318.6L554.7,318.5L555.2,318.6L555.7,318.8L556.2,319.2L556.7,319.8L557.2,320.6L557.7,321.5L558.2,322.5L558.7,323.7L559.2,325.0L559.7,326.3L560.2,327.6L560.7,328.8L561.2,329.8L561.7,330.6L562.2,331.0L562.7,331.1L563.2,330.8L563.7,330.2L564.2,329.4L564.7,328.3L565.2,327.2L565.7,326.0L566.2,324.8L566.7,323.7L567.2,322.8L567.7,322.0L568.2,321.4L568.7,321.0L569.2,320.7L569.7,320.7L570.2,320.8L570.7,321.1L571.2,321.6L571.7,322.2L572.2,322.8L572.7,323.4L573.2,324.0L573.7,324.6L574.2,325.1L574.7,325.5L575.2,325.8L575.7,326.1L576.2,326.4L576.7,326.8L577.2,327.2L577.7,327.7L578.2,328.3L578.7,329.1L579.2,330.1L579.7,331.3L580.2,332.7L580.7,334.3L581.2,336.0L581.7,337.9L582.2,339.9L582.7,341.9L583.2,344.0L583.7,346.1L584.2,348.3L584.7,350.4L585.2,352.4L585.7,354.3L586.2,356.1L586.7,357.7L587.2,359.0L587.7,360.2L588.2,361.0L588.7,361.5L589.2,361.6L589.7,361.4L590.2,360.9L590.7,360.0L591.2,358.8L591.7,357.2L592.2,355.3L592.7,353.1L593.2,350.7L593.7,348.1L594.2,345.4L594.7,342.7L595.2,339.9L595.7,337.3L596.2,334.7L596.7,332.3L597.2,330.1L597.7,328.2L598.2,326.4L598.7,325.0L599.2,323.9L599.7,323.1L600.2,322.7L600.7,322.7L601.2,323.0L601.7,323.7L602.2,324.8L602.7,326.2L603.2,327.8L603.7,329.8L604.2,332.1L604.7,334.6L605.2,337.3L605.7,340.1L606.2,343.0L606.7,345.9L607.2,348.7L607.7,351.4L608.2,353.8L608.7,356.0L609.2,357.8L609.7,359.3L610.2,360.4L610.7,361.1L611.2,361.5L611.7,361.6L612.2,361.4L612.7,360.8L613.2,360.0L613.7,359.0L614.2,357.8L614.7,356.4L615.2,354.8L615.7,353.1L616.2,351.4L616.7,349.6L617.2,347.7L617.7,345.8L618.2,343.9L618.7,342.0L619.2,340.1L619.7,338.3L620.2,336.5L620.7,334.8L621.2,333.2L621.7,331.7L622.2,330.3L622.7,329.0L623.2,327.8L623.7,326.7L624.2,325.7L624.7,324.8L625.2,323.9L625.7,323.1L626.2,322.4L626.7,321.8L627.2,321.2L627.7,320.8L628.2,320.4L628.7,320.2L629.2,320.3L629.7,320.5L630.2,321.0L630.7,321.8L631.2,322.6L631.7,323.5L632.2,324.2L632.7,324.7L633.2,324.9L633.7,324.7L634.2,324.2L634.7,323.4L635.2,322.5L635.7,321.5L636.2,320.5L636.7,319.5L637.2,318.6L637.7,317.9L638.2,317.4L638.7,317.0L639.2,316.7L639.7,316.6L640.2,316.5L640.7,316.5L641.2,316.5L641.7,316.5L642.2,316.6L642.7,316.7L643.2,316.8L643.7,317.0L644.2,317.3L644.7,317.7L645.2,318.2L645.7,318.8L646.2,319.6L646.7,320.5L647.2,321.5L647.7,322.6L648.2,323.8L648.7,325.1L649.2,326.5L649.7,328.0L650.2,329.5L650.7,331.1L651.2,332.7L651.7,334.3L652.2,335.8L652.7,337.3L653.2,338.7L653.7,340.1L654.2,341.2L654.7,342.3L655.2,343.2L655.7,344.0L656.2,344.7L656.7,345.2L657.2,345.7L657.7,346.1L658.2,346.4L658.7,346.6L659.2,346.7L659.7,346.8L660.2,346.8L660.7,346.7L661.2,346.7L661.7,346.6L662.2,346.5L662.7,346.4L663.2,346.3L663.7,346.3L664.2,346.4L664.7,346.5L665.2,346.7L665.7,347.0L666.2,347.4L666.7,347.9L667.2,348.5L667.7,349.1L668.2,349.8L668.7,350.6L669.2,351.4L669.7,352.3L670.2,353.1L670.7,354.0L671.2,354.9L671.7,355.9L672.2,356.8L672.7,357.7L673.2,358.7L673.7,359.6L674.2,360.6L674.7,361.5L675.2,362.4L675.7,363.3L676.2,364.2L676.7,365.0L677.2,365.8L677.7,366.5L678.2,367.0L678.7,367.5L679.2,367.9L679.7,368.1L680.2,368.1L680.7,367.9L681.2,367.5L681.7,366.9L682.2,366.1L682.7,365.2L683.2,364.2L683.7,363.2L684.2,362.2L684.7,361.2L685.2,360.3L685.7,359.6L686.2,359.0L686.7,358.5L687.2,358.2L687.7,358.1L688.2,358.2L688.7,358.5L689.2,358.9L689.7,359.5L690.2,360.2L690.7,360.9L691.2,361.7L691.7,362.4L692.2,363.1L692.7,363.7L693.2,364.2L693.7,364.6L694.2,364.9L694.7,365.2L695.2,365.5L695.7,365.8L696.2,366.1L696.7,366.4L697.2,366.8L697.7,367.3L698.2,367.9L698.7,368.7L699.2,369.6L699.7,370.7L700.2,371.9L700.7,373.2L701.2,374.5L701.7,375.8L702.2,376.9L702.7,378.0L703.2,378.8L703.7,379.5L704.2,380.1L704.7,380.5L705.2,380.7L705.7,380.7L706.2,380.5L706.7,380.2L707.2,379.8L707.7,379.3L708.2,378.7L708.7,378.0L709.2,377.3L709.7,376.5L710.2,375.8L710.7,375.1L711.2,374.5L711.7,373.9L712.2,373.5L712.7,373.2L713.2,373.0L713.7,373.1L714.2,373.4L714.7,373.8L715.2,374.5L715.7,375.2L716.2,376.1L716.7,377.1L717.2,378.1L717.7,379.2L718.2,380.4L718.7,381.7L719.2,383.2L719.7,384.7L720.2,386.3L720.7,388.0L721.2,389.6L721.7,391.3L722.2,392.8L722.7,394.2L723.2,395.5L723.7,396.7L724.2,397.7L724.7,398.6L725.2,399.4L725.7,400.1L726.2,400.7L726.7,401.3L727.2,401.8L727.7,402.1L728.2,402.4L728.7,402.7L729.2,402.8L729.7,402.8L730.2,402.7L730.7,402.5L731.2,402.2L731.7,401.7L732.2,401.1L732.7,400.3L733.2,399.2L733.7,398.0L734.2,396.7L734.7,395.2L735.2,393.7L735.7,392.2L736.2,390.8L736.7,389.5L737.2,388.4L737.7,387.4L738.2,386.5L738.7,385.7L739.2,385.1L739.7,384.7L740.2,384.5L740.7,384.8L741.2,385.5L741.7,386.6L742.2,387.9L742.7,389.3L743.2,390.7L743.7,392.1L744.2,393.5L744.7,394.8L745.2,396.0L745.7,397.1L746.2,398.1L746.7,398.9L747.2,399.6L747.7,400.2L748.2,400.6L748.7,400.8L749.2,400.9L749.7,400.7L750.2,400.2L750.7,399.4L751.2,398.3L751.7,396.9L752.2,395.2L752.7,393.1L753.2,390.8L753.7,388.4L754.2,386.0L754.7,383.5L755.2,381.2L755.7,378.9L756.2,376.7L756.7,374.6L757.2,372.6L757.7,370.9L758.2,369.9L758.7,369.8L759.2,370.0L759.7,369.9L760.2,369.3L760.7,368.4L761.2,367.3L761.7,366.1L762.2,365.0L762.7,364.1L763.2,363.4L763.7,363.0L764.2,362.8L764.7,362.7L765.2,362.7L765.7,362.8L766.2,362.8L766.7,363.0L767.2,363.1L767.7,363.2L768.2,363.3L768.7,363.5L769.2,363.6L769.7,363.7L770.2,363.7L770.7,363.6L771.2,363.3L771.7,362.8L772.2,362.0L772.7,361.0L773.2,359.7L773.7,358.4L774.2,357.1L774.7,355.8L775.2,354.6L775.7,353.5L776.2,352.6L776.7,351.8L777.2,351.1L777.7,350.5L778.2,349.9L778.7,349.4L779.2,349.0L779.7,348.8L780.2,348.8L780.7,349.0L781.2,349.5L781.7,350.1L782.2,351.0L782.7,352.1L783.2,353.3L783.7,354.6L784.2,356.1L784.7,357.6L785.2,359.1L785.7,360.7L786.2,362.3L786.7,363.8L787.2,365.3L787.7,366.7L788.2,368.1L788.7,369.4L789.2,370.7L789.7,372.0L790.2,373.3L790.7,374.5L791.2,375.6L791.7,376.6L792.2,377.6L792.7,378.4L793.2,379.1L793.7,379.7L794.2,380.3L794.7,380.7L795.2,381.1L795.7,381.4L796.2,381.7L796.7,382.0L797.2,382.3L797.7,382.6L798.2,382.9L798.7,383.2L799.2,383.6L799.7,383.9L800.2,384.2L800.7,384.6L801.2,384.9L801.7,385.2L802.2,385.5L802.7,385.7L803.2,385.9L803.7,386.1L804.2,386.2L804.7,386.3L805.2,386.2L805.7,386.1L806.2,385.8L806.7,385.5L807.2,385.1L807.7,384.7L808.2,384.3L808.7,383.9L809.2,383.5L809.7,383.1L810.2,382.8L810.6,382.5" stroke="#128486"/>
<path d="M211.3,471.6L211.8,472.8L212.3,473.9L212.8,474.9L213.3,475.9L213.8,476.8L214.3,477.7L214.8,478.4L215.3,479.1L215.8,479.8L216.3,480.3L216.8,480.8L217.3,481.3L217.8,481.6L218.3,481.9L218.8,482.1L219.3,482.3L219.8,482.4L220.3,482.5L220.8,482.5L221.3,482.6L221.8,482.6L222.3,482.7L222.8,482.8L223.3,483.0L223.8,483.3L224.3,483.6L224.8,484.1L225.3,484.6L225.8,485.2L226.3,485.8L226.8,486.3L227.3,486.6L227.8,486.8L228.3,486.6L228.8,486.1L229.3,485.1L229.8,483.6L230.3,481.6L230.8,478.9L231.3,475.6L231.8,471.7L232.3,467.2L232.8,462.4L233.3,457.1L233.8,451.4L234.3,445.6L234.8,439.7L235.3,433.8L235.8,428.1L236.3,422.6L236.8,417.5L237.3,412.5L237.8,407.7L238.3,402.9L238.8,398.1L239.3,393.3L239.8,388.5L240.3,383.7L240.8,378.9L241.3,374.2L241.8,369.6L242.3,365.2L242.8,360.9L243.3,356.7L243.8,352.8L244.3,349.1L244.8,345.6L245.3,342.3L245.8,339.1L246.3,336.2L246.8,333.4L247.3,331.0L247.8,328.8L248.3,327.0L248.8,325.7L249.3,324.7L249.8,324.0L250.3,323.7L250.8,323.7L251.3,323.9L251.8,324.4L252.3,325.0L252.8,325.8L253.3,326.6L253.8,327.5L254.3,328.4L254.8,329.3L255.3,330.2L255.8,331.0L256.3,331.7L256.8,332.4L257.3,332.9L257.8,333.2L258.3,333.3L258.8,333.1L259.3,332.5L259.8,331.7L260.3,330.7L260.8,329.7L261.3,328.7L261.8,328.0L262.3,327.5L262.8,327.1L263.3,326.8L263.8,326.6L264.3,326.5L264.8,326.3L265.3,326.2L265.8,326.0L266.3,325.7L266.8,325.4L267.3,325.1L267.8,324.7L268.3,324.2L268.8,323.7L269.3,323.2L269.8,322.6L270.3,321.9L270.8,321.0L271.3,320.1L271.8,319.0L272.3,317.8L272.8,316.4L273.3,314.9L273.8,313.3L274.3,311.5L274.8,309.7L275.3,307.7L275.8,305.8L276.3,303.7L276.8,301.7L277.3,299.7L277.8,297.7L278.3,295.7L278.8,293.8L279.3,292.1L279.8,290.4L280.3,289.0L280.8,287.6L281.3,286.5L281.8,285.7L282.3,285.0L282.8,284.7L283.3,284.6L283.8,284.9L284.3,285.5L284.8,286.5L285.3,287.9L285.8,289.7L286.3,291.7L286.8,293.9L287.3,296.0L287.8,298.0L288.3,299.9L288.8,301.6L289.3,303.3L289.8,305.0L290.3,306.8L290.8,308.8L291.3,311.0L291.8,313.3L292.3,315.6L292.8,317.7L293.3,319.7L293.8,321.3L294.3,322.4L294.8,323.2L295.3,323.6L295.8,323.8L296.3,323.9L296.8,323.8L297.3,323.8L297.8,323.8L298.3,323.8L298.8,324.0L299.3,324.1L299.8,324.4L300.3,324.6L300.8,324.8L301.3,325.0L301.8,325.2L302.3,325.3L302.8,325.4L303.3,325.5L303.8,325.7L304.3,325.9L304.8,326.1L305.3,326.4L305.8,326.8L306.3,327.2L306.8,327.7L307.3,328.3L307.8,328.8L308.3,329.4L308.8,330.0L309.3,330.6L309.8,331.1L310.3,331.6L310.8,331.9L311.3,332.0L311.8,331.9L312.3,331.6L312.8,331.0L313.3,330.2L313.8,329.3L314.3,328.1L314.8,326.9L315.3,325.5L315.8,324.1L316.3,322.7L316.8,321.1L317.3,319.5L317.8,317.9L318.3,316.3L318.8,314.8L319.3,313.6L319.8,312.7L320.3,312.4L320.8,312.5L321.3,313.0L321.8,313.8L322.3,314.6L322.8,315.4L323.3,316.2L323.8,317.0L324.3,317.8L324.8,318.9L325.3,320.1L325.8,321.6L326.3,323.5L326.8,325.7L327.3,328.1L327.8,330.5L328.3,332.8L328.8,334.9L329.3,336.8L329.8,338.5L330.3,340.1L330.8,341.5L331.3,342.8L331.8,343.9L332.3,344.9L332.8,345.8L333.3,346.6L333.8,347.3L334.3,347.8L334.8,348.2L335.3,348.5L335.8,348.5L336.3,348.4L336.8,348.0L337.3,347.2L337.8,346.0L338.3,344.3L338.8,342.0L339.3,338.9L339.8,335.0L340.3,330.3L340.8,325.0L341.3,319.4L341.8,313.5L342.3,307.8L342.8,302.3L343.3,297.4L343.8,293.1L344.3,289.5L344.8,286.4L345.3,283.6L345.8,281.2L346.3,279.0L346.8,276.9L347.3,275.1L347.8,273.5L348.3,272.0L348.8,270.9L349.3,269.9L349.8,269.2L350.3,268.7L350.8,268.3L351.3,268.1L351.8,268.1L352.3,268.1L352.8,268.4L353.3,268.7L353.8,269.2L354.3,269.9L354.8,270.8L355.3,271.8L355.8,272.9L356.3,274.2L356.8,275.6L357.3,277.0L357.8,278.5L358.3,280.1L358.8,281.8L359.3,283.5L359.8,285.2L360.3,287.0L360.8,288.8L361.3,290.6L361.8,292.4L362.3,294.2L362.8,296.0L363.3,297.9L363.8,299.7L364.3,301.6L364.8,303.5L365.3,305.4L365.8,307.2L366.3,308.9L366.8,310.5L367.3,312.0L367.8,313.2L368.3,314.3L368.8,315.4L369.3,316.7L369.8,318.2L370.3,319.9L370.8,321.6L371.3,323.4L371.8,325.2L372.3,326.9L372.8,328.4L373.3,329.7L373.8,330.8L374.3,331.7L374.8,332.4L375.3,333.0L375.8,333.4L376.3,333.7L376.8,333.9L377.3,334.0L377.8,334.0L378.3,333.8L378.8,333.5L379.3,333.0L379.8,332.2L380.3,331.2L380.8,329.9L381.3,328.4L381.8,326.7L382.3,324.8L382.8,322.8L383.3,320.7L383.8,318.5L384.3,316.4L384.8,314.3L385.3,312.2L385.8,310.4L386.3,308.7L386.8,307.2L387.3,306.1L387.8,305.4L388.3,305.0L388.8,305.2L389.3,305.7L389.8,306.8L390.3,308.3L390.8,310.2L391.3,312.6L391.8,315.4L392.3,318.6L392.8,322.2L393.3,325.9L393.8,329.8L394.3,333.6L394.8,337.4L395.3,341.0L395.8,344.3L396.3,347.4L396.8,350.3L397.3,352.8L397.8,355.1L398.3,357.0L398.8,358.6L399.3,359.7L399.8,360.3L400.3,360.3L400.8,359.5L401.3,358.3L401.8,356.8L402.3,355.1L402.8,353.4L403.3,352.0L403.8,350.8L404.3,350.0L404.8,349.4L405.3,349.1L405.8,348.9L406.3,348.8L406.8,348.8L407.3,348.9L407.8,348.9L408.3,348.9L408.8,348.9L409.3,348.8L409.8,348.7L410.3,348.4L410.8,348.1L411.3,347.7L411.8,347.2L412.3,346.6L412.8,345.9L413.3,345.2L413.8,344.4L414.3,343.5L414.8,342.6L415.3,341.7L415.8,340.8L416.3,340.0L416.8,339.2L417.3,338.5L417.8,337.9L418.3,337.5L418.8,337.4L419.3,337.4L419.8,337.8L420.3,338.3L420.8,339.0L421.3,339.9L421.8,340.8L422.3,341.8L422.8,342.8L423.3,343.8L423.8,344.7L424.3,345.6L424.8,346.3L425.3,347.0L425.8,347.5L426.3,347.9L426.8,348.0L427.3,348.0L427.8,347.7L428.3,347.1L428.8,346.3L429.3,345.0L429.8,343.3L430.3,341.3L430.8,338.8L431.3,336.0L431.8,332.9L432.3,329.7L432.8,326.4L433.3,323.1L433.8,319.9L434.3,316.8L434.8,313.9L435.3,311.2L435.8,308.7L436.3,306.4L436.8,304.3L437.3,302.3L437.8,300.5L438.3,298.9L438.8,297.4L439.3,296.1L439.8,295.1L440.3,294.3L440.8,293.7L441.3,293.5L441.8,293.7L442.3,294.2L442.8,295.1L443.3,296.3L443.8,297.8L444.3,299.6L444.8,301.7L445.3,304.1L445.8,306.7L446.3,309.5L446.8,312.3L447.3,315.3L447.8,318.2L448.3,321.1L448.8,323.9L449.3,326.6L449.8,329.1L450.3,331.2L450.8,332.9L451.3,334.1L451.8,334.6L452.3,334.5L452.8,333.8L453.3,332.5L453.8,330.9L454.3,329.0L454.8,326.9L455.3,324.8L455.8,322.8L456.3,321.0L456.8,319.4L457.3,318.1L457.8,317.0L458.3,316.1L458.8,315.4L459.3,314.9L459.8,314.6L460.3,314.4L460.8,314.4L461.3,314.4L461.8,314.6L462.3,314.8L462.8,315.2L463.3,315.5L463.8,316.0L464.3,316.4L464.8,316.9L465.3,317.3L465.8,317.7L466.3,318.1L466.8,318.4L467.3,318.5L467.8,318.5L468.3,318.4L468.8,318.0L469.3,317.5L469.8,316.7L470.3,315.7L470.8,314.6L471.3,313.3L471.8,311.9L472.3,310.5L472.8,309.1L473.3,307.8L473.8,306.4L474.3,305.1L474.8,304.0L475.3,302.9L475.8,301.9L476.3,301.1L476.8,300.5L477.3,300.1L477.8,299.8L478.3,299.9L478.8,300.1L479.3,300.6L479.8,301.2L480.3,302.1L480.8,303.2L481.3,304.5L481.8,305.9L482.3,307.6L482.8,309.3L483.3,311.2L483.8,313.2L484.3,315.2L484.8,317.3L485.3,319.3L485.8,321.3L486.3,323.2L486.8,324.9L487.3,326.3L487.8,327.4L488.3,328.0L488.8,328.0L489.3,327.4L489.8,326.2L490.3,324.4L490.8,322.2L491.3,319.6L491.8,316.6L492.3,313.3L492.8,309.9L493.3,306.3L493.8,302.8L494.3,299.3L494.8,295.9L495.3,292.8L495.8,290.1L496.3,287.7L496.8,285.8L497.3,284.3L497.8,283.2L498.3,282.5L498.8,282.1L499.3,282.1L499.8,282.4L500.3,283.0L500.8,284.0L501.3,285.2L501.8,286.7L502.3,288.4L502.8,290.4L503.3,292.5L503.8,294.9L504.3,297.3L504.8,299.9L505.3,302.5L505.8,305.2L506.3,307.9L506.8,310.5L507.3,313.1L507.8,315.6L508.3,317.8L508.8,319.8L509.3,321.5L509.8,322.8L510.3,323.8L510.8,324.2L511.3,324.3L511.8,323.9L512.3,323.3L512.8,322.3L513.3,321.1L513.8,319.8L514.3,318.3L514.8,316.7L515.3,315.1L515.8,313.5L516.3,311.9L516.8,310.4L517.3,309.0L517.8,307.8L518.3,306.9L518.8,306.2L519.3,305.8L519.8,305.8L520.3,306.3L520.8,307.2L521.3,308.6L521.8,310.5L522.3,312.8L522.8,315.4L523.3,318.2L523.8,321.1L524.3,324.2L524.8,327.3L525.3,330.5L525.8,333.6L526.3,336.7L526.8,339.7L527.3,342.7L527.8,345.5L528.3,348.1L528.8,350.5L529.3,352.5L529.8,354.2L530.3,355.4L530.8,356.1L531.3,356.1L531.8,355.5L532.3,354.4L532.8,352.7L533.3,350.5L533.8,348.0L534.3,345.2L534.8,342.2L535.3,339.0L535.8,335.6L536.3,332.3L536.8,328.9L537.3,325.5L537.8,322.2L538.3,318.9L538.8,315.8L539.3,312.7L539.8,309.9L540.3,307.3L540.8,304.9L541.3,302.7L541.8,300.9L542.3,299.5L542.8,298.5L543.3,297.9L543.8,297.8L544.3,298.1L544.8,298.9L545.3,300.0L545.8,301.5L546.3,303.1L546.8,304.8L547.3,306.6L547.8,308.4L548.3,310.2L548.8,311.9L549.3,313.5L549.8,315.0L550.3,316.2L550.8,317.2L551.3,317.9L551.8,318.4L552.3,318.6L552.8,318.8L553.3,318.8L553.8,318.9L554.3,319.0L554.8,319.3L555.3,319.8L555.8,320.5L556.3,321.4L556.8,322.5L557.3,323.8L557.8,325.2L558.3,326.7L558.8,328.2L559.3,329.8L559.8,331.4L560.3,333.0L560.8,334.6L561.3,336.0L561.8,337.3L562.3,338.5L562.8,339.5L563.3,340.2L563.8,340.7L564.3,341.0L564.8,341.1L565.3,341.0L565.8,340.8L566.3,340.7L566.8,340.5L567.3,340.5L567.8,340.5L568.3,340.8L568.8,341.2L569.3,341.7L569.8,342.2L570.3,342.8L570.8,343.2L571.3,343.6L571.8,343.9L572.3,343.9L572.8,343.7L573.3,343.3L573.8,342.6L574.3,341.7L574.8,340.7L575.3,339.7L575.8,338.7L576.3,337.8L576.8,337.0L577.3,336.5L577.8,336.3L578.3,336.4L578.8,336.9L579.3,337.8L579.8,338.9L580.3,340.3L580.8,341.8L581.3,343.4L581.8,345.0L582.3,346.7L582.8,348.3L583.3,349.8L583.8,351.2L584.3,352.6L584.8,353.9L585.3,355.2L585.8,356.4L586.3,357.6L586.8,358.7L587.3,359.8L587.8,360.9L588.3,361.9L588.8,362.7L589.3,363.3L589.8,363.6L590.3,363.4L590.8,362.8L591.3,361.8L591.8,360.4L592.3,358.7L592.8,356.9L593.3,355.0L593.8,353.1L594.3,351.2L594.8,349.4L595.3,347.7L595.8,346.1L596.3,344.6L596.8,343.2L597.3,342.0L597.8,340.9L598.3,340.0L598.8,339.2L599.3,338.7L599.8,338.5L600.3,338.6L600.8,339.0L601.3,339.8L601.8,341.0L602.3,342.6L602.8,344.4L603.3,346.5L603.8,348.8L604.3,351.2L604.8,353.8L605.3,356.4L605.8,359.1L606.3,361.8L606.8,364.5L607.3,367.3L607.8,370.0L608.3,372.5L608.8,374.9L609.3,377.0L609.8,378.8L610.3,380.3L610.8,381.4L611.3,382.2L611.8,382.7L612.3,382.9L612.8,382.7L613.3,382.1L613.8,381.3L614.3,380.1L614.8,378.8L615.3,377.2L615.8,375.5L616.3,373.7L616.8,371.9L617.3,370.1L617.8,368.3L618.3,366.5L618.8,364.9L619.3,363.2L619.8,361.6L620.3,360.1L620.8,358.5L621.3,357.0L621.8,355.5L622.3,353.9L622.8,352.4L623.3,350.9L623.8,349.5L624.3,348.1L624.8,346.8L625.3,345.6L625.8,344.6L626.3,343.7L626.8,343.1L627.3,342.7L627.8,342.6L628.3,342.8L628.8,343.2L629.3,343.9L629.8,344.7L630.3,345.5L630.8,346.5L631.3,347.4L631.8,348.3L632.3,349.2L632.8,349.9L633.3,350.5L633.8,350.8L634.3,351.0L634.8,350.9L635.3,350.7L635.8,350.4L636.3,350.0L636.8,349.6L637.3,349.2L637.8,349.0L638.3,348.9L638.8,348.9L639.3,349.2L639.8,349.5L640.3,349.9L640.8,350.3L641.3,350.7L641.8,351.1L642.3,351.3L642.8,351.4L643.3,351.4L643.8,351.3L644.3,351.2L644.8,351.0L645.3,350.9L645.8,350.8L646.3,350.9L646.8,351.0L647.3,351.4L647.8,351.9L648.3,352.4L648.8,353.1L649.3,353.9L649.8,354.6L650.3,355.4L650.8,356.2L651.3,356.9L651.8,357.6L652.3,358.2L652.8,358.7L653.3,359.1L653.8,359.3L654.3,359.3L654.8,359.2L655.3,358.9L655.8,358.5L656.3,358.1L656.8,357.6L657.3,357.2L657.8,356.8L658.3,356.4L658.8,356.2L659.3,356.2L659.8,356.3L660.3,356.5L660.8,356.8L661.3,357.2L661.8,357.7L662.3,358.2L662.8,358.8L663.3,359.3L663.8,359.8L664.3,360.2L664.8,360.7L665.3,361.0L665.8,361.4L666.3,361.7L666.8,362.0L667.3,362.3L667.8,362.6L668.3,362.9L668.8,363.1L669.3,363.3L669.8,363.6L670.3,363.8L670.8,364.0L671.3,364.3L671.8,364.5L672.3,364.8L672.8,365.1L673.3,365.4L673.8,365.8L674.3,366.2L674.8,366.6L675.3,367.1L675.8,367.6L676.3,368.2L676.8,368.9L677.3,369.5L677.8,370.1L678.3,370.7L678.8,371.2L679.3,371.6L679.8,371.9L680.3,372.0L680.8,371.9L681.3,371.6L681.8,371.2L682.3,370.5L682.8,369.8L683.3,368.9L683.8,368.0L684.3,367.1L684.8,366.2L685.3,365.4L685.8,364.7L686.3,364.1L686.8,363.7L687.3,363.4L687.8,363.3L688.3,363.5L688.8,363.8L689.3,364.4L689.8,365.1L690.3,365.9L690.8,366.9L691.3,367.9L691.8,368.9L692.3,369.9L692.8,370.9L693.3,371.8L693.8,372.5L694.3,373.1L694.8,373.6L695.3,374.1L695.8,374.5L696.3,374.9L696.8,375.4L697.3,375.9L697.8,376.6L698.3,377.5L698.8,378.5L699.3,379.5L699.8,380.6L700.3,381.7L700.8,382.8L701.3,383.8L701.8,384.7L702.3,385.5L702.8,386.3L703.3,386.9L703.8,387.5L704.3,388.0L704.8,388.4L705.3,388.7L705.8,389.0L706.3,389.1L706.8,389.0L707.3,388.9L707.8,388.6L708.3,388.1L708.8,387.5L709.3,386.9L709.8,386.2L710.3,385.5L710.8,384.8L711.3,384.2L711.8,383.6L712.3,383.1L712.8,382.6L713.3,382.2L713.8,381.9L714.3,381.6L714.8,381.4L715.3,381.3L715.8,381.3L716.3,381.5L716.8,381.8L717.3,382.3L717.8,383.0L718.3,383.9L718.8,385.0L719.3,386.5L719.8,388.1L720.3,389.9L720.8,391.8L721.3,393.8L721.8,395.7L722.3,397.7L722.8,399.5L723.3,401.3L723.8,403.0L724.3,404.6L724.8,406.1L725.3,407.5L725.8,408.7L726.3,409.9L726.8,411.0L727.3,412.0L727.8,413.0L728.3,414.0L728.8,414.9L729.3,415.8L729.8,416.6L730.3,417.2L730.8,417.7L731.3,418.0L731.8,418.2L732.3,418.2L732.8,418.0L733.3,417.6L733.8,417.0L734.3,416.3L734.8,415.4L735.3,414.5L735.8,413.5L736.3,412.4L736.8,411.4L737.3,410.3L737.8,409.4L738.3,408.5L738.8,407.8L739.3,407.3L739.8,407.0L740.3,406.9L740.8,407.1L741.3,407.6L741.8,408.5L742.3,409.8L742.8,411.4L743.3,413.2L743.8,415.1L744.3,417.1L744.8,418.9L745.3,420.5L745.8,422.1L746.3,423.5L746.8,424.7L747.3,425.8L747.8,426.8L748.3,427.6L748.8,428.2L749.3,428.7L749.8,429.0L750.3,429.1L750.8,429.0L751.3,428.7L751.8,428.3L752.3,427.7L752.8,426.9L753.3,426.0L753.8,425.0L754.3,423.9L754.8,422.7L755.3,421.6L755.8,420.4L756.3,419.4L756.8,418.3L757.3,417.5L757.8,416.7L758.3,416.1L758.8,415.8L759.3,415.6L759.8,415.7L760.3,416.0L760.8,416.6L761.3,417.2L761.8,417.9L762.3,418.7L762.8,419.5L763.3,420.4L763.8,421.2L764.3,422.0L764.8,422.8L765.3,423.5L765.8,424.1L766.3,424.7L766.8,425.0L767.3,425.1L767.8,424.8L768.3,424.3L768.8,423.5L769.3,422.3L769.8,420.8L770.3,419.0L770.8,417.0L771.3,414.7L771.8,412.4L772.3,409.9L772.8,407.5L773.3,405.1L773.8,402.8L774.3,400.6L774.8,398.4L775.3,396.4L775.8,394.5L776.3,392.7L776.8,391.1L777.3,389.6L777.8,388.3L778.3,387.2L778.8,386.2L779.3,385.5L779.8,385.0L780.3,384.6L780.8,384.4L781.3,384.4L781.8,384.5L782.3,384.8L782.8,385.3L783.3,386.0L783.8,386.9L784.3,388.0L784.8,389.4L785.3,390.9L785.8,392.6L786.3,394.4L786.8,396.4L787.3,398.3L787.8,400.3L788.3,402.3L788.8,404.2L789.3,405.9L789.8,407.4L790.3,408.7L790.8,409.9L791.3,410.9L791.8,411.8L792.3,412.7L792.8,413.5L793.3,414.4L793.8,415.1L794.3,415.9L794.8,416.6L795.3,417.4L795.8,418.1L796.3,418.8L796.8,419.4L797.3,420.1L797.8,420.8L798.3,421.4L798.8,422.1L799.3,422.7L799.8,423.4L800.3,424.1L800.8,424.8L801.3,425.5L801.8,426.2L802.3,426.9L802.8,427.6L803.3,428.2L803.8,428.8L804.3,429.3L804.8,429.8L805.3,430.2L805.8,430.6L806.3,430.9L806.8,431.2L807.3,431.4L807.8,431.6L808.3,431.7L808.8,431.8L809.3,431.8L809.8,431.7L810.3,431.6L810.8,431.5" stroke="#7216dc"/>
</g>
<text y="30.7" font-size="24" fill="#000"><tspan x="379.09" textLength="84.96" lengthAdjust="spacingAndGlyphs">CARDIO</tspan> <tspan x="471.09" textLength="37.59" lengthAdjust="spacingAndGlyphs">PHL</tspan> <tspan x="519.38" textLength="23.43" lengthAdjust="spacingAndGlyphs">90</tspan> <tspan x="551.22" textLength="38.41" lengthAdjust="spacingAndGlyphs">CM</tspan></text>
<text x="18.72" y="53.9" font-size="12.5" fill="#1c1c1c" textLength="18.94" lengthAdjust="spacingAndGlyphs">SPL</text>
<text x="25.98" y="476.0" font-size="12.5" fill="#1c1c1c" textLength="12.13" lengthAdjust="spacingAndGlyphs">70</text>
<text x="25.98" y="425.0" font-size="12.5" fill="#1c1c1c" textLength="12.13" lengthAdjust="spacingAndGlyphs">75</text>
<text x="25.98" y="373.0" font-size="12.5" fill="#1c1c1c" textLength="12.13" lengthAdjust="spacingAndGlyphs">80</text>
<text x="25.98" y="322.0" font-size="12.5" fill="#1c1c1c" textLength="12.13" lengthAdjust="spacingAndGlyphs">85</text>
<text x="25.98" y="271.0" font-size="12.5" fill="#1c1c1c" textLength="12.13" lengthAdjust="spacingAndGlyphs">90</text>
<text x="25.98" y="219.0" font-size="12.5" fill="#1c1c1c" textLength="12.13" lengthAdjust="spacingAndGlyphs">95</text>
<text x="20.17" y="168.0" font-size="12.5" fill="#1c1c1c" textLength="18.03" lengthAdjust="spacingAndGlyphs">100</text>
<text x="20.17" y="117.0" font-size="12.5" fill="#1c1c1c" textLength="18.03" lengthAdjust="spacingAndGlyphs">105</text>
<text x="40.14" y="496.9" font-size="12.5" fill="#1c1c1c" textLength="11.80" lengthAdjust="spacingAndGlyphs">90</text>
<text x="58.23" y="496.9" font-size="12.5" fill="#1c1c1c" textLength="18.28" lengthAdjust="spacingAndGlyphs">100</text>
<text x="197.28" y="496.9" font-size="12.5" fill="#1c1c1c" textLength="19.24" lengthAdjust="spacingAndGlyphs">200</text>
<text x="279.40" y="496.9" font-size="12.5" fill="#1c1c1c" textLength="18.17" lengthAdjust="spacingAndGlyphs">300</text>
<text x="337.62" y="496.9" font-size="12.5" fill="#1c1c1c" textLength="18.17" lengthAdjust="spacingAndGlyphs">400</text>
<text x="381.79" y="496.9" font-size="12.5" fill="#1c1c1c" textLength="19.13" lengthAdjust="spacingAndGlyphs">500</text>
<text x="418.65" y="496.9" font-size="12.5" fill="#1c1c1c" textLength="19.24" lengthAdjust="spacingAndGlyphs">600</text>
<text x="450.18" y="496.9" font-size="12.5" fill="#1c1c1c" textLength="18.23" lengthAdjust="spacingAndGlyphs">700</text>
<text x="476.88" y="496.9" font-size="12.5" fill="#1c1c1c" textLength="19.24" lengthAdjust="spacingAndGlyphs">800</text>
<text x="521.02" y="496.9" font-size="12.5" fill="#1c1c1c" textLength="21.19" lengthAdjust="spacingAndGlyphs">1,0k</text>
<text x="660.27" y="496.9" font-size="12.5" fill="#1c1c1c" textLength="22.31" lengthAdjust="spacingAndGlyphs">2,0k</text>
<text x="742.43" y="496.9" font-size="12.5" fill="#1c1c1c" textLength="21.19" lengthAdjust="spacingAndGlyphs">3,0k</text>
<text x="800.64" y="496.9" font-size="12.5" fill="#1c1c1c" textLength="21.19" lengthAdjust="spacingAndGlyphs">4,0k</text>
<text x="845.78" y="496.9" font-size="12.5" fill="#1c1c1c" textLength="21.19" lengthAdjust="spacingAndGlyphs">5,0k</text>
<text x="882.73" y="496.9" font-size="12.5" fill="#1c1c1c" textLength="21.10" lengthAdjust="spacingAndGlyphs">6,0k</text>
<text x="923.52" y="496.9" font-size="12.5" fill="#1c1c1c" textLength="40.70" lengthAdjust="spacingAndGlyphs">7,91kHz</text>
</svg></body></html>
